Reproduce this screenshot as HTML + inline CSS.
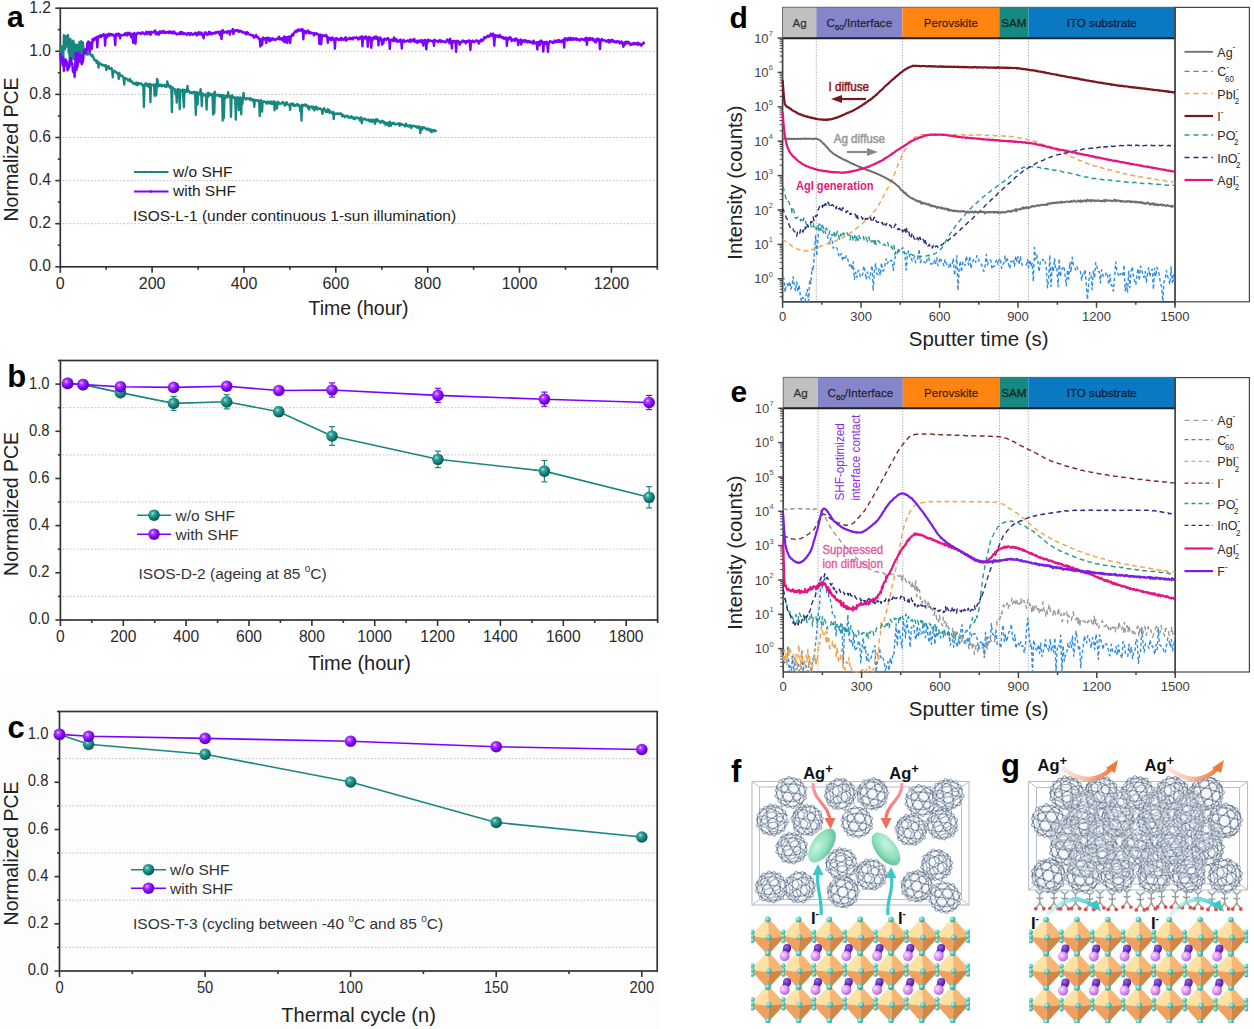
<!DOCTYPE html><html><head><meta charset="utf-8"><title>Figure</title><style>html,body{margin:0;padding:0;background:#fff;overflow:hidden}svg{display:block}svg text{font-family:"Liberation Sans",Arial,sans-serif}</style></head><body>
<svg width="1254" height="1029" viewBox="0 0 1254 1029">
<defs>
<radialGradient id="ballP" cx="0.38" cy="0.35" r="0.65">
 <stop offset="0" stop-color="#f4b8ff"/><stop offset="0.25" stop-color="#b040ff"/><stop offset="0.7" stop-color="#7a00f0"/><stop offset="1" stop-color="#5a00b0"/>
</radialGradient>
<radialGradient id="ballT" cx="0.38" cy="0.35" r="0.65">
 <stop offset="0" stop-color="#a8f0ea"/><stop offset="0.25" stop-color="#3aa89f"/><stop offset="0.7" stop-color="#117a72"/><stop offset="1" stop-color="#0a5650"/>
</radialGradient>

<pattern id="hexp" patternUnits="userSpaceOnUse" width="4.157" height="7.200">
 <path d="M0,1.20 L2.08,0 L4.16,1.20 M2.08,0 L2.08,-2.40 M0,1.20 L0,3.60 L2.08,4.80 L4.16,3.60 M2.08,4.80 L2.08,7.20 M4.16,1.20 L4.16,3.60" fill="none" stroke="#59606a" stroke-width="1.05"/>
</pattern>
<radialGradient id="fulshade" cx="0.45" cy="0.42" r="0.6">
 <stop offset="0" stop-color="#ffffff" stop-opacity="0.25"/><stop offset="0.7" stop-color="#ffffff" stop-opacity="0"/><stop offset="1" stop-color="#3a3f46" stop-opacity="0.35"/>
</radialGradient>
<symbol id="ful" viewBox="-16 -16 32 32" width="32" height="32" overflow="visible">
 <circle r="15" fill="#eef0f3"/>
 <circle r="15" fill="url(#hexp)"/>
 <circle r="15" fill="url(#fulshade)"/>
 <circle r="14.6" fill="none" stroke="#6a717a" stroke-width="1.2" stroke-dasharray="2,1.5"/>
</symbol>
<radialGradient id="cyb" cx="0.35" cy="0.35" r="0.7"><stop offset="0" stop-color="#c8fbf6"/><stop offset="0.5" stop-color="#55cfc6"/><stop offset="1" stop-color="#2a9a92"/></radialGradient>
<radialGradient id="pkb" cx="0.35" cy="0.35" r="0.7"><stop offset="0" stop-color="#fbe0ff"/><stop offset="0.6" stop-color="#d98cf0"/><stop offset="1" stop-color="#b060d0"/></radialGradient>
<radialGradient id="dpb" cx="0.35" cy="0.35" r="0.7"><stop offset="0" stop-color="#9b6be0"/><stop offset="0.6" stop-color="#6a2fc0"/><stop offset="1" stop-color="#4a1a90"/></radialGradient>
<radialGradient id="ell" cx="0.4" cy="0.35" r="0.7"><stop offset="0" stop-color="#c8f5df"/><stop offset="0.6" stop-color="#8ee0bb"/><stop offset="1" stop-color="#5cbf98"/></radialGradient>
<linearGradient id="pinkarr" x1="0" y1="0" x2="0" y2="1"><stop offset="0" stop-color="#f7a0b0"/><stop offset="1" stop-color="#f26a5a"/></linearGradient>
<linearGradient id="orarr" x1="0" y1="0" x2="1" y2="0"><stop offset="0" stop-color="#fbd6cc" stop-opacity="0.6"/><stop offset="1" stop-color="#f07a3a"/></linearGradient>
<linearGradient id="cyarr" x1="0" y1="0" x2="1" y2="0"><stop offset="0" stop-color="#b8f2f0" stop-opacity="0.6"/><stop offset="1" stop-color="#35c8c8"/></linearGradient>
<symbol id="c60_0" viewBox="-17 -17 34 34" width="34" height="34" overflow="visible"><circle r="14.2" fill="#eef2f7" fill-opacity="0.5"/><path d="M11.1 3.2L14.2 2.0M11.1 3.2L7.7 8.2M11.1 3.2L8.2 -1.3M7.4 12.0L10.5 10.8M7.4 12.0L2.1 14.4M7.4 12.0L7.7 8.2M14.2 2.0L13.9 5.8M14.2 2.0L14.3 -3.7M3.0 1.0L-2.0 -2.4M3.0 1.0L2.7 6.8M3.0 1.0L8.2 -1.3M-13.9 -5.8L-13.8 -2.5M-13.9 -5.8L-10.5 -10.8M-1.9 -14.7L-7.0 -12.4M-1.9 -14.7L3.4 -13.6M-11.0 7.5L-8.1 12.0M-11.0 7.5L-7.6 5.8M-11.0 7.5L-14.1 3.4M-8.1 12.0L-8.3 12.3M-8.1 12.0L-2.9 13.0M11.5 -8.1L8.4 -6.9M11.5 -8.1L8.3 -12.3M11.5 -8.1L14.3 -3.7M1.9 14.7L2.1 14.4M8.4 -6.9L3.4 -10.3M8.4 -6.9L8.2 -1.3M2.1 14.4L-2.9 13.0M-1.8 -8.1L-2.0 -2.4M-1.8 -8.1L-7.0 -9.1M-1.8 -8.1L3.4 -10.3M-2.0 -2.4L-7.3 -0.0M8.3 -12.3L3.4 -13.6M-7.0 -9.1L-7.0 -12.4M-7.0 -9.1L-10.4 -4.1M-13.8 -2.5L-10.4 -4.1M-13.8 -2.5L-14.1 3.4M-7.6 5.8L-2.6 9.2M-7.6 5.8L-7.3 -0.0M3.4 -10.3L3.4 -13.6M-2.6 9.2L2.7 6.8M-2.6 9.2L-2.9 13.0M7.7 8.2L2.7 6.8M-7.3 -0.0L-10.4 -4.1M-7.0 -12.4L-10.5 -10.8M-14.3 3.7L-14.1 3.4" stroke="#9ba7b6" stroke-width="1.0" fill="none" stroke-linecap="round"/><path d="M11.1 3.2h0.02M7.4 12.0h0.02M14.2 2.0h0.02M10.4 10.8h0.02M3.0 1.0h0.02M-13.9 -5.8h0.02M-1.9 -14.7h0.02M-11.0 7.5h0.02M-8.1 12.0h0.02M11.4 -8.1h0.02M8.4 -6.9h0.02M2.1 14.4h0.02M-1.8 -8.1h0.02M-2.0 -2.4h0.02M8.3 -12.3h0.02M-7.0 -9.1h0.02M-13.8 -2.5h0.02M14.3 -3.7h0.02M-7.6 5.8h0.02M3.4 -10.3h0.02M-2.6 9.2h0.02M7.7 8.2h0.02M-7.3 -0.0h0.02M-7.0 -12.4h0.02M2.7 6.8h0.02M8.2 -1.3h0.02M-10.4 -4.1h0.02M-2.9 13.0h0.02M3.3 -13.6h0.02M-14.1 3.4h0.02" stroke="#b3bdc9" stroke-width="2.3" stroke-linecap="round"/><path d="M-3.4 10.3L1.8 8.1M-3.4 10.3L-3.4 13.6M-3.4 10.3L-8.4 6.9M10.5 10.8L13.9 5.8M10.5 10.8L7.0 12.4M-13.9 -5.8L-14.2 -2.0M2.6 -9.2L-2.7 -6.8M2.6 -9.2L2.9 -13.0M2.6 -9.2L7.6 -5.8M-1.9 -14.7L-2.1 -14.4M1.8 8.1L2.0 2.4M1.8 8.1L7.0 9.1M1.9 14.7L-3.4 13.6M1.9 14.7L7.0 12.4M2.0 2.4L7.3 0.0M2.0 2.4L-3.0 -1.0M-8.3 12.3L-3.4 13.6M-8.3 12.3L-11.5 8.1M-2.7 -6.8L-7.7 -8.2M-2.7 -6.8L-3.0 -1.0M8.1 -12.0L8.3 -12.3M8.1 -12.0L2.9 -13.0M8.1 -12.0L11.0 -7.5M13.9 5.8L13.8 2.5M2.9 -13.0L-2.1 -14.4M11.0 -7.5L14.1 -3.4M11.0 -7.5L7.6 -5.8M14.3 -3.7L14.1 -3.4M-2.1 -14.4L-7.4 -12.0M13.8 2.5L10.4 4.1M13.8 2.5L14.1 -3.4M-8.2 1.3L-8.4 6.9M-8.2 1.3L-11.1 -3.2M-8.2 1.3L-3.0 -1.0M7.3 0.0L10.4 4.1M7.3 0.0L7.6 -5.8M-11.5 8.1L-8.4 6.9M-11.5 8.1L-14.3 3.7M10.4 4.1L7.0 9.1M-7.7 -8.2L-7.4 -12.0M-7.7 -8.2L-11.1 -3.2M7.0 12.4L7.0 9.1M-7.4 -12.0L-10.5 -10.8M-11.1 -3.2L-14.2 -2.0M-14.2 -2.0L-14.3 3.7" stroke="#6a7a90" stroke-width="1.25" fill="none" stroke-linecap="round"/><g fill="#dde4ec" stroke="#6a7a90" stroke-width="0.55"><circle cx="-3.4" cy="10.3" r="1.5"/><circle cx="2.6" cy="-9.2" r="1.5"/><circle cx="1.8" cy="8.1" r="1.5"/><circle cx="1.9" cy="14.7" r="1.5"/><circle cx="2.0" cy="2.4" r="1.5"/><circle cx="-8.3" cy="12.3" r="1.5"/><circle cx="-2.7" cy="-6.8" r="1.5"/><circle cx="8.1" cy="-12.0" r="1.5"/><circle cx="13.9" cy="5.8" r="1.5"/><circle cx="2.9" cy="-13.0" r="1.5"/><circle cx="11.0" cy="-7.5" r="1.5"/><circle cx="-3.4" cy="13.6" r="1.5"/><circle cx="-2.1" cy="-14.4" r="1.5"/><circle cx="13.8" cy="2.5" r="1.5"/><circle cx="-8.2" cy="1.3" r="1.5"/><circle cx="7.3" cy="0.0" r="1.5"/><circle cx="-11.5" cy="8.1" r="1.5"/><circle cx="10.4" cy="4.1" r="1.5"/><circle cx="-8.4" cy="6.9" r="1.5"/><circle cx="-7.7" cy="-8.2" r="1.5"/><circle cx="7.0" cy="12.4" r="1.5"/><circle cx="-7.4" cy="-12.0" r="1.5"/><circle cx="-11.1" cy="-3.2" r="1.5"/><circle cx="-3.0" cy="-1.0" r="1.5"/><circle cx="-10.5" cy="-10.8" r="1.5"/><circle cx="-14.2" cy="-2.0" r="1.5"/><circle cx="-14.3" cy="3.7" r="1.5"/><circle cx="14.1" cy="-3.4" r="1.5"/><circle cx="7.6" cy="-5.8" r="1.5"/><circle cx="7.0" cy="9.1" r="1.5"/></g></symbol><symbol id="c60_1" viewBox="-17 -17 34 34" width="34" height="34" overflow="visible"><circle r="14.2" fill="#eef2f7" fill-opacity="0.5"/><path d="M6.7 12.7L11.2 9.8M6.7 12.7L2.0 14.8M6.7 12.7L4.4 10.7M11.2 9.8L13.6 4.9M-1.5 11.5L-5.2 7.4M-1.5 11.5L-3.0 14.1M-1.5 11.5L4.4 10.7M-11.2 -9.0L-13.5 -3.5M-11.2 -9.0L-6.6 -11.1M-11.2 -9.0L-11.2 -9.8M8.2 -12.5L8.2 -11.7M1.8 -8.5L3.1 -12.4M1.8 -8.5L-4.2 -7.7M1.8 -8.5L5.4 -3.9M-14.1 5.0L-11.8 8.4M11.4 2.8L6.8 5.7M11.4 2.8L10.5 -3.1M11.4 2.8L13.6 4.9M6.8 5.7L3.1 1.6M6.8 5.7L4.4 10.7M-2.9 2.5L-5.2 7.4M-2.9 2.5L-6.5 -2.2M-2.9 2.5L3.1 1.6M11.9 -7.0L10.5 -3.1M11.9 -7.0L8.2 -11.7M11.9 -7.0L14.1 -5.0M-5.2 7.4L-10.3 5.8M10.5 -3.1L5.4 -3.9M8.2 -11.7L3.1 -12.4M-6.5 -2.2L-4.2 -7.7M-6.5 -2.2L-11.2 -0.1M-13.5 -3.5L-11.2 -0.1M-13.5 -3.5L-15.0 -1.0M14.1 -5.0L15.0 1.0M13.6 4.9L15.0 1.0M-11.8 8.4L-8.2 12.5M-11.8 8.4L-10.3 5.8M3.1 1.6L5.4 -3.9M-8.2 12.5L-3.0 14.1M3.1 -12.4L-2.0 -14.0M2.0 14.8L-3.0 14.1M-10.3 5.8L-11.2 -0.1M-4.2 -7.7L-6.6 -11.1M-2.0 -14.8L-2.0 -14.0M-2.0 -14.0L-6.6 -11.1" stroke="#9ba7b6" stroke-width="1.0" fill="none" stroke-linecap="round"/><path d="M6.7 12.7h0.02M11.2 9.8h0.02M-1.6 11.5h0.02M-11.2 -9.0h0.02M1.7 -8.5h0.02M11.3 2.8h0.02M6.8 5.7h0.02M-2.9 2.5h0.02M11.9 -7.0h0.02M-5.2 7.4h0.02M10.5 -3.1h0.02M8.2 -11.7h0.02M-6.6 -2.2h0.02M-13.5 -3.5h0.02M14.1 -5.0h0.02M13.6 4.9h0.02M-11.8 8.4h0.02M3.1 1.6h0.02M-8.2 12.5h0.02M3.1 -12.4h0.02M2.0 14.8h0.02M-10.3 5.8h0.02M-4.2 -7.7h0.02M-3.0 14.1h0.02M4.4 10.7h0.02M-2.0 -14.0h0.02M-6.6 -11.1h0.02M-11.2 -0.1h0.02M5.4 -3.9h0.02M-15.0 -1.0h0.02" stroke="#b3bdc9" stroke-width="2.3" stroke-linecap="round"/><path d="M2.0 14.0L6.6 11.1M2.0 14.0L-3.1 12.4M2.0 14.0L2.0 14.8M-3.1 -1.6L2.9 -2.5M-3.1 -1.6L-5.4 3.9M-3.1 -1.6L-6.8 -5.7M11.2 9.8L11.2 9.0M6.6 11.1L11.2 9.0M6.6 11.1L4.2 7.7M8.2 -12.5L3.0 -14.1M8.2 -12.5L11.8 -8.4M-14.1 5.0L-11.9 7.0M-14.1 5.0L-15.0 -1.0M2.9 -2.5L5.2 -7.4M2.9 -2.5L6.5 2.2M-11.9 7.0L-10.5 3.1M-11.9 7.0L-8.2 11.7M-1.8 8.5L-3.1 12.4M-1.8 8.5L-5.4 3.9M-1.8 8.5L4.2 7.7M5.2 -7.4L10.3 -5.8M5.2 -7.4L1.5 -11.5M-3.1 12.4L-8.2 11.7M-10.5 3.1L-5.4 3.9M-10.5 3.1L-11.4 -2.8M3.0 -14.1L-2.0 -14.8M3.0 -14.1L1.5 -11.5M11.2 9.0L13.5 3.5M14.1 -5.0L11.8 -8.4M-8.2 12.5L-8.2 11.7M13.5 3.5L11.2 0.1M13.5 3.5L15.0 1.0M-4.4 -10.7L-6.8 -5.7M-4.4 -10.7L-6.7 -12.7M-4.4 -10.7L1.5 -11.5M10.3 -5.8L11.2 0.1M10.3 -5.8L11.8 -8.4M-11.4 -2.8L-6.8 -5.7M-11.4 -2.8L-13.6 -4.9M11.2 0.1L6.5 2.2M-2.0 -14.8L-6.7 -12.7M4.2 7.7L6.5 2.2M-6.7 -12.7L-11.2 -9.8M-11.2 -9.8L-13.6 -4.9M-13.6 -4.9L-15.0 -1.0" stroke="#6a7a90" stroke-width="1.25" fill="none" stroke-linecap="round"/><g fill="#dde4ec" stroke="#6a7a90" stroke-width="0.55"><circle cx="2.0" cy="14.0" r="1.5"/><circle cx="-3.1" cy="-1.6" r="1.5"/><circle cx="6.6" cy="11.1" r="1.5"/><circle cx="8.2" cy="-12.5" r="1.5"/><circle cx="-14.1" cy="5.0" r="1.5"/><circle cx="2.9" cy="-2.5" r="1.5"/><circle cx="-11.9" cy="7.0" r="1.5"/><circle cx="-1.8" cy="8.5" r="1.5"/><circle cx="5.2" cy="-7.4" r="1.5"/><circle cx="-3.1" cy="12.4" r="1.5"/><circle cx="-10.5" cy="3.1" r="1.5"/><circle cx="3.0" cy="-14.1" r="1.5"/><circle cx="11.2" cy="9.0" r="1.5"/><circle cx="-5.4" cy="3.9" r="1.5"/><circle cx="13.5" cy="3.5" r="1.5"/><circle cx="-4.4" cy="-10.7" r="1.5"/><circle cx="10.3" cy="-5.8" r="1.5"/><circle cx="-11.4" cy="-2.8" r="1.5"/><circle cx="11.2" cy="0.1" r="1.5"/><circle cx="-6.8" cy="-5.7" r="1.5"/><circle cx="-2.0" cy="-14.8" r="1.5"/><circle cx="4.2" cy="7.7" r="1.5"/><circle cx="-6.7" cy="-12.7" r="1.5"/><circle cx="1.5" cy="-11.5" r="1.5"/><circle cx="-11.2" cy="-9.8" r="1.5"/><circle cx="-13.6" cy="-4.9" r="1.5"/><circle cx="15.0" cy="1.0" r="1.5"/><circle cx="-8.2" cy="11.7" r="1.5"/><circle cx="11.8" cy="-8.4" r="1.5"/><circle cx="6.5" cy="2.2" r="1.5"/></g></symbol><symbol id="c60_2" viewBox="-17 -17 34 34" width="34" height="34" overflow="visible"><circle r="14.2" fill="#eef2f7" fill-opacity="0.5"/><path d="M0.8 2.5L6.4 0.6M0.8 2.5L-1.1 7.8M0.8 2.5L-3.8 -1.4M2.6 11.3L8.2 9.5M2.6 11.3L0.5 14.3M2.6 11.3L-1.1 7.8M6.4 0.6L10.1 4.1M6.4 0.6L7.4 -5.2M8.2 9.5L10.1 4.1M8.2 9.5L9.6 11.3M-8.6 1.5L-12.4 -1.3M-8.6 1.5L-6.9 7.2M-8.6 1.5L-3.8 -1.4M-4.8 -14.2L-3.3 -13.6M-6.9 13.0L-5.4 13.7M2.8 -9.1L-2.8 -7.2M2.8 -9.1L2.5 -13.0M2.8 -9.1L7.4 -5.2M4.8 14.2L0.5 14.3M4.8 14.2L9.6 11.3M-2.8 -7.2L-6.6 -10.0M-2.8 -7.2L-3.8 -1.4M0.5 14.3L-5.4 13.7M-11.4 -7.0L-12.4 -1.3M-11.4 -7.0L-12.9 -7.7M-11.4 -7.0L-6.6 -10.0M6.9 -13.0L2.5 -13.0M6.9 -13.0L11.5 -9.1M10.1 4.1L13.4 0.5M-12.4 -1.3L-14.5 1.6M2.5 -13.0L-3.3 -13.6M11.5 -9.1L11.8 -5.2M11.5 -9.1L12.8 -7.4M7.4 -5.2L11.8 -5.2M-12.8 7.4L-9.1 10.2M-12.8 7.4L-14.5 1.6M-6.6 -10.0L-3.3 -13.6M-9.1 10.2L-6.9 7.2M-9.1 10.2L-5.4 13.7M13.4 0.5L14.8 2.3M13.4 0.5L11.8 -5.2M14.8 2.3L12.9 7.7M-1.1 7.8L-6.9 7.2M-14.5 1.6L-14.8 -2.3M9.6 11.3L12.9 7.7" stroke="#9ba7b6" stroke-width="1.0" fill="none" stroke-linecap="round"/><path d="M0.8 2.5h0.02M2.6 11.3h0.02M6.4 0.6h0.02M8.2 9.5h0.02M-8.6 1.5h0.02M2.8 -9.1h0.02M4.8 14.2h0.02M-2.8 -7.2h0.02M0.4 14.3h0.02M-11.4 -7.0h0.02M6.8 -13.0h0.02M10.1 4.1h0.02M-12.4 -1.3h0.02M2.5 -13.0h0.02M-12.9 -7.7h0.02M11.5 -9.1h0.02M7.4 -5.2h0.02M-12.8 7.4h0.02M-6.6 -10.0h0.02M-9.1 10.2h0.02M13.4 0.5h0.02M14.8 2.3h0.02M-1.1 7.8h0.02M-14.5 1.6h0.02M-6.9 7.2h0.02M-3.8 -1.4h0.02M9.5 11.3h0.02M11.8 -5.2h0.02M-5.4 13.7h0.02M-3.3 -13.6h0.02" stroke="#b3bdc9" stroke-width="2.3" stroke-linecap="round"/><path d="M6.6 10.0L11.4 7.0M6.6 10.0L3.3 13.6M6.6 10.0L2.8 7.2M-10.1 -4.1L-13.4 -0.5M-10.1 -4.1L-8.2 -9.5M-10.1 -4.1L-6.4 -0.6M9.1 -10.2L6.9 -7.2M9.1 -10.2L5.4 -13.7M9.1 -10.2L12.8 -7.4M-4.8 -14.2L-0.5 -14.3M-4.8 -14.2L-9.6 -11.3M-11.5 9.1L-6.9 13.0M-11.5 9.1L-12.8 7.4M-11.5 9.1L-11.8 5.2M11.4 7.0L12.4 1.3M11.4 7.0L12.9 7.7M-6.9 13.0L-2.5 13.0M4.8 14.2L3.3 13.6M12.4 1.3L14.5 -1.6M12.4 1.3L8.6 -1.5M-2.5 13.0L3.3 13.6M-2.5 13.0L-2.8 9.1M6.9 -7.2L1.1 -7.8M6.9 -7.2L8.6 -1.5M6.9 -13.0L5.4 -13.7M5.4 -13.7L-0.5 -14.3M-12.9 -7.7L-9.6 -11.3M-12.9 -7.7L-14.8 -2.3M-13.4 -0.5L-14.8 -2.3M-13.4 -0.5L-11.8 5.2M-0.5 -14.3L-2.6 -11.3M3.8 1.4L2.8 7.2M3.8 1.4L-0.8 -2.5M3.8 1.4L8.6 -1.5M14.5 -1.6L14.8 2.3M14.5 -1.6L12.8 -7.4M-2.8 9.1L2.8 7.2M-2.8 9.1L-7.4 5.2M-9.6 -11.3L-8.2 -9.5M1.1 -7.8L-2.6 -11.3M1.1 -7.8L-0.8 -2.5M-2.6 -11.3L-8.2 -9.5M-0.8 -2.5L-6.4 -0.6M-6.4 -0.6L-7.4 5.2M-7.4 5.2L-11.8 5.2" stroke="#6a7a90" stroke-width="1.25" fill="none" stroke-linecap="round"/><g fill="#dde4ec" stroke="#6a7a90" stroke-width="0.55"><circle cx="6.6" cy="10.0" r="1.5"/><circle cx="-10.1" cy="-4.1" r="1.5"/><circle cx="9.1" cy="-10.2" r="1.5"/><circle cx="-4.8" cy="-14.2" r="1.5"/><circle cx="-11.5" cy="9.1" r="1.5"/><circle cx="11.4" cy="7.0" r="1.5"/><circle cx="-6.9" cy="13.0" r="1.5"/><circle cx="12.4" cy="1.3" r="1.5"/><circle cx="-2.5" cy="13.0" r="1.5"/><circle cx="6.9" cy="-7.2" r="1.5"/><circle cx="5.4" cy="-13.7" r="1.5"/><circle cx="-13.4" cy="-0.5" r="1.5"/><circle cx="3.3" cy="13.6" r="1.5"/><circle cx="-0.5" cy="-14.3" r="1.5"/><circle cx="3.8" cy="1.4" r="1.5"/><circle cx="14.5" cy="-1.6" r="1.5"/><circle cx="-2.8" cy="9.1" r="1.5"/><circle cx="2.8" cy="7.2" r="1.5"/><circle cx="-9.6" cy="-11.3" r="1.5"/><circle cx="1.1" cy="-7.8" r="1.5"/><circle cx="-2.6" cy="-11.3" r="1.5"/><circle cx="-0.8" cy="-2.5" r="1.5"/><circle cx="8.6" cy="-1.5" r="1.5"/><circle cx="-8.2" cy="-9.5" r="1.5"/><circle cx="-6.4" cy="-0.6" r="1.5"/><circle cx="-14.8" cy="-2.3" r="1.5"/><circle cx="-7.4" cy="5.2" r="1.5"/><circle cx="12.8" cy="-7.4" r="1.5"/><circle cx="12.9" cy="7.7" r="1.5"/><circle cx="-11.8" cy="5.2" r="1.5"/></g></symbol><symbol id="c60_3" viewBox="-17 -17 34 34" width="34" height="34" overflow="visible"><circle r="14.2" fill="#eef2f7" fill-opacity="0.5"/><path d="M-2.0 11.3L3.4 9.1M-2.0 11.3L-2.5 14.1M-2.0 11.3L-7.0 8.1M2.4 14.8L7.7 12.6M2.4 14.8L-2.5 14.1M3.4 9.1L8.3 9.8M3.4 9.1L3.7 3.7M7.7 12.6L8.3 9.8M7.7 12.6L10.6 10.4M-10.6 8.9L-13.9 4.3M-10.6 8.9L-7.8 12.7M-10.6 8.9L-7.0 8.1M8.3 -11.8L7.8 -12.7M8.3 -11.8L3.5 -12.5M8.3 -11.8L11.6 -7.2M-6.9 -11.2L-1.9 -13.9M-6.9 -11.2L-10.6 -10.4M-6.9 -11.2L-6.6 -7.0M-1.3 0.4L-6.7 2.6M-1.3 0.4L-1.3 -5.5M-1.3 0.4L3.7 3.7M-6.7 2.6L-10.0 -2.0M-6.7 2.6L-7.0 8.1M-13.6 -1.2L-13.9 4.3M-13.6 -1.2L-13.9 -5.4M-13.6 -1.2L-10.0 -2.0M3.8 -8.2L-1.3 -5.5M3.8 -8.2L3.5 -12.5M3.8 -8.2L8.8 -5.0M8.3 9.8L11.6 4.7M-13.9 4.3L-14.4 3.4M-1.3 -5.5L-6.6 -7.0M3.5 -12.5L-1.9 -13.9M-13.9 -5.4L-10.6 -10.4M8.8 -5.0L8.8 1.0M8.8 -5.0L11.6 -7.2M3.7 3.7L8.8 1.0M-10.0 -2.0L-6.6 -7.0M-1.9 -13.9L-2.4 -14.8M11.6 4.7L14.4 2.5M11.6 4.7L8.8 1.0M14.4 -3.4L14.4 2.5M14.4 -3.4L11.6 -7.2M14.4 2.5L13.9 5.4M-2.5 14.1L-7.8 12.7" stroke="#9ba7b6" stroke-width="1.0" fill="none" stroke-linecap="round"/><path d="M-2.0 11.3h0.02M2.4 14.8h0.02M3.4 9.1h0.02M7.7 12.6h0.02M-10.6 8.9h0.02M8.3 -11.8h0.02M-6.9 -11.2h0.02M-1.3 0.4h0.02M-6.7 2.6h0.02M-13.6 -1.2h0.02M3.8 -8.2h0.02M8.2 9.8h0.02M-13.9 4.3h0.02M-1.3 -5.5h0.02M3.5 -12.5h0.02M-13.9 -5.4h0.02M8.8 -5.0h0.02M3.7 3.7h0.02M-10.0 -2.0h0.02M-1.9 -13.9h0.02M11.6 4.7h0.02M14.4 -3.4h0.02M14.4 2.5h0.02M-2.5 14.1h0.02M-10.6 -10.4h0.02M-7.8 12.7h0.02M-7.0 8.1h0.02M8.8 1.0h0.02M11.6 -7.2h0.02M-6.6 -7.0h0.02" stroke="#b3bdc9" stroke-width="2.3" stroke-linecap="round"/><path d="M2.4 14.8L1.9 13.9M10.0 2.0L13.6 1.2M10.0 2.0L6.6 7.0M10.0 2.0L6.7 -2.6M-8.3 -9.8L-11.6 -4.7M-8.3 -9.8L-7.7 -12.6M-8.3 -9.8L-3.4 -9.1M-8.8 5.0L-3.8 8.2M-8.8 5.0L-11.6 7.2M-8.8 5.0L-8.8 -1.0M13.6 1.2L13.9 -4.3M13.6 1.2L13.9 5.4M-3.8 8.2L1.3 5.5M-3.8 8.2L-3.5 12.5M6.9 11.2L1.9 13.9M6.9 11.2L6.6 7.0M6.9 11.2L10.6 10.4M13.9 -4.3L14.4 -3.4M13.9 -4.3L10.6 -8.9M1.9 13.9L-3.5 12.5M1.3 5.5L6.6 7.0M1.3 5.5L1.3 -0.4M7.8 -12.7L2.5 -14.1M7.8 -12.7L10.6 -8.9M-13.9 -5.4L-14.4 -2.5M-11.6 -4.7L-14.4 -2.5M-11.6 -4.7L-8.8 -1.0M-11.6 7.2L-8.3 11.8M-11.6 7.2L-14.4 3.4M-8.3 11.8L-7.8 12.7M-8.3 11.8L-3.5 12.5M7.0 -8.1L6.7 -2.6M7.0 -8.1L2.0 -11.3M7.0 -8.1L10.6 -8.9M1.3 -0.4L6.7 -2.6M1.3 -0.4L-3.7 -3.7M-14.4 3.4L-14.4 -2.5M-10.6 -10.4L-7.7 -12.6M2.5 -14.1L-2.4 -14.8M2.5 -14.1L2.0 -11.3M10.6 10.4L13.9 5.4M-2.4 -14.8L-7.7 -12.6M2.0 -11.3L-3.4 -9.1M-3.4 -9.1L-3.7 -3.7M-3.7 -3.7L-8.8 -1.0" stroke="#6a7a90" stroke-width="1.25" fill="none" stroke-linecap="round"/><g fill="#dde4ec" stroke="#6a7a90" stroke-width="0.55"><circle cx="10.0" cy="2.0" r="1.5"/><circle cx="-8.3" cy="-9.8" r="1.5"/><circle cx="-8.8" cy="5.0" r="1.5"/><circle cx="13.6" cy="1.2" r="1.5"/><circle cx="-3.8" cy="8.2" r="1.5"/><circle cx="6.9" cy="11.2" r="1.5"/><circle cx="13.9" cy="-4.3" r="1.5"/><circle cx="1.9" cy="13.9" r="1.5"/><circle cx="1.3" cy="5.5" r="1.5"/><circle cx="7.8" cy="-12.7" r="1.5"/><circle cx="-11.6" cy="-4.7" r="1.5"/><circle cx="-11.6" cy="7.2" r="1.5"/><circle cx="6.6" cy="7.0" r="1.5"/><circle cx="-8.3" cy="11.8" r="1.5"/><circle cx="7.0" cy="-8.1" r="1.5"/><circle cx="1.3" cy="-0.4" r="1.5"/><circle cx="6.7" cy="-2.6" r="1.5"/><circle cx="-14.4" cy="3.4" r="1.5"/><circle cx="2.5" cy="-14.1" r="1.5"/><circle cx="10.6" cy="10.4" r="1.5"/><circle cx="-2.4" cy="-14.8" r="1.5"/><circle cx="2.0" cy="-11.3" r="1.5"/><circle cx="10.6" cy="-8.9" r="1.5"/><circle cx="-7.7" cy="-12.6" r="1.5"/><circle cx="-3.4" cy="-9.1" r="1.5"/><circle cx="-14.4" cy="-2.5" r="1.5"/><circle cx="-3.7" cy="-3.7" r="1.5"/><circle cx="-3.5" cy="12.5" r="1.5"/><circle cx="13.9" cy="5.4" r="1.5"/><circle cx="-8.8" cy="-1.0" r="1.5"/></g></symbol><symbol id="c60_4" viewBox="-17 -17 34 34" width="34" height="34" overflow="visible"><circle r="14.2" fill="#eef2f7" fill-opacity="0.5"/><path d="M11.6 8.3L12.5 8.2M11.6 8.3L7.0 11.4M11.6 8.3L12.4 3.3M3.2 14.3L4.0 14.2M3.2 14.3L-2.8 14.1M3.2 14.3L7.0 11.4M8.2 3.3L5.6 -1.9M8.2 3.3L4.9 8.3M8.2 3.3L12.4 3.3M-8.7 -11.1L-7.9 -7.7M-8.7 -11.1L-4.0 -14.2M-8.7 -11.1L-12.5 -8.2M5.6 -13.8L1.4 -13.9M5.6 -13.8L10.6 -10.4M-9.1 2.6L-9.9 7.6M-9.1 2.6L-3.7 2.9M-9.1 2.6L-11.2 -2.7M-9.9 7.6L-12.7 7.3M-9.9 7.6L-4.9 11.0M14.8 -2.0L14.0 -1.9M-5.6 13.8L-2.8 14.1M14.0 -1.9L11.4 -7.1M14.0 -1.9L12.4 3.3M-2.8 14.1L-4.9 11.0M-12.7 7.3L-10.6 10.4M-12.7 7.3L-14.8 2.0M7.2 -7.1L5.6 -1.9M7.2 -7.1L2.2 -10.5M7.2 -7.1L11.4 -7.1M5.6 -1.9L-0.4 -2.1M2.2 -10.5L1.4 -13.9M2.2 -10.5L-2.4 -7.4M-7.9 -7.7L-2.4 -7.4M-7.9 -7.7L-11.2 -2.7M-3.7 2.9L-1.1 8.1M-3.7 2.9L-0.4 -2.1M11.4 -7.1L10.6 -10.4M-1.1 8.1L4.9 8.3M-1.1 8.1L-4.9 11.0M-14.8 2.0L-14.1 -3.0M7.0 11.4L4.9 8.3M-0.4 -2.1L-2.4 -7.4M1.4 -13.9L-4.0 -14.2M-12.5 -8.2L-14.1 -3.0M-14.1 -3.0L-11.2 -2.7" stroke="#9ba7b6" stroke-width="1.0" fill="none" stroke-linecap="round"/><path d="M11.6 8.3h0.02M3.1 14.3h0.02M8.2 3.3h0.02M-8.7 -11.1h0.02M5.6 -13.8h0.02M-9.2 2.6h0.02M-9.9 7.6h0.02M14.0 -1.9h0.02M-2.8 14.1h0.02M-12.8 7.3h0.02M7.2 -7.1h0.02M5.6 -1.9h0.02M2.2 -10.5h0.02M-7.9 -7.7h0.02M-3.7 2.9h0.02M11.4 -7.1h0.02M-1.1 8.1h0.02M-14.8 2.0h0.02M7.0 11.4h0.02M-0.4 -2.1h0.02M1.4 -13.9h0.02M4.8 8.3h0.02M12.4 3.3h0.02M-4.0 -14.2h0.02M-12.5 -8.2h0.02M-2.5 -7.4h0.02M-14.1 -3.0h0.02M-4.9 11.0h0.02M10.6 -10.4h0.02M-11.2 -2.7h0.02" stroke="#b3bdc9" stroke-width="2.3" stroke-linecap="round"/><path d="M-11.4 7.1L-7.2 7.1M-11.4 7.1L-10.6 10.4M-11.4 7.1L-14.0 1.9M12.5 8.2L8.7 11.1M12.5 8.2L14.1 3.0M4.0 14.2L8.7 11.1M4.0 14.2L-1.4 13.9M1.1 -8.1L-4.9 -8.3M1.1 -8.1L4.9 -11.0M1.1 -8.1L3.7 -2.9M5.6 -13.8L2.8 -14.1M-7.2 7.1L-5.6 1.9M-7.2 7.1L-2.2 10.5M14.8 -2.0L12.7 -7.3M14.8 -2.0L14.1 3.0M-5.6 13.8L-10.6 10.4M-5.6 13.8L-1.4 13.9M-5.6 1.9L0.4 2.1M-5.6 1.9L-8.2 -3.3M-4.9 -8.3L-7.0 -11.4M-4.9 -8.3L-8.2 -3.3M9.9 -7.6L12.7 -7.3M9.9 -7.6L4.9 -11.0M9.9 -7.6L9.1 -2.6M8.7 11.1L7.9 7.7M12.7 -7.3L10.6 -10.4M4.9 -11.0L2.8 -14.1M9.1 -2.6L11.2 2.7M9.1 -2.6L3.7 -2.9M14.1 3.0L11.2 2.7M2.8 -14.1L-3.2 -14.3M7.9 7.7L2.4 7.4M7.9 7.7L11.2 2.7M-12.4 -3.3L-14.0 1.9M-12.4 -3.3L-11.6 -8.3M-12.4 -3.3L-8.2 -3.3M0.4 2.1L2.4 7.4M0.4 2.1L3.7 -2.9M-14.8 2.0L-14.0 1.9M2.4 7.4L-2.2 10.5M-7.0 -11.4L-3.2 -14.3M-7.0 -11.4L-11.6 -8.3M-1.4 13.9L-2.2 10.5M-3.2 -14.3L-4.0 -14.2M-11.6 -8.3L-12.5 -8.2" stroke="#6a7a90" stroke-width="1.25" fill="none" stroke-linecap="round"/><g fill="#dde4ec" stroke="#6a7a90" stroke-width="0.55"><circle cx="-11.4" cy="7.1" r="1.5"/><circle cx="12.5" cy="8.2" r="1.5"/><circle cx="4.0" cy="14.2" r="1.5"/><circle cx="1.1" cy="-8.1" r="1.5"/><circle cx="-7.2" cy="7.1" r="1.5"/><circle cx="14.8" cy="-2.0" r="1.5"/><circle cx="-5.6" cy="13.8" r="1.5"/><circle cx="-5.6" cy="1.9" r="1.5"/><circle cx="-4.9" cy="-8.3" r="1.5"/><circle cx="9.9" cy="-7.6" r="1.5"/><circle cx="8.7" cy="11.1" r="1.5"/><circle cx="12.7" cy="-7.3" r="1.5"/><circle cx="4.9" cy="-11.0" r="1.5"/><circle cx="9.1" cy="-2.6" r="1.5"/><circle cx="14.1" cy="3.0" r="1.5"/><circle cx="-10.6" cy="10.4" r="1.5"/><circle cx="2.8" cy="-14.1" r="1.5"/><circle cx="7.9" cy="7.7" r="1.5"/><circle cx="-12.4" cy="-3.3" r="1.5"/><circle cx="0.4" cy="2.1" r="1.5"/><circle cx="2.4" cy="7.4" r="1.5"/><circle cx="-14.0" cy="1.9" r="1.5"/><circle cx="-7.0" cy="-11.4" r="1.5"/><circle cx="-1.4" cy="13.9" r="1.5"/><circle cx="-3.2" cy="-14.3" r="1.5"/><circle cx="-11.6" cy="-8.3" r="1.5"/><circle cx="-8.2" cy="-3.3" r="1.5"/><circle cx="11.2" cy="2.7" r="1.5"/><circle cx="3.7" cy="-2.9" r="1.5"/><circle cx="-2.2" cy="10.5" r="1.5"/></g></symbol><symbol id="c60_5" viewBox="-17 -17 34 34" width="34" height="34" overflow="visible"><circle r="14.2" fill="#eef2f7" fill-opacity="0.5"/><path d="M-5.4 1.5L-3.7 -4.3M-5.4 1.5L-1.1 5.8M-5.4 1.5L-10.1 3.4M4.7 4.3L6.4 -1.5M4.7 4.3L8.5 7.4M4.7 4.3L-1.1 5.8M14.9 -0.9L14.3 4.0M-3.7 -4.3L2.1 -5.8M-3.7 -4.3L-6.8 -8.3M6.4 -1.5L2.1 -5.8M6.4 -1.5L11.1 -2.1M-8.7 8.8L-10.5 10.4M-8.7 8.8L-3.2 10.4M-8.7 8.8L-10.1 3.4M13.6 -6.4L11.7 -7.0M8.3 12.5L6.4 11.9M-11.5 -6.4L-13.1 -0.6M-11.5 -6.4L-12.2 -8.5M-11.5 -6.4L-6.8 -8.3M12.5 3.4L8.5 7.4M12.5 3.4L14.3 4.0M12.5 3.4L11.1 -2.1M-13.1 -0.6L-14.9 0.9M-13.1 -0.6L-10.1 3.4M8.5 7.4L6.4 11.9M12.2 8.5L14.3 4.0M-13.6 6.4L-10.5 10.4M-13.6 6.4L-14.9 0.9M-8.3 -12.5L-12.2 -8.5M-8.3 -12.5L-3.6 -14.3M2.1 -5.8L2.7 -10.7M-10.5 10.4L-6.7 13.4M-3.6 -14.3L-2.8 -12.2M-3.6 -14.3L1.2 -14.9M-6.8 -8.3L-2.8 -12.2M-1.2 14.9L0.6 13.4M-1.2 14.9L-6.7 13.4M0.6 13.4L-3.2 10.4M0.6 13.4L6.4 11.9M2.7 -10.7L7.5 -11.3M2.7 -10.7L-2.8 -12.2M6.7 -13.4L7.5 -11.3M7.5 -11.3L11.7 -7.0M-1.1 5.8L-3.2 10.4M11.1 -2.1L11.7 -7.0" stroke="#9ba7b6" stroke-width="1.0" fill="none" stroke-linecap="round"/><path d="M-5.4 1.5h0.02M4.7 4.3h0.02M-3.7 -4.3h0.02M6.4 -1.5h0.02M-8.7 8.8h0.02M13.5 -6.4h0.02M8.3 12.5h0.02M-11.5 -6.4h0.02M12.5 3.4h0.02M-13.1 -0.6h0.02M8.5 7.4h0.02M2.1 -5.8h0.02M-10.5 10.4h0.02M-12.3 -8.5h0.02M-3.6 -14.3h0.02M-6.8 -8.3h0.02M-1.2 14.9h0.02M14.3 4.0h0.02M-14.9 0.9h0.02M0.6 13.4h0.02M2.7 -10.7h0.02M6.7 -13.4h0.02M7.4 -11.3h0.02M-1.1 5.8h0.02M-3.2 10.4h0.02M-10.1 3.4h0.02M11.1 -2.1h0.02M-2.9 -12.2h0.02M6.4 11.9h0.02M11.7 -7.0h0.02" stroke="#b3bdc9" stroke-width="2.3" stroke-linecap="round"/><path d="M14.9 -0.9L13.6 -6.4M14.9 -0.9L13.1 0.6M-2.1 5.8L-2.7 10.7M-2.1 5.8L-6.4 1.5M-2.1 5.8L3.7 4.3M-0.6 -13.4L3.2 -10.4M-0.6 -13.4L-6.4 -11.9M-0.6 -13.4L1.2 -14.9M-12.5 -3.4L-8.5 -7.4M-12.5 -3.4L-11.1 2.1M-12.5 -3.4L-14.3 -4.0M3.6 14.3L8.3 12.5M3.6 14.3L-1.2 14.9M3.6 14.3L2.8 12.2M13.6 -6.4L10.5 -10.4M8.3 12.5L12.2 8.5M10.5 -10.4L6.7 -13.4M10.5 -10.4L8.7 -8.8M12.2 8.5L11.5 6.4M-13.6 6.4L-11.7 7.0M3.2 -10.4L1.1 -5.8M3.2 -10.4L8.7 -8.8M-8.3 -12.5L-6.4 -11.9M-12.2 -8.5L-14.3 -4.0M-6.4 -11.9L-8.5 -7.4M-11.7 7.0L-11.1 2.1M-11.7 7.0L-7.5 11.3M-2.7 10.7L-7.5 11.3M-2.7 10.7L2.8 12.2M-14.9 0.9L-14.3 -4.0M-8.5 -7.4L-4.7 -4.3M10.1 -3.4L13.1 0.6M10.1 -3.4L5.4 -1.5M10.1 -3.4L8.7 -8.8M6.7 -13.4L1.2 -14.9M11.5 6.4L13.1 0.6M11.5 6.4L6.8 8.3M-6.7 13.4L-7.5 11.3M-11.1 2.1L-6.4 1.5M1.1 -5.8L-4.7 -4.3M1.1 -5.8L5.4 -1.5M-4.7 -4.3L-6.4 1.5M5.4 -1.5L3.7 4.3M3.7 4.3L6.8 8.3M6.8 8.3L2.8 12.2" stroke="#6a7a90" stroke-width="1.25" fill="none" stroke-linecap="round"/><g fill="#dde4ec" stroke="#6a7a90" stroke-width="0.55"><circle cx="14.9" cy="-0.9" r="1.5"/><circle cx="-2.1" cy="5.8" r="1.5"/><circle cx="-0.6" cy="-13.4" r="1.5"/><circle cx="-12.5" cy="-3.4" r="1.5"/><circle cx="3.6" cy="14.3" r="1.5"/><circle cx="10.5" cy="-10.4" r="1.5"/><circle cx="12.2" cy="8.5" r="1.5"/><circle cx="-13.6" cy="6.4" r="1.5"/><circle cx="3.2" cy="-10.4" r="1.5"/><circle cx="-8.3" cy="-12.5" r="1.5"/><circle cx="-6.4" cy="-11.9" r="1.5"/><circle cx="-11.7" cy="7.0" r="1.5"/><circle cx="-2.7" cy="10.7" r="1.5"/><circle cx="-8.5" cy="-7.4" r="1.5"/><circle cx="10.1" cy="-3.4" r="1.5"/><circle cx="11.5" cy="6.4" r="1.5"/><circle cx="13.1" cy="0.6" r="1.5"/><circle cx="-6.7" cy="13.4" r="1.5"/><circle cx="-11.1" cy="2.1" r="1.5"/><circle cx="1.1" cy="-5.8" r="1.5"/><circle cx="-4.7" cy="-4.3" r="1.5"/><circle cx="5.4" cy="-1.5" r="1.5"/><circle cx="8.7" cy="-8.8" r="1.5"/><circle cx="-6.4" cy="1.5" r="1.5"/><circle cx="3.7" cy="4.3" r="1.5"/><circle cx="-7.5" cy="11.3" r="1.5"/><circle cx="6.8" cy="8.3" r="1.5"/><circle cx="1.2" cy="-14.9" r="1.5"/><circle cx="-14.3" cy="-4.0" r="1.5"/><circle cx="2.8" cy="12.2" r="1.5"/></g></symbol></defs>
<rect width="1254" height="1029" fill="#ffffff"/><rect x="0" y="672" width="661" height="357" fill="#fdfdfd"/>
<line x1="62.3" y1="223.7" x2="656.3" y2="223.7" stroke="#bdbdbd" stroke-width="1" stroke-dasharray="1.6,2"/>
<line x1="62.3" y1="180.6" x2="656.3" y2="180.6" stroke="#bdbdbd" stroke-width="1" stroke-dasharray="1.6,2"/>
<line x1="62.3" y1="137.5" x2="656.3" y2="137.5" stroke="#bdbdbd" stroke-width="1" stroke-dasharray="1.6,2"/>
<line x1="62.3" y1="94.4" x2="656.3" y2="94.4" stroke="#bdbdbd" stroke-width="1" stroke-dasharray="1.6,2"/>
<line x1="62.3" y1="51.3" x2="656.3" y2="51.3" stroke="#bdbdbd" stroke-width="1" stroke-dasharray="1.6,2"/>
<rect x="60.3" y="8.2" width="597" height="258.6" fill="none" stroke="#333" stroke-width="1.7"/>
<line x1="60.3" y1="266.8" x2="60.3" y2="272.8" stroke="#333" stroke-width="1.6" />
<line x1="152.1" y1="266.8" x2="152.1" y2="272.8" stroke="#333" stroke-width="1.6" />
<line x1="244" y1="266.8" x2="244" y2="272.8" stroke="#333" stroke-width="1.6" />
<line x1="335.8" y1="266.8" x2="335.8" y2="272.8" stroke="#333" stroke-width="1.6" />
<line x1="427.7" y1="266.8" x2="427.7" y2="272.8" stroke="#333" stroke-width="1.6" />
<line x1="519.5" y1="266.8" x2="519.5" y2="272.8" stroke="#333" stroke-width="1.6" />
<line x1="611.4" y1="266.8" x2="611.4" y2="272.8" stroke="#333" stroke-width="1.6" />
<line x1="106.2" y1="266.8" x2="106.2" y2="269.8" stroke="#333" stroke-width="1.6" />
<line x1="198.1" y1="266.8" x2="198.1" y2="269.8" stroke="#333" stroke-width="1.6" />
<line x1="289.9" y1="266.8" x2="289.9" y2="269.8" stroke="#333" stroke-width="1.6" />
<line x1="381.8" y1="266.8" x2="381.8" y2="269.8" stroke="#333" stroke-width="1.6" />
<line x1="473.6" y1="266.8" x2="473.6" y2="269.8" stroke="#333" stroke-width="1.6" />
<line x1="565.5" y1="266.8" x2="565.5" y2="269.8" stroke="#333" stroke-width="1.6" />
<line x1="657.3" y1="266.8" x2="657.3" y2="269.8" stroke="#333" stroke-width="1.6" />
<line x1="55.3" y1="266.8" x2="60.3" y2="266.8" stroke="#333" stroke-width="1.6" />
<line x1="55.3" y1="223.7" x2="60.3" y2="223.7" stroke="#333" stroke-width="1.6" />
<line x1="55.3" y1="180.6" x2="60.3" y2="180.6" stroke="#333" stroke-width="1.6" />
<line x1="55.3" y1="137.5" x2="60.3" y2="137.5" stroke="#333" stroke-width="1.6" />
<line x1="55.3" y1="94.4" x2="60.3" y2="94.4" stroke="#333" stroke-width="1.6" />
<line x1="55.3" y1="51.3" x2="60.3" y2="51.3" stroke="#333" stroke-width="1.6" />
<line x1="55.3" y1="8.2" x2="60.3" y2="8.2" stroke="#333" stroke-width="1.6" />
<line x1="57.8" y1="245.2" x2="60.3" y2="245.2" stroke="#333" stroke-width="1.6" />
<line x1="57.8" y1="202.1" x2="60.3" y2="202.1" stroke="#333" stroke-width="1.6" />
<line x1="57.8" y1="159.1" x2="60.3" y2="159.1" stroke="#333" stroke-width="1.6" />
<line x1="57.8" y1="115.9" x2="60.3" y2="115.9" stroke="#333" stroke-width="1.6" />
<line x1="57.8" y1="72.8" x2="60.3" y2="72.8" stroke="#333" stroke-width="1.6" />
<line x1="57.8" y1="29.7" x2="60.3" y2="29.7" stroke="#333" stroke-width="1.6" />
<text transform="translate(60.3,289.2) scale(1,1.06)" font-size="16" fill="#2a2a2a" text-anchor="middle" font-weight="normal" >0</text>
<text transform="translate(152.1,289.2) scale(1,1.06)" font-size="16" fill="#2a2a2a" text-anchor="middle" font-weight="normal" >200</text>
<text transform="translate(244.0,289.2) scale(1,1.06)" font-size="16" fill="#2a2a2a" text-anchor="middle" font-weight="normal" >400</text>
<text transform="translate(335.8,289.2) scale(1,1.06)" font-size="16" fill="#2a2a2a" text-anchor="middle" font-weight="normal" >600</text>
<text transform="translate(427.7,289.2) scale(1,1.06)" font-size="16" fill="#2a2a2a" text-anchor="middle" font-weight="normal" >800</text>
<text transform="translate(519.5,289.2) scale(1,1.06)" font-size="16" fill="#2a2a2a" text-anchor="middle" font-weight="normal" >1000</text>
<text transform="translate(611.4,289.2) scale(1,1.06)" font-size="16" fill="#2a2a2a" text-anchor="middle" font-weight="normal" >1200</text>
<text transform="translate(51.0,271.2) scale(1,1.1)" font-size="15.7" fill="#2a2a2a" text-anchor="end" font-weight="normal" >0.0</text>
<text transform="translate(51.0,228.1) scale(1,1.1)" font-size="15.7" fill="#2a2a2a" text-anchor="end" font-weight="normal" >0.2</text>
<text transform="translate(51.0,185.0) scale(1,1.1)" font-size="15.7" fill="#2a2a2a" text-anchor="end" font-weight="normal" >0.4</text>
<text transform="translate(51.0,141.9) scale(1,1.1)" font-size="15.7" fill="#2a2a2a" text-anchor="end" font-weight="normal" >0.6</text>
<text transform="translate(51.0,98.8) scale(1,1.1)" font-size="15.7" fill="#2a2a2a" text-anchor="end" font-weight="normal" >0.8</text>
<text transform="translate(51.0,55.7) scale(1,1.1)" font-size="15.7" fill="#2a2a2a" text-anchor="end" font-weight="normal" >1.0</text>
<text transform="translate(51.0,12.6) scale(1,1.1)" font-size="15.7" fill="#2a2a2a" text-anchor="end" font-weight="normal" >1.2</text>
<polyline points="60.3,44.9 60.9,55.3 61.5,58.1 62.1,49.9 62.7,46.0 63.3,57.5 63.9,35.1 64.5,42.6 65.1,49.4 65.7,36.0 66.3,43.7 66.9,42.9 67.5,46.7 68.1,34.8 68.7,53.1 69.3,44.9 69.9,65.9 70.4,38.9 71.0,52.4 71.6,59.6 72.2,41.3 72.8,50.4 73.4,40.7 74.0,59.0 74.6,43.7 75.2,56.3 75.8,60.5 76.4,59.8 77.0,44.6 77.6,51.6 78.2,54.6 78.8,50.9 79.4,41.8 80.0,45.1 80.6,61.9 81.2,41.1 81.8,47.2 82.4,63.4 83.0,42.4 83.6,51.5 84.2,52.3 84.8,53.2 85.4,51.4 86.0,51.9 86.6,54.5 87.2,53.8 87.8,54.6 88.4,53.9 89.0,53.5 89.6,52.4 90.1,53.1 90.7,55.2 91.3,55.0 91.9,56.4 92.5,54.9 93.1,57.2 93.7,57.5 94.3,59.9 94.9,60.0 95.5,60.8 96.1,60.3 96.7,62.9 97.3,61.0 97.9,61.8 98.5,67.6 99.1,62.6 99.7,63.9 100.3,63.6 100.9,63.9 101.5,64.8 102.1,64.7 102.7,65.6 103.3,65.0 103.9,64.9 104.5,65.6 105.1,66.3 105.7,65.1 106.3,70.0 106.9,66.4 107.5,66.5 108.1,68.1 108.7,66.3 109.3,68.3 109.9,69.0 110.4,68.7 111.0,68.9 111.6,67.9 112.2,70.8 112.8,77.4 113.4,71.1 114.0,70.6 114.6,71.3 115.2,71.4 115.8,72.3 116.4,72.1 117.0,72.8 117.6,74.3 118.2,74.0 118.8,79.0 119.4,72.9 120.0,76.1 120.6,75.4 121.2,75.3 121.8,75.3 122.4,76.6 123.0,76.7 123.6,78.3 124.2,84.6 124.8,77.9 125.4,78.4 126.0,78.4 126.6,79.1 127.2,79.0 127.8,80.4 128.4,79.6 129.0,80.8 129.6,81.0 130.1,79.0 130.7,81.6 131.3,81.8 131.9,81.5 132.5,81.9 133.1,83.6 133.7,83.3 134.3,84.1 134.9,83.4 135.5,82.9 136.1,84.7 136.7,82.5 137.3,85.3 137.9,84.5 138.5,83.0 139.1,83.1 139.7,84.1 140.3,83.6 140.9,83.3 141.5,83.7 142.1,84.8 142.7,85.9 143.3,85.0 143.9,107.0 144.5,85.6 145.1,84.1 145.7,83.2 146.3,84.9 146.9,85.7 147.5,84.1 148.1,84.8 148.7,87.0 149.3,83.9 149.9,83.8 150.4,102.3 151.0,85.9 151.6,84.6 152.2,84.8 152.8,85.0 153.4,85.4 154.0,84.4 154.6,95.8 155.2,84.3 155.8,95.6 156.4,94.4 157.0,79.0 157.6,79.9 158.2,86.4 158.8,85.1 159.4,85.8 160.0,84.7 160.6,84.5 161.2,86.2 161.8,86.4 162.4,84.9 163.0,85.3 163.6,85.9 164.2,85.7 164.8,85.0 165.4,86.8 166.0,85.3 166.6,86.7 167.2,81.4 167.8,83.6 168.4,86.3 169.0,85.4 169.6,86.4 170.1,87.9 170.7,86.0 171.3,87.9 171.9,112.2 172.5,87.4 173.1,88.0 173.7,89.0 174.3,89.4 174.9,89.2 175.5,94.4 176.1,90.9 176.7,102.7 177.3,89.9 177.9,88.9 178.5,96.5 179.1,89.8 179.7,109.1 180.3,89.6 180.9,91.4 181.5,90.6 182.1,90.5 182.7,89.5 183.3,98.4 183.9,107.3 184.5,89.9 185.1,89.9 185.7,90.9 186.3,91.9 186.9,91.0 187.5,85.9 188.1,91.5 188.7,91.1 189.3,91.2 189.8,92.3 190.4,93.1 191.0,93.2 191.6,92.3 192.2,93.0 192.8,92.9 193.4,92.1 194.0,91.6 194.6,92.0 195.2,96.5 195.8,114.9 196.4,93.1 197.0,92.0 197.6,104.5 198.2,92.9 198.8,93.2 199.4,94.4 200.0,93.1 200.6,89.2 201.2,94.3 201.8,106.2 202.4,93.3 203.0,93.8 203.6,95.6 204.2,95.0 204.8,94.7 205.4,94.4 206.0,95.2 206.6,109.6 207.2,94.8 207.8,92.9 208.4,96.5 209.0,93.0 209.6,94.3 210.1,95.0 210.7,94.2 211.3,94.2 211.9,95.4 212.5,94.6 213.1,114.5 213.7,93.4 214.3,113.2 214.9,91.7 215.5,94.8 216.1,95.0 216.7,95.6 217.3,95.2 217.9,94.8 218.5,95.7 219.1,95.2 219.7,94.6 220.3,96.7 220.9,95.5 221.5,95.2 222.1,95.0 222.7,120.6 223.3,95.1 223.9,118.0 224.5,96.1 225.1,98.5 225.7,96.8 226.3,95.6 226.9,96.2 227.5,97.4 228.1,92.2 228.7,96.3 229.3,95.2 229.8,97.3 230.4,97.1 231.0,116.9 231.6,96.2 232.2,95.2 232.8,97.0 233.4,96.8 234.0,98.2 234.6,97.4 235.2,98.0 235.8,119.6 236.4,97.6 237.0,97.8 237.6,97.2 238.2,98.5 238.8,110.3 239.4,97.7 240.0,97.9 240.6,97.4 241.2,114.4 241.8,98.4 242.4,104.0 243.0,98.1 243.6,92.8 244.2,98.2 244.8,98.3 245.4,98.5 246.0,99.6 246.6,98.2 247.2,98.2 247.8,98.6 248.4,98.6 249.0,98.4 249.5,99.6 250.1,98.0 250.7,100.0 251.3,99.0 251.9,99.8 252.5,99.5 253.1,101.0 253.7,99.5 254.3,106.9 254.9,99.9 255.5,100.2 256.1,100.0 256.7,100.2 257.3,100.9 257.9,100.4 258.5,100.4 259.1,100.4 259.7,116.1 260.3,100.8 260.9,100.3 261.5,101.4 262.1,111.6 262.7,101.3 263.3,101.7 263.9,101.5 264.5,101.9 265.1,101.7 265.7,102.4 266.3,103.4 266.9,103.7 267.5,101.5 268.1,101.6 268.7,103.0 269.3,102.4 269.8,103.5 270.4,101.8 271.0,101.4 271.6,103.9 272.2,104.0 272.8,101.9 273.4,102.3 274.0,101.2 274.6,110.3 275.2,103.2 275.8,102.3 276.4,102.5 277.0,108.6 277.6,103.9 278.2,101.7 278.8,103.0 279.4,103.6 280.0,104.0 280.6,103.4 281.2,103.4 281.8,103.6 282.4,102.1 283.0,102.2 283.6,103.5 284.2,103.7 284.8,105.7 285.4,103.0 286.0,104.6 286.6,102.2 287.2,103.7 287.8,104.4 288.4,104.5 289.0,104.5 289.5,105.2 290.1,110.0 290.7,104.5 291.3,103.4 291.9,104.5 292.5,104.6 293.1,103.6 293.7,105.9 294.3,104.7 294.9,105.8 295.5,104.9 296.1,105.7 296.7,104.7 297.3,103.9 297.9,105.3 298.5,105.8 299.1,104.9 299.7,105.6 300.3,111.5 300.9,106.8 301.5,120.7 302.1,104.6 302.7,105.5 303.3,106.0 303.9,105.2 304.5,104.7 305.1,104.4 305.7,106.2 306.3,104.8 306.9,105.5 307.5,106.5 308.1,108.4 308.7,106.1 309.2,109.7 309.8,107.3 310.4,107.1 311.0,106.8 311.6,106.5 312.2,107.8 312.8,106.6 313.4,109.3 314.0,108.4 314.6,110.4 315.2,106.7 315.8,108.8 316.4,106.8 317.0,108.1 317.6,109.5 318.2,108.4 318.8,108.6 319.4,108.9 320.0,108.2 320.6,108.9 321.2,109.4 321.8,110.3 322.4,113.9 323.0,111.2 323.6,108.6 324.2,108.2 324.8,110.0 325.4,110.5 326.0,112.0 326.6,111.6 327.2,111.9 327.8,109.2 328.4,110.0 329.0,110.0 329.5,112.9 330.1,111.1 330.7,112.5 331.3,112.5 331.9,112.6 332.5,113.7 333.1,111.9 333.7,119.2 334.3,113.1 334.9,113.7 335.5,113.8 336.1,114.0 336.7,114.1 337.3,113.2 337.9,113.9 338.5,113.7 339.1,114.2 339.7,114.2 340.3,113.2 340.9,114.0 341.5,114.0 342.1,116.3 342.7,114.7 343.3,116.2 343.9,115.6 344.5,115.8 345.1,117.2 345.7,116.5 346.3,116.2 346.9,115.9 347.5,115.6 348.1,117.0 348.7,117.9 349.2,117.0 349.8,117.1 350.4,116.9 351.0,117.7 351.6,116.2 352.2,117.0 352.8,118.1 353.4,118.7 354.0,117.6 354.6,119.2 355.2,118.8 355.8,117.7 356.4,117.3 357.0,117.5 357.6,117.8 358.2,118.5 358.8,118.8 359.4,118.2 360.0,120.6 360.6,118.1 361.2,117.3 361.8,123.4 362.4,119.4 363.0,119.3 363.6,119.5 364.2,118.5 364.8,119.0 365.4,118.9 366.0,119.5 366.6,120.3 367.2,120.0 367.8,120.1 368.4,119.4 368.9,120.2 369.5,121.4 370.1,121.0 370.7,119.6 371.3,121.8 371.9,120.1 372.5,121.6 373.1,119.7 373.7,121.0 374.3,120.8 374.9,123.9 375.5,119.3 376.1,121.8 376.7,119.2 377.3,119.9 377.9,119.8 378.5,121.2 379.1,121.4 379.7,122.2 380.3,121.4 380.9,122.7 381.5,121.2 382.1,121.6 382.7,120.7 383.3,121.8 383.9,123.3 384.5,121.9 385.1,122.7 385.7,125.1 386.3,123.2 386.9,123.0 387.5,122.6 388.1,122.8 388.6,126.2 389.2,123.1 389.8,121.7 390.4,123.3 391.0,125.8 391.6,123.4 392.2,122.9 392.8,123.8 393.4,123.5 394.0,122.7 394.6,124.5 395.2,124.4 395.8,124.3 396.4,123.8 397.0,123.8 397.6,124.0 398.2,124.0 398.8,123.1 399.4,125.8 400.0,123.3 400.6,125.0 401.2,125.0 401.8,123.9 402.4,124.6 403.0,124.7 403.6,124.8 404.2,125.1 404.8,126.4 405.4,126.2 406.0,123.6 406.6,125.7 407.2,126.1 407.8,125.7 408.4,126.5 408.9,125.4 409.5,126.3 410.1,125.1 410.7,125.7 411.3,128.1 411.9,126.9 412.5,125.6 413.1,126.0 413.7,126.1 414.3,125.9 414.9,126.4 415.5,126.7 416.1,126.1 416.7,127.6 417.3,127.2 417.9,126.6 418.5,127.9 419.1,126.4 419.7,127.4 420.3,133.2 420.9,127.4 421.5,127.9 422.1,129.6 422.7,127.0 423.3,127.6 423.9,128.1 424.5,127.5 425.1,128.0 425.7,128.9 426.3,129.2 426.9,129.8 427.5,128.7 428.1,128.7 428.6,128.6 429.2,130.5 429.8,129.5 430.4,129.6 431.0,132.1 431.6,129.7 432.2,131.0 432.8,131.5 433.4,130.7 434.0,129.9 434.6,130.9 435.2,130.4 435.8,130.8 436.4,131.8" fill="none" stroke="#17877f" stroke-width="2.3" stroke-linejoin="round" />
<polyline points="60.3,52.9 60.9,61.5 61.5,60.0 62.1,59.5 62.7,65.4 63.3,57.3 63.9,71.0 64.5,62.7 65.1,65.2 65.7,59.5 66.3,61.9 66.9,61.7 67.5,70.4 68.1,67.5 68.7,68.4 69.3,65.1 69.9,60.8 70.4,58.8 71.0,58.2 71.6,64.0 72.2,63.2 72.8,71.0 73.4,72.3 74.0,68.4 74.6,77.0 75.2,66.9 75.8,53.0 76.4,70.1 77.0,63.3 77.6,66.8 78.2,52.5 78.8,62.2 79.4,60.0 80.0,57.9 80.6,55.1 81.2,62.1 81.8,64.2 82.4,55.9 83.0,61.3 83.6,55.1 84.2,50.4 84.8,53.2 85.4,49.2 86.0,52.3 86.6,52.3 87.2,43.1 87.8,48.8 88.4,41.4 89.0,42.4 89.6,51.8 90.1,49.1 90.7,42.7 91.3,48.8 91.9,48.7 92.5,39.3 93.1,41.0 93.7,38.7 94.3,40.0 94.9,38.1 95.5,37.8 96.1,38.6 96.7,37.1 97.3,47.4 97.9,37.6 98.5,36.3 99.1,37.1 99.7,36.6 100.3,35.3 100.9,37.2 101.5,36.5 102.1,35.2 102.7,35.7 103.3,34.3 103.9,35.5 104.5,34.5 105.1,45.6 105.7,35.4 106.3,35.1 106.9,37.4 107.5,34.5 108.1,35.5 108.7,33.7 109.3,35.7 109.9,34.9 110.4,34.5 111.0,33.9 111.6,35.1 112.2,35.2 112.8,34.4 113.4,34.8 114.0,35.8 114.6,37.1 115.2,45.1 115.8,34.5 116.4,33.9 117.0,34.2 117.6,35.4 118.2,33.7 118.8,34.3 119.4,33.9 120.0,38.4 120.6,35.3 121.2,35.7 121.8,35.4 122.4,35.1 123.0,35.0 123.6,34.6 124.2,35.2 124.8,34.2 125.4,33.2 126.0,35.0 126.6,33.7 127.2,35.4 127.8,32.8 128.4,34.5 129.0,33.9 129.6,32.8 130.1,34.9 130.7,34.3 131.3,37.4 131.9,33.8 132.5,34.0 133.1,42.8 133.7,34.1 134.3,33.0 134.9,34.7 135.5,43.7 136.1,34.3 136.7,33.6 137.3,33.9 137.9,32.7 138.5,33.1 139.1,33.3 139.7,32.8 140.3,33.3 140.9,34.1 141.5,33.8 142.1,32.5 142.7,32.3 143.3,33.3 143.9,33.6 144.5,34.4 145.1,34.3 145.7,32.9 146.3,31.8 146.9,32.1 147.5,34.2 148.1,32.4 148.7,32.5 149.3,31.7 149.9,33.6 150.4,34.8 151.0,34.2 151.6,31.8 152.2,32.7 152.8,32.5 153.4,32.3 154.0,31.9 154.6,31.0 155.2,30.5 155.8,34.2 156.4,32.3 157.0,33.9 157.6,32.4 158.2,32.8 158.8,34.7 159.4,32.4 160.0,31.2 160.6,32.2 161.2,33.1 161.8,32.0 162.4,31.3 163.0,32.6 163.6,30.9 164.2,32.6 164.8,33.0 165.4,32.8 166.0,31.9 166.6,31.9 167.2,32.6 167.8,32.4 168.4,31.6 169.0,33.2 169.6,32.9 170.1,31.4 170.7,31.6 171.3,32.1 171.9,33.2 172.5,33.3 173.1,31.7 173.7,33.1 174.3,31.5 174.9,33.4 175.5,33.1 176.1,33.3 176.7,34.4 177.3,33.9 177.9,34.1 178.5,33.4 179.1,33.6 179.7,33.9 180.3,32.1 180.9,33.9 181.5,34.1 182.1,32.1 182.7,32.8 183.3,33.5 183.9,34.2 184.5,33.3 185.1,33.7 185.7,33.4 186.3,34.3 186.9,35.0 187.5,33.9 188.1,33.0 188.7,33.1 189.3,33.3 189.8,35.0 190.4,34.8 191.0,32.9 191.6,34.0 192.2,33.9 192.8,34.7 193.4,33.8 194.0,33.6 194.6,33.8 195.2,32.8 195.8,33.9 196.4,35.2 197.0,35.3 197.6,32.9 198.2,34.3 198.8,32.1 199.4,33.5 200.0,34.5 200.6,33.6 201.2,32.5 201.8,33.2 202.4,35.4 203.0,34.3 203.6,38.3 204.2,34.5 204.8,32.4 205.4,32.8 206.0,32.4 206.6,34.2 207.2,34.8 207.8,34.4 208.4,34.0 209.0,31.8 209.6,34.4 210.1,32.5 210.7,32.7 211.3,32.9 211.9,34.3 212.5,32.9 213.1,33.3 213.7,33.4 214.3,33.3 214.9,32.5 215.5,33.3 216.1,32.1 216.7,32.7 217.3,32.6 217.9,32.0 218.5,31.8 219.1,32.1 219.7,34.8 220.3,34.3 220.9,31.5 221.5,39.1 222.1,31.6 222.7,30.1 223.3,31.8 223.9,32.7 224.5,32.1 225.1,31.9 225.7,31.8 226.3,31.8 226.9,32.9 227.5,31.8 228.1,31.1 228.7,31.9 229.3,31.3 229.8,34.5 230.4,31.5 231.0,31.1 231.6,31.2 232.2,30.5 232.8,28.9 233.4,34.1 234.0,32.0 234.6,30.6 235.2,31.0 235.8,30.2 236.4,30.3 237.0,30.3 237.6,31.1 238.2,30.3 238.8,31.9 239.4,31.6 240.0,30.8 240.6,31.3 241.2,30.9 241.8,31.8 242.4,32.6 243.0,32.0 243.6,32.3 244.2,32.5 244.8,32.9 245.4,33.8 246.0,34.3 246.6,32.0 247.2,34.1 247.8,32.7 248.4,33.4 249.0,34.4 249.5,34.5 250.1,34.6 250.7,34.7 251.3,35.4 251.9,35.6 252.5,35.6 253.1,35.0 253.7,37.6 254.3,37.6 254.9,36.7 255.5,36.8 256.1,35.0 256.7,37.0 257.3,36.7 257.9,37.1 258.5,38.7 259.1,38.7 259.7,38.6 260.3,46.5 260.9,39.5 261.5,39.2 262.1,44.9 262.7,38.2 263.3,37.6 263.9,38.2 264.5,39.5 265.1,39.8 265.7,38.2 266.3,43.1 266.9,38.1 267.5,37.5 268.1,38.1 268.7,39.4 269.3,41.2 269.8,38.3 270.4,40.9 271.0,39.3 271.6,38.8 272.2,39.8 272.8,38.3 273.4,38.7 274.0,39.6 274.6,39.6 275.2,40.1 275.8,39.0 276.4,39.4 277.0,38.8 277.6,38.7 278.2,38.9 278.8,36.6 279.4,39.3 280.0,38.5 280.6,38.1 281.2,39.4 281.8,38.8 282.4,40.2 283.0,37.9 283.6,41.4 284.2,36.5 284.8,42.4 285.4,37.9 286.0,40.0 286.6,37.0 287.2,42.8 287.8,37.2 288.4,40.9 289.0,36.6 289.5,36.4 290.1,43.1 290.7,36.9 291.3,36.4 291.9,35.0 292.5,34.0 293.1,35.6 293.7,33.5 294.3,32.7 294.9,32.1 295.5,30.9 296.1,31.8 296.7,30.4 297.3,31.5 297.9,29.9 298.5,29.4 299.1,30.6 299.7,30.0 300.3,29.5 300.9,30.7 301.5,30.4 302.1,29.1 302.7,29.3 303.3,39.3 303.9,31.5 304.5,31.1 305.1,30.7 305.7,31.5 306.3,33.3 306.9,31.9 307.5,31.3 308.1,30.4 308.7,32.0 309.2,33.3 309.8,32.1 310.4,33.2 311.0,32.7 311.6,32.8 312.2,33.3 312.8,32.9 313.4,33.7 314.0,35.4 314.6,33.2 315.2,34.0 315.8,34.2 316.4,33.2 317.0,33.7 317.6,34.3 318.2,34.1 318.8,35.0 319.4,43.8 320.0,35.4 320.6,34.5 321.2,44.2 321.8,36.3 322.4,35.8 323.0,35.1 323.6,36.0 324.2,35.6 324.8,35.8 325.4,35.9 326.0,34.9 326.6,37.0 327.2,36.5 327.8,42.8 328.4,38.4 329.0,37.7 329.5,39.2 330.1,39.3 330.7,38.1 331.3,40.3 331.9,40.0 332.5,37.4 333.1,39.5 333.7,39.1 334.3,39.0 334.9,48.7 335.5,39.7 336.1,38.1 336.7,39.5 337.3,38.5 337.9,38.8 338.5,40.0 339.1,39.9 339.7,39.7 340.3,38.6 340.9,37.8 341.5,40.0 342.1,38.6 342.7,39.3 343.3,39.3 343.9,39.9 344.5,38.2 345.1,39.3 345.7,37.2 346.3,40.8 346.9,39.2 347.5,39.1 348.1,38.8 348.7,39.1 349.2,37.9 349.8,38.8 350.4,37.9 351.0,39.2 351.6,39.0 352.2,37.9 352.8,39.3 353.4,37.5 354.0,37.9 354.6,37.8 355.2,38.0 355.8,37.9 356.4,37.1 357.0,37.9 357.6,38.1 358.2,39.6 358.8,39.2 359.4,37.4 360.0,38.6 360.6,37.2 361.2,37.2 361.8,36.3 362.4,46.3 363.0,37.6 363.6,37.9 364.2,36.9 364.8,38.6 365.4,38.6 366.0,36.4 366.6,37.9 367.2,37.7 367.8,46.7 368.4,39.4 368.9,36.9 369.5,38.8 370.1,37.3 370.7,38.1 371.3,47.8 371.9,39.0 372.5,38.1 373.1,39.6 373.7,37.6 374.3,36.8 374.9,38.2 375.5,38.6 376.1,36.4 376.7,38.8 377.3,38.8 377.9,37.4 378.5,45.3 379.1,38.6 379.7,37.9 380.3,37.6 380.9,40.3 381.5,39.0 382.1,44.7 382.7,39.9 383.3,43.2 383.9,39.2 384.5,38.5 385.1,39.2 385.7,39.7 386.3,40.0 386.9,38.7 387.5,38.8 388.1,37.9 388.6,39.2 389.2,40.2 389.8,48.9 390.4,40.1 391.0,40.6 391.6,39.5 392.2,39.8 392.8,40.2 393.4,41.3 394.0,37.4 394.6,40.0 395.2,40.7 395.8,39.1 396.4,39.4 397.0,41.7 397.6,40.5 398.2,41.6 398.8,41.0 399.4,40.2 400.0,41.4 400.6,39.6 401.2,41.2 401.8,48.5 402.4,41.3 403.0,41.2 403.6,39.8 404.2,41.0 404.8,41.8 405.4,41.5 406.0,41.1 406.6,41.3 407.2,40.5 407.8,40.7 408.4,40.8 408.9,41.5 409.5,41.0 410.1,39.5 410.7,41.9 411.3,40.4 411.9,40.8 412.5,39.6 413.1,39.7 413.7,41.3 414.3,39.0 414.9,41.7 415.5,41.2 416.1,40.8 416.7,42.5 417.3,41.6 417.9,42.5 418.5,40.4 419.1,41.3 419.7,41.5 420.3,41.8 420.9,40.2 421.5,42.2 422.1,42.6 422.7,40.5 423.3,45.5 423.9,41.6 424.5,40.8 425.1,39.8 425.7,40.4 426.3,49.3 426.9,41.2 427.5,43.1 428.1,39.8 428.6,41.3 429.2,40.5 429.8,40.3 430.4,40.9 431.0,40.8 431.6,41.1 432.2,41.1 432.8,41.9 433.4,40.6 434.0,45.9 434.6,39.8 435.2,41.1 435.8,41.0 436.4,40.8 437.0,41.2 437.6,40.9 438.2,42.1 438.8,41.0 439.4,40.2 440.0,41.1 440.6,40.3 441.2,42.1 441.8,41.6 442.4,41.0 443.0,41.1 443.6,41.8 444.2,41.5 444.8,41.9 445.4,42.4 446.0,41.3 446.6,40.9 447.2,39.6 447.8,40.0 448.3,41.6 448.9,41.0 449.5,43.4 450.1,38.7 450.7,41.8 451.3,41.1 451.9,48.5 452.5,41.1 453.1,40.9 453.7,41.3 454.3,41.9 454.9,41.0 455.5,41.4 456.1,51.9 456.7,41.0 457.3,40.8 457.9,41.0 458.5,42.2 459.1,41.6 459.7,44.8 460.3,42.1 460.9,42.9 461.5,42.0 462.1,41.5 462.7,40.4 463.3,41.0 463.9,41.8 464.5,41.1 465.1,41.3 465.7,43.3 466.3,41.3 466.9,40.9 467.5,41.7 468.1,41.6 468.6,40.7 469.2,40.3 469.8,41.9 470.4,50.0 471.0,41.2 471.6,42.0 472.2,41.1 472.8,40.6 473.4,42.0 474.0,42.3 474.6,42.0 475.2,41.1 475.8,40.9 476.4,40.3 477.0,40.7 477.6,41.5 478.2,41.7 478.8,43.5 479.4,40.8 480.0,41.4 480.6,41.6 481.2,39.5 481.8,40.5 482.4,40.1 483.0,40.6 483.6,38.9 484.2,37.2 484.8,38.5 485.4,37.5 486.0,37.8 486.6,37.1 487.2,36.1 487.8,35.6 488.3,36.3 488.9,36.7 489.5,35.7 490.1,35.8 490.7,33.8 491.3,35.2 491.9,35.7 492.5,34.2 493.1,33.6 493.7,36.0 494.3,45.8 494.9,35.8 495.5,35.1 496.1,35.3 496.7,36.4 497.3,35.5 497.9,36.8 498.5,37.0 499.1,36.9 499.7,35.0 500.3,36.6 500.9,37.2 501.5,36.8 502.1,38.0 502.7,37.0 503.3,37.5 503.9,38.7 504.5,37.6 505.1,37.7 505.7,39.0 506.3,37.7 506.9,45.9 507.5,38.1 508.0,39.8 508.6,38.9 509.2,38.1 509.8,37.0 510.4,38.6 511.0,38.1 511.6,41.1 512.2,40.0 512.8,39.4 513.4,39.8 514.0,39.8 514.6,40.9 515.2,38.7 515.8,40.1 516.4,38.6 517.0,39.4 517.6,40.0 518.2,45.0 518.8,40.5 519.4,40.8 520.0,40.3 520.6,39.4 521.2,44.5 521.8,42.2 522.4,40.3 523.0,41.1 523.6,40.5 524.2,41.9 524.8,40.3 525.4,40.3 526.0,41.5 526.6,40.8 527.2,42.3 527.8,41.3 528.3,42.0 528.9,41.0 529.5,41.9 530.1,41.5 530.7,42.6 531.3,42.4 531.9,41.9 532.5,41.7 533.1,43.5 533.7,40.6 534.3,42.8 534.9,43.3 535.5,43.3 536.1,42.5 536.7,42.2 537.3,49.5 537.9,43.7 538.5,42.0 539.1,41.8 539.7,45.4 540.3,41.9 540.9,40.6 541.5,42.9 542.1,41.4 542.7,41.7 543.3,51.6 543.9,43.0 544.5,42.0 545.1,44.4 545.7,42.6 546.3,41.7 546.9,42.2 547.5,46.2 548.0,52.0 548.6,43.1 549.2,42.8 549.8,41.1 550.4,41.8 551.0,41.8 551.6,41.7 552.2,41.7 552.8,43.1 553.4,42.1 554.0,42.2 554.6,40.6 555.2,42.3 555.8,41.7 556.4,40.8 557.0,41.3 557.6,41.7 558.2,40.1 558.8,42.1 559.4,40.3 560.0,40.7 560.6,41.6 561.2,42.2 561.8,40.8 562.4,41.2 563.0,40.0 563.6,41.0 564.2,47.6 564.8,38.2 565.4,39.5 566.0,38.7 566.6,38.8 567.2,40.4 567.7,38.7 568.3,38.0 568.9,39.3 569.5,40.1 570.1,38.8 570.7,37.7 571.3,39.5 571.9,38.4 572.5,39.8 573.1,38.2 573.7,39.6 574.3,38.9 574.9,38.8 575.5,39.5 576.1,38.3 576.7,39.9 577.3,39.6 577.9,38.9 578.5,39.7 579.1,40.0 579.7,40.7 580.3,39.8 580.9,38.8 581.5,39.1 582.1,39.6 582.7,39.3 583.3,39.6 583.9,39.1 584.5,40.5 585.1,38.8 585.7,38.2 586.3,37.7 586.9,44.8 587.5,38.4 588.0,38.5 588.6,39.0 589.2,40.0 589.8,38.0 590.4,39.8 591.0,39.3 591.6,39.6 592.2,38.2 592.8,39.0 593.4,40.6 594.0,39.3 594.6,40.9 595.2,42.2 595.8,42.4 596.4,39.8 597.0,38.6 597.6,40.1 598.2,40.7 598.8,39.0 599.4,41.3 600.0,49.1 600.6,40.1 601.2,41.0 601.8,39.0 602.4,39.9 603.0,40.3 603.6,40.4 604.2,40.3 604.8,40.6 605.4,41.1 606.0,40.6 606.6,41.7 607.2,41.2 607.7,41.2 608.3,39.9 608.9,42.4 609.5,40.3 610.1,42.2 610.7,41.0 611.3,41.3 611.9,39.8 612.5,39.9 613.1,41.1 613.7,42.0 614.3,41.7 614.9,41.2 615.5,41.5 616.1,42.6 616.7,41.7 617.3,41.0 617.9,41.7 618.5,42.1 619.1,41.4 619.7,43.5 620.3,42.4 620.9,42.9 621.5,41.4 622.1,43.1 622.7,42.5 623.3,46.7 623.9,43.1 624.5,45.0 625.1,41.9 625.7,43.8 626.3,42.0 626.9,41.8 627.4,43.2 628.0,41.8 628.6,42.5 629.2,42.4 629.8,44.0 630.4,45.0 631.0,44.6 631.6,44.5 632.2,43.4 632.8,43.7 633.4,44.5 634.0,43.0 634.6,43.2 635.2,43.9 635.8,43.4 636.4,43.6 637.0,44.5 637.6,42.7 638.2,44.7 638.8,43.3 639.4,43.6 640.0,44.6 640.6,44.0 641.2,45.7 641.8,44.5 642.4,44.5 643.0,43.9 643.6,42.5 644.2,44.0" fill="none" stroke="#8000ff" stroke-width="2.4" stroke-linejoin="round" />
<line x1="134" y1="172" x2="168.5" y2="172" stroke="#17877f" stroke-width="1.8" />
<circle cx="151" cy="172" r="1.3" fill="#17877f"/>
<line x1="134" y1="191.5" x2="168.5" y2="191.5" stroke="#8000ff" stroke-width="1.8" />
<circle cx="151" cy="191.5" r="1.3" fill="#8000ff"/>
<text x="173" y="176.7" font-size="15.5" fill="#222" text-anchor="start" font-weight="normal" >w/o SHF</text>
<text x="173" y="196.3" font-size="15.5" fill="#222" text-anchor="start" font-weight="normal" >with SHF</text>
<text x="133" y="220.8" font-size="15.5" fill="#222" text-anchor="start" font-weight="normal" >ISOS-L-1 (under continuous 1-sun illumination)</text>
<text x="358.5" y="315" font-size="19.5" fill="#222" text-anchor="middle" font-weight="normal" >Time (hour)</text>
<text transform="translate(18.3,149.5) rotate(-90) scale(1,1.08)" font-size="19.5" fill="#222" text-anchor="middle">Normalized PCE</text>
<text x="7" y="27" font-size="30" fill="#000" text-anchor="start" font-weight="bold" >a</text>
<line x1="62.4" y1="596.4" x2="656.6" y2="596.4" stroke="#bdbdbd" stroke-width="1" stroke-dasharray="1.6,2"/>
<line x1="62.4" y1="549.2" x2="656.6" y2="549.2" stroke="#bdbdbd" stroke-width="1" stroke-dasharray="1.6,2"/>
<line x1="62.4" y1="502" x2="656.6" y2="502" stroke="#bdbdbd" stroke-width="1" stroke-dasharray="1.6,2"/>
<line x1="62.4" y1="454.9" x2="656.6" y2="454.9" stroke="#bdbdbd" stroke-width="1" stroke-dasharray="1.6,2"/>
<line x1="62.4" y1="407.7" x2="656.6" y2="407.7" stroke="#bdbdbd" stroke-width="1" stroke-dasharray="1.6,2"/>
<rect x="60.4" y="360.5" width="597.2" height="259.5" fill="none" stroke="#333" stroke-width="1.7"/>
<line x1="60.4" y1="620" x2="60.4" y2="626" stroke="#333" stroke-width="1.6" />
<line x1="123.3" y1="620" x2="123.3" y2="626" stroke="#333" stroke-width="1.6" />
<line x1="186.1" y1="620" x2="186.1" y2="626" stroke="#333" stroke-width="1.6" />
<line x1="249" y1="620" x2="249" y2="626" stroke="#333" stroke-width="1.6" />
<line x1="311.9" y1="620" x2="311.9" y2="626" stroke="#333" stroke-width="1.6" />
<line x1="374.7" y1="620" x2="374.7" y2="626" stroke="#333" stroke-width="1.6" />
<line x1="437.6" y1="620" x2="437.6" y2="626" stroke="#333" stroke-width="1.6" />
<line x1="500.4" y1="620" x2="500.4" y2="626" stroke="#333" stroke-width="1.6" />
<line x1="563.3" y1="620" x2="563.3" y2="626" stroke="#333" stroke-width="1.6" />
<line x1="626.2" y1="620" x2="626.2" y2="626" stroke="#333" stroke-width="1.6" />
<line x1="91.8" y1="620" x2="91.8" y2="623" stroke="#333" stroke-width="1.6" />
<line x1="154.7" y1="620" x2="154.7" y2="623" stroke="#333" stroke-width="1.6" />
<line x1="217.6" y1="620" x2="217.6" y2="623" stroke="#333" stroke-width="1.6" />
<line x1="280.4" y1="620" x2="280.4" y2="623" stroke="#333" stroke-width="1.6" />
<line x1="343.3" y1="620" x2="343.3" y2="623" stroke="#333" stroke-width="1.6" />
<line x1="406.1" y1="620" x2="406.1" y2="623" stroke="#333" stroke-width="1.6" />
<line x1="469" y1="620" x2="469" y2="623" stroke="#333" stroke-width="1.6" />
<line x1="531.9" y1="620" x2="531.9" y2="623" stroke="#333" stroke-width="1.6" />
<line x1="594.7" y1="620" x2="594.7" y2="623" stroke="#333" stroke-width="1.6" />
<line x1="657.6" y1="620" x2="657.6" y2="623" stroke="#333" stroke-width="1.6" />
<line x1="55.4" y1="620" x2="60.4" y2="620" stroke="#333" stroke-width="1.6" />
<line x1="55.4" y1="572.8" x2="60.4" y2="572.8" stroke="#333" stroke-width="1.6" />
<line x1="55.4" y1="525.6" x2="60.4" y2="525.6" stroke="#333" stroke-width="1.6" />
<line x1="55.4" y1="478.5" x2="60.4" y2="478.5" stroke="#333" stroke-width="1.6" />
<line x1="55.4" y1="431.3" x2="60.4" y2="431.3" stroke="#333" stroke-width="1.6" />
<line x1="55.4" y1="384.1" x2="60.4" y2="384.1" stroke="#333" stroke-width="1.6" />
<line x1="57.9" y1="596.4" x2="60.4" y2="596.4" stroke="#333" stroke-width="1.6" />
<line x1="57.9" y1="549.2" x2="60.4" y2="549.2" stroke="#333" stroke-width="1.6" />
<line x1="57.9" y1="502" x2="60.4" y2="502" stroke="#333" stroke-width="1.6" />
<line x1="57.9" y1="454.9" x2="60.4" y2="454.9" stroke="#333" stroke-width="1.6" />
<line x1="57.9" y1="407.7" x2="60.4" y2="407.7" stroke="#333" stroke-width="1.6" />
<line x1="57.9" y1="360.5" x2="60.4" y2="360.5" stroke="#333" stroke-width="1.6" />
<text x="60.4" y="641.8" font-size="15.6" fill="#2a2a2a" text-anchor="middle" font-weight="normal" >0</text>
<text x="123.3" y="641.8" font-size="15.6" fill="#2a2a2a" text-anchor="middle" font-weight="normal" >200</text>
<text x="186.1" y="641.8" font-size="15.6" fill="#2a2a2a" text-anchor="middle" font-weight="normal" >400</text>
<text x="249" y="641.8" font-size="15.6" fill="#2a2a2a" text-anchor="middle" font-weight="normal" >600</text>
<text x="311.9" y="641.8" font-size="15.6" fill="#2a2a2a" text-anchor="middle" font-weight="normal" >800</text>
<text x="374.7" y="641.8" font-size="15.6" fill="#2a2a2a" text-anchor="middle" font-weight="normal" >1000</text>
<text x="437.6" y="641.8" font-size="15.6" fill="#2a2a2a" text-anchor="middle" font-weight="normal" >1200</text>
<text x="500.4" y="641.8" font-size="15.6" fill="#2a2a2a" text-anchor="middle" font-weight="normal" >1400</text>
<text x="563.3" y="641.8" font-size="15.6" fill="#2a2a2a" text-anchor="middle" font-weight="normal" >1600</text>
<text x="626.2" y="641.8" font-size="15.6" fill="#2a2a2a" text-anchor="middle" font-weight="normal" >1800</text>
<text transform="translate(49.5,624.4) scale(1,1.13)" font-size="14.8" fill="#2a2a2a" text-anchor="end" font-weight="normal" >0.0</text>
<text transform="translate(49.5,577.2) scale(1,1.13)" font-size="14.8" fill="#2a2a2a" text-anchor="end" font-weight="normal" >0.2</text>
<text transform="translate(49.5,530.0) scale(1,1.13)" font-size="14.8" fill="#2a2a2a" text-anchor="end" font-weight="normal" >0.4</text>
<text transform="translate(49.5,482.9) scale(1,1.13)" font-size="14.8" fill="#2a2a2a" text-anchor="end" font-weight="normal" >0.6</text>
<text transform="translate(49.5,435.7) scale(1,1.13)" font-size="14.8" fill="#2a2a2a" text-anchor="end" font-weight="normal" >0.8</text>
<text transform="translate(49.5,388.5) scale(1,1.13)" font-size="14.8" fill="#2a2a2a" text-anchor="end" font-weight="normal" >1.0</text>
<polyline points="67.6,383.4 83.0,384.6 120.4,392.6 173.6,403.4 226.7,401.8 278.8,411.7 332.0,436.0 437.9,459.3 544.4,471.1 649.1,497.3" fill="none" stroke="#17877f" stroke-width="1.6" stroke-linejoin="round" />
<line x1="67.6" y1="381" x2="67.6" y2="385.7" stroke="#17877f" stroke-width="1.2" /><line x1="64.6" y1="381" x2="70.6" y2="381" stroke="#17877f" stroke-width="1.2" /><line x1="64.6" y1="385.7" x2="70.6" y2="385.7" stroke="#17877f" stroke-width="1.2" />
<line x1="83" y1="382.2" x2="83" y2="386.9" stroke="#17877f" stroke-width="1.2" /><line x1="80" y1="382.2" x2="86" y2="382.2" stroke="#17877f" stroke-width="1.2" /><line x1="80" y1="386.9" x2="86" y2="386.9" stroke="#17877f" stroke-width="1.2" />
<line x1="120.4" y1="389" x2="120.4" y2="396.1" stroke="#17877f" stroke-width="1.2" /><line x1="117.4" y1="389" x2="123.4" y2="389" stroke="#17877f" stroke-width="1.2" /><line x1="117.4" y1="396.1" x2="123.4" y2="396.1" stroke="#17877f" stroke-width="1.2" />
<line x1="173.6" y1="396.4" x2="173.6" y2="410.5" stroke="#17877f" stroke-width="1.2" /><line x1="170.6" y1="396.4" x2="176.6" y2="396.4" stroke="#17877f" stroke-width="1.2" /><line x1="170.6" y1="410.5" x2="176.6" y2="410.5" stroke="#17877f" stroke-width="1.2" />
<line x1="226.7" y1="394.7" x2="226.7" y2="408.9" stroke="#17877f" stroke-width="1.2" /><line x1="223.7" y1="394.7" x2="229.7" y2="394.7" stroke="#17877f" stroke-width="1.2" /><line x1="223.7" y1="408.9" x2="229.7" y2="408.9" stroke="#17877f" stroke-width="1.2" />
<line x1="278.8" y1="407" x2="278.8" y2="416.4" stroke="#17877f" stroke-width="1.2" /><line x1="275.8" y1="407" x2="281.8" y2="407" stroke="#17877f" stroke-width="1.2" /><line x1="275.8" y1="416.4" x2="281.8" y2="416.4" stroke="#17877f" stroke-width="1.2" />
<line x1="332" y1="426.6" x2="332" y2="445.4" stroke="#17877f" stroke-width="1.2" /><line x1="329" y1="426.6" x2="335" y2="426.6" stroke="#17877f" stroke-width="1.2" /><line x1="329" y1="445.4" x2="335" y2="445.4" stroke="#17877f" stroke-width="1.2" />
<line x1="437.9" y1="451.1" x2="437.9" y2="467.6" stroke="#17877f" stroke-width="1.2" /><line x1="434.9" y1="451.1" x2="440.9" y2="451.1" stroke="#17877f" stroke-width="1.2" /><line x1="434.9" y1="467.6" x2="440.9" y2="467.6" stroke="#17877f" stroke-width="1.2" />
<line x1="544.4" y1="460.5" x2="544.4" y2="481.8" stroke="#17877f" stroke-width="1.2" /><line x1="541.4" y1="460.5" x2="547.4" y2="460.5" stroke="#17877f" stroke-width="1.2" /><line x1="541.4" y1="481.8" x2="547.4" y2="481.8" stroke="#17877f" stroke-width="1.2" />
<line x1="649.1" y1="486.7" x2="649.1" y2="507.9" stroke="#17877f" stroke-width="1.2" /><line x1="646.1" y1="486.7" x2="652.1" y2="486.7" stroke="#17877f" stroke-width="1.2" /><line x1="646.1" y1="507.9" x2="652.1" y2="507.9" stroke="#17877f" stroke-width="1.2" />
<circle cx="67.6" cy="383.4" r="5.8" fill="url(#ballT)"/>
<circle cx="83" cy="384.6" r="5.8" fill="url(#ballT)"/>
<circle cx="120.4" cy="392.6" r="5.8" fill="url(#ballT)"/>
<circle cx="173.6" cy="403.4" r="5.8" fill="url(#ballT)"/>
<circle cx="226.7" cy="401.8" r="5.8" fill="url(#ballT)"/>
<circle cx="278.8" cy="411.7" r="5.8" fill="url(#ballT)"/>
<circle cx="332" cy="436" r="5.8" fill="url(#ballT)"/>
<circle cx="437.9" cy="459.3" r="5.8" fill="url(#ballT)"/>
<circle cx="544.4" cy="471.1" r="5.8" fill="url(#ballT)"/>
<circle cx="649.1" cy="497.3" r="5.8" fill="url(#ballT)"/>
<polyline points="67.6,383.4 83.0,384.6 120.4,386.7 173.6,387.4 226.7,386.2 278.8,390.5 332.0,390.0 437.9,395.4 544.4,399.2 649.1,402.5" fill="none" stroke="#8000ff" stroke-width="1.6" stroke-linejoin="round" />
<line x1="67.6" y1="381" x2="67.6" y2="385.7" stroke="#8000ff" stroke-width="1.2" /><line x1="64.6" y1="381" x2="70.6" y2="381" stroke="#8000ff" stroke-width="1.2" /><line x1="64.6" y1="385.7" x2="70.6" y2="385.7" stroke="#8000ff" stroke-width="1.2" />
<line x1="83" y1="382.2" x2="83" y2="386.9" stroke="#8000ff" stroke-width="1.2" /><line x1="80" y1="382.2" x2="86" y2="382.2" stroke="#8000ff" stroke-width="1.2" /><line x1="80" y1="386.9" x2="86" y2="386.9" stroke="#8000ff" stroke-width="1.2" />
<line x1="120.4" y1="383.1" x2="120.4" y2="390.2" stroke="#8000ff" stroke-width="1.2" /><line x1="117.4" y1="383.1" x2="123.4" y2="383.1" stroke="#8000ff" stroke-width="1.2" /><line x1="117.4" y1="390.2" x2="123.4" y2="390.2" stroke="#8000ff" stroke-width="1.2" />
<line x1="173.6" y1="383.9" x2="173.6" y2="390.9" stroke="#8000ff" stroke-width="1.2" /><line x1="170.6" y1="383.9" x2="176.6" y2="383.9" stroke="#8000ff" stroke-width="1.2" /><line x1="170.6" y1="390.9" x2="176.6" y2="390.9" stroke="#8000ff" stroke-width="1.2" />
<line x1="226.7" y1="382.7" x2="226.7" y2="389.8" stroke="#8000ff" stroke-width="1.2" /><line x1="223.7" y1="382.7" x2="229.7" y2="382.7" stroke="#8000ff" stroke-width="1.2" /><line x1="223.7" y1="389.8" x2="229.7" y2="389.8" stroke="#8000ff" stroke-width="1.2" />
<line x1="278.8" y1="386.9" x2="278.8" y2="394" stroke="#8000ff" stroke-width="1.2" /><line x1="275.8" y1="386.9" x2="281.8" y2="386.9" stroke="#8000ff" stroke-width="1.2" /><line x1="275.8" y1="394" x2="281.8" y2="394" stroke="#8000ff" stroke-width="1.2" />
<line x1="332" y1="382.9" x2="332" y2="397.1" stroke="#8000ff" stroke-width="1.2" /><line x1="329" y1="382.9" x2="335" y2="382.9" stroke="#8000ff" stroke-width="1.2" /><line x1="329" y1="397.1" x2="335" y2="397.1" stroke="#8000ff" stroke-width="1.2" />
<line x1="437.9" y1="388.3" x2="437.9" y2="402.5" stroke="#8000ff" stroke-width="1.2" /><line x1="434.9" y1="388.3" x2="440.9" y2="388.3" stroke="#8000ff" stroke-width="1.2" /><line x1="434.9" y1="402.5" x2="440.9" y2="402.5" stroke="#8000ff" stroke-width="1.2" />
<line x1="544.4" y1="392.1" x2="544.4" y2="406.3" stroke="#8000ff" stroke-width="1.2" /><line x1="541.4" y1="392.1" x2="547.4" y2="392.1" stroke="#8000ff" stroke-width="1.2" /><line x1="541.4" y1="406.3" x2="547.4" y2="406.3" stroke="#8000ff" stroke-width="1.2" />
<line x1="649.1" y1="395.4" x2="649.1" y2="409.6" stroke="#8000ff" stroke-width="1.2" /><line x1="646.1" y1="395.4" x2="652.1" y2="395.4" stroke="#8000ff" stroke-width="1.2" /><line x1="646.1" y1="409.6" x2="652.1" y2="409.6" stroke="#8000ff" stroke-width="1.2" />
<circle cx="67.6" cy="383.4" r="5.8" fill="url(#ballP)"/>
<circle cx="83" cy="384.6" r="5.8" fill="url(#ballP)"/>
<circle cx="120.4" cy="386.7" r="5.8" fill="url(#ballP)"/>
<circle cx="173.6" cy="387.4" r="5.8" fill="url(#ballP)"/>
<circle cx="226.7" cy="386.2" r="5.8" fill="url(#ballP)"/>
<circle cx="278.8" cy="390.5" r="5.8" fill="url(#ballP)"/>
<circle cx="332" cy="390" r="5.8" fill="url(#ballP)"/>
<circle cx="437.9" cy="395.4" r="5.8" fill="url(#ballP)"/>
<circle cx="544.4" cy="399.2" r="5.8" fill="url(#ballP)"/>
<circle cx="649.1" cy="402.5" r="5.8" fill="url(#ballP)"/>
<line x1="137" y1="515.2" x2="171" y2="515.2" stroke="#17877f" stroke-width="1.6" />
<circle cx="154" cy="515.2" r="5.8" fill="url(#ballT)"/>
<line x1="137" y1="534.2" x2="171" y2="534.2" stroke="#8000ff" stroke-width="1.6" />
<circle cx="154" cy="534.2" r="5.8" fill="url(#ballP)"/>
<text x="175.5" y="520.7" font-size="15.5" fill="#333" text-anchor="start" font-weight="normal" >w/o SHF</text>
<text x="175.5" y="539.7" font-size="15.5" fill="#333" text-anchor="start" font-weight="normal" >with SHF</text>
<text x="138.5" y="579" font-size="15.5" fill="#333" text-anchor="start" font-weight="normal" >ISOS-D-2 (ageing at 85 <tspan font-size="10" dy="-7">o</tspan><tspan dy="7">C)</tspan></text>
<text x="359.5" y="670" font-size="20" fill="#222" text-anchor="middle" font-weight="normal" >Time (hour)</text>
<text transform="translate(18.3,503.9) rotate(-90) scale(1,1.08)" font-size="19.5" fill="#222" text-anchor="middle">Normalized PCE</text>
<text x="7.3" y="387" font-size="31" fill="#000" text-anchor="start" font-weight="bold" >b</text>
<line x1="61.5" y1="947.4" x2="656.2" y2="947.4" stroke="#bdbdbd" stroke-width="1" stroke-dasharray="1.6,2"/>
<line x1="61.5" y1="900.2" x2="656.2" y2="900.2" stroke="#bdbdbd" stroke-width="1" stroke-dasharray="1.6,2"/>
<line x1="61.5" y1="853" x2="656.2" y2="853" stroke="#bdbdbd" stroke-width="1" stroke-dasharray="1.6,2"/>
<line x1="61.5" y1="805.9" x2="656.2" y2="805.9" stroke="#bdbdbd" stroke-width="1" stroke-dasharray="1.6,2"/>
<line x1="61.5" y1="758.7" x2="656.2" y2="758.7" stroke="#bdbdbd" stroke-width="1" stroke-dasharray="1.6,2"/>
<rect x="59.5" y="711.5" width="597.7" height="259.5" fill="none" stroke="#333" stroke-width="1.7"/>
<line x1="59.5" y1="971" x2="59.5" y2="977" stroke="#333" stroke-width="1.6" />
<line x1="205.1" y1="971" x2="205.1" y2="977" stroke="#333" stroke-width="1.6" />
<line x1="350.6" y1="971" x2="350.6" y2="977" stroke="#333" stroke-width="1.6" />
<line x1="496.2" y1="971" x2="496.2" y2="977" stroke="#333" stroke-width="1.6" />
<line x1="641.8" y1="971" x2="641.8" y2="977" stroke="#333" stroke-width="1.6" />
<line x1="132.3" y1="971" x2="132.3" y2="974" stroke="#333" stroke-width="1.6" />
<line x1="277.9" y1="971" x2="277.9" y2="974" stroke="#333" stroke-width="1.6" />
<line x1="423.4" y1="971" x2="423.4" y2="974" stroke="#333" stroke-width="1.6" />
<line x1="569" y1="971" x2="569" y2="974" stroke="#333" stroke-width="1.6" />
<line x1="54.5" y1="971" x2="59.5" y2="971" stroke="#333" stroke-width="1.6" />
<line x1="54.5" y1="923.8" x2="59.5" y2="923.8" stroke="#333" stroke-width="1.6" />
<line x1="54.5" y1="876.6" x2="59.5" y2="876.6" stroke="#333" stroke-width="1.6" />
<line x1="54.5" y1="829.5" x2="59.5" y2="829.5" stroke="#333" stroke-width="1.6" />
<line x1="54.5" y1="782.3" x2="59.5" y2="782.3" stroke="#333" stroke-width="1.6" />
<line x1="54.5" y1="735.1" x2="59.5" y2="735.1" stroke="#333" stroke-width="1.6" />
<line x1="57" y1="947.4" x2="59.5" y2="947.4" stroke="#333" stroke-width="1.6" />
<line x1="57" y1="900.2" x2="59.5" y2="900.2" stroke="#333" stroke-width="1.6" />
<line x1="57" y1="853" x2="59.5" y2="853" stroke="#333" stroke-width="1.6" />
<line x1="57" y1="805.9" x2="59.5" y2="805.9" stroke="#333" stroke-width="1.6" />
<line x1="57" y1="758.7" x2="59.5" y2="758.7" stroke="#333" stroke-width="1.6" />
<line x1="57" y1="711.5" x2="59.5" y2="711.5" stroke="#333" stroke-width="1.6" />
<text transform="translate(59.5,993.0) scale(1,1.08)" font-size="14.7" fill="#2a2a2a" text-anchor="middle" font-weight="normal" >0</text>
<text transform="translate(205.1,993.0) scale(1,1.08)" font-size="14.7" fill="#2a2a2a" text-anchor="middle" font-weight="normal" >50</text>
<text transform="translate(350.6,993.0) scale(1,1.08)" font-size="14.7" fill="#2a2a2a" text-anchor="middle" font-weight="normal" >100</text>
<text transform="translate(496.2,993.0) scale(1,1.08)" font-size="14.7" fill="#2a2a2a" text-anchor="middle" font-weight="normal" >150</text>
<text transform="translate(641.8,993.0) scale(1,1.08)" font-size="14.7" fill="#2a2a2a" text-anchor="middle" font-weight="normal" >200</text>
<text transform="translate(48.4,975.1) scale(1,1.06)" font-size="14.8" fill="#2a2a2a" text-anchor="end" font-weight="normal" >0.0</text>
<text transform="translate(48.4,927.9) scale(1,1.06)" font-size="14.8" fill="#2a2a2a" text-anchor="end" font-weight="normal" >0.2</text>
<text transform="translate(48.4,880.7) scale(1,1.06)" font-size="14.8" fill="#2a2a2a" text-anchor="end" font-weight="normal" >0.4</text>
<text transform="translate(48.4,833.6) scale(1,1.06)" font-size="14.8" fill="#2a2a2a" text-anchor="end" font-weight="normal" >0.6</text>
<text transform="translate(48.4,786.4) scale(1,1.06)" font-size="14.8" fill="#2a2a2a" text-anchor="end" font-weight="normal" >0.8</text>
<text transform="translate(48.4,739.2) scale(1,1.06)" font-size="14.8" fill="#2a2a2a" text-anchor="end" font-weight="normal" >1.0</text>
<polyline points="59.5,734.4 88.6,744.3 205.1,754.2 350.6,782.0 496.2,822.4 641.8,837.0" fill="none" stroke="#17877f" stroke-width="1.6" stroke-linejoin="round" />
<circle cx="59.5" cy="734.4" r="5.8" fill="url(#ballT)"/>
<circle cx="88.6" cy="744.3" r="5.8" fill="url(#ballT)"/>
<circle cx="205.1" cy="754.2" r="5.8" fill="url(#ballT)"/>
<circle cx="350.6" cy="782" r="5.8" fill="url(#ballT)"/>
<circle cx="496.2" cy="822.4" r="5.8" fill="url(#ballT)"/>
<circle cx="641.8" cy="837" r="5.8" fill="url(#ballT)"/>
<polyline points="59.5,734.4 88.6,736.3 205.1,738.4 350.6,741.2 496.2,746.7 641.8,749.5" fill="none" stroke="#8000ff" stroke-width="1.6" stroke-linejoin="round" />
<circle cx="59.5" cy="734.4" r="5.8" fill="url(#ballP)"/>
<circle cx="88.6" cy="736.3" r="5.8" fill="url(#ballP)"/>
<circle cx="205.1" cy="738.4" r="5.8" fill="url(#ballP)"/>
<circle cx="350.6" cy="741.2" r="5.8" fill="url(#ballP)"/>
<circle cx="496.2" cy="746.7" r="5.8" fill="url(#ballP)"/>
<circle cx="641.8" cy="749.5" r="5.8" fill="url(#ballP)"/>
<line x1="131" y1="869.7" x2="166" y2="869.7" stroke="#17877f" stroke-width="1.6" />
<circle cx="148.5" cy="869.7" r="5.8" fill="url(#ballT)"/>
<line x1="131" y1="888.2" x2="166" y2="888.2" stroke="#8000ff" stroke-width="1.6" />
<circle cx="148.5" cy="888.2" r="5.8" fill="url(#ballP)"/>
<text x="170" y="875" font-size="15.5" fill="#333" text-anchor="start" font-weight="normal" >w/o SHF</text>
<text x="170" y="893.5" font-size="15.5" fill="#333" text-anchor="start" font-weight="normal" >with SHF</text>
<text x="133" y="929" font-size="15.5" fill="#333" text-anchor="start" font-weight="normal" >ISOS-T-3 (cycling between -40 <tspan font-size="10" dy="-7">o</tspan><tspan dy="7">C and 85 </tspan><tspan font-size="10" dy="-7">o</tspan><tspan dy="7">C)</tspan></text>
<text x="358.6" y="1022" font-size="20" fill="#222" text-anchor="middle" font-weight="normal" >Thermal cycle (n)</text>
<text transform="translate(18.3,853.4) rotate(-90) scale(1,1.08)" font-size="19.5" fill="#222" text-anchor="middle">Normalized PCE</text>
<text x="7.4" y="738" font-size="31" fill="#000" text-anchor="start" font-weight="bold" >c</text>
<rect x="782.6" y="7.2" width="33.7" height="31" fill="#c0c0c0"/>
<rect x="816.3" y="7.2" width="86.1" height="31" fill="#8586c9"/>
<rect x="902.4" y="7.2" width="96.9" height="31" fill="#ff8412"/>
<rect x="999.3" y="7.2" width="29.2" height="31" fill="#168a80"/>
<rect x="1028.5" y="7.2" width="146.5" height="31" fill="#0a79c1"/>
<rect x="782.6" y="7.2" width="392.4" height="31" fill="none" stroke="#555" stroke-width="0.8"/>
<text x="799.5" y="26.7" font-size="11.6" fill="#000" fill-opacity="0.7" text-anchor="middle" stroke="#000" stroke-opacity="0.45" stroke-width="0.45">Ag</text>
<text x="859.3" y="26.7" font-size="11.6" fill="#000" fill-opacity="0.7" text-anchor="middle" stroke="#000" stroke-opacity="0.45" stroke-width="0.45">C<tspan font-size="8" dy="3">60</tspan><tspan dy="-3">/Interface</tspan></text>
<text x="950.8" y="26.7" font-size="11.6" fill="#000" fill-opacity="0.7" text-anchor="middle" stroke="#000" stroke-opacity="0.45" stroke-width="0.45">Perovskite</text>
<text x="1013.9" y="26.7" font-size="11.6" fill="#000" fill-opacity="0.7" text-anchor="middle" stroke="#000" stroke-opacity="0.45" stroke-width="0.45">SAM</text>
<text x="1101.8" y="26.7" font-size="11.6" fill="#000" fill-opacity="0.7" text-anchor="middle" stroke="#000" stroke-opacity="0.45" stroke-width="0.45">ITO substrate</text>
<line x1="816.3" y1="38.2" x2="816.3" y2="301.8" stroke="#888" stroke-width="0.8" stroke-dasharray="1.2,1.6"/>
<line x1="902.4" y1="38.2" x2="902.4" y2="301.8" stroke="#888" stroke-width="0.8" stroke-dasharray="1.2,1.6"/>
<line x1="999.3" y1="38.2" x2="999.3" y2="301.8" stroke="#888" stroke-width="0.8" stroke-dasharray="1.2,1.6"/>
<line x1="1028.5" y1="38.2" x2="1028.5" y2="301.8" stroke="#888" stroke-width="0.8" stroke-dasharray="1.2,1.6"/>
<line x1="782.6" y1="38.2" x2="1175" y2="38.2" stroke="#222" stroke-width="2" />
<line x1="782.6" y1="38.2" x2="782.6" y2="301.8" stroke="#444" stroke-width="1.7" />
<line x1="782.6" y1="301.8" x2="1175" y2="301.8" stroke="#444" stroke-width="1.7" />
<line x1="1175" y1="7.4" x2="1175" y2="304.8" stroke="#444" stroke-width="1.5" />
<rect x="1175" y="7.4" width="74.4" height="294.4" fill="none" stroke="#444" stroke-width="1.2"/>
<line x1="777.6" y1="278.8" x2="782.6" y2="278.8" stroke="#444" stroke-width="1.5" />
<text x="768.6" y="283.3" font-size="13" fill="#444" text-anchor="end">10</text>
<text x="768.8" y="276.8" font-size="7.5" fill="#555">0</text>
<line x1="777.6" y1="244.4" x2="782.6" y2="244.4" stroke="#444" stroke-width="1.5" />
<text x="768.6" y="248.9" font-size="13" fill="#444" text-anchor="end">10</text>
<text x="768.8" y="242.4" font-size="7.5" fill="#555">1</text>
<line x1="777.6" y1="210" x2="782.6" y2="210" stroke="#444" stroke-width="1.5" />
<text x="768.6" y="214.5" font-size="13" fill="#444" text-anchor="end">10</text>
<text x="768.8" y="208" font-size="7.5" fill="#555">2</text>
<line x1="777.6" y1="175.6" x2="782.6" y2="175.6" stroke="#444" stroke-width="1.5" />
<text x="768.6" y="180.1" font-size="13" fill="#444" text-anchor="end">10</text>
<text x="768.8" y="173.6" font-size="7.5" fill="#555">3</text>
<line x1="777.6" y1="141.2" x2="782.6" y2="141.2" stroke="#444" stroke-width="1.5" />
<text x="768.6" y="145.7" font-size="13" fill="#444" text-anchor="end">10</text>
<text x="768.8" y="139.2" font-size="7.5" fill="#555">4</text>
<line x1="777.6" y1="106.8" x2="782.6" y2="106.8" stroke="#444" stroke-width="1.5" />
<text x="768.6" y="111.3" font-size="13" fill="#444" text-anchor="end">10</text>
<text x="768.8" y="104.8" font-size="7.5" fill="#555">5</text>
<line x1="777.6" y1="72.4" x2="782.6" y2="72.4" stroke="#444" stroke-width="1.5" />
<text x="768.6" y="76.9" font-size="13" fill="#444" text-anchor="end">10</text>
<text x="768.8" y="70.4" font-size="7.5" fill="#555">6</text>
<line x1="777.6" y1="38" x2="782.6" y2="38" stroke="#444" stroke-width="1.5" />
<text x="768.6" y="42.5" font-size="13" fill="#444" text-anchor="end">10</text>
<text x="768.8" y="36" font-size="7.5" fill="#555">7</text>
<line x1="779.6" y1="296.8" x2="782.6" y2="296.8" stroke="#444" stroke-width="1.0" />
<line x1="779.6" y1="292.5" x2="782.6" y2="292.5" stroke="#444" stroke-width="1.0" />
<line x1="779.6" y1="289.2" x2="782.6" y2="289.2" stroke="#444" stroke-width="1.0" />
<line x1="779.6" y1="286.4" x2="782.6" y2="286.4" stroke="#444" stroke-width="1.0" />
<line x1="779.6" y1="284.1" x2="782.6" y2="284.1" stroke="#444" stroke-width="1.0" />
<line x1="779.6" y1="282.1" x2="782.6" y2="282.1" stroke="#444" stroke-width="1.0" />
<line x1="779.6" y1="280.4" x2="782.6" y2="280.4" stroke="#444" stroke-width="1.0" />
<line x1="779.6" y1="268.4" x2="782.6" y2="268.4" stroke="#444" stroke-width="1.0" />
<line x1="779.6" y1="262.4" x2="782.6" y2="262.4" stroke="#444" stroke-width="1.0" />
<line x1="779.6" y1="258.1" x2="782.6" y2="258.1" stroke="#444" stroke-width="1.0" />
<line x1="779.6" y1="254.8" x2="782.6" y2="254.8" stroke="#444" stroke-width="1.0" />
<line x1="779.6" y1="252" x2="782.6" y2="252" stroke="#444" stroke-width="1.0" />
<line x1="779.6" y1="249.7" x2="782.6" y2="249.7" stroke="#444" stroke-width="1.0" />
<line x1="779.6" y1="247.7" x2="782.6" y2="247.7" stroke="#444" stroke-width="1.0" />
<line x1="779.6" y1="246" x2="782.6" y2="246" stroke="#444" stroke-width="1.0" />
<line x1="779.6" y1="234" x2="782.6" y2="234" stroke="#444" stroke-width="1.0" />
<line x1="779.6" y1="228" x2="782.6" y2="228" stroke="#444" stroke-width="1.0" />
<line x1="779.6" y1="223.7" x2="782.6" y2="223.7" stroke="#444" stroke-width="1.0" />
<line x1="779.6" y1="220.4" x2="782.6" y2="220.4" stroke="#444" stroke-width="1.0" />
<line x1="779.6" y1="217.6" x2="782.6" y2="217.6" stroke="#444" stroke-width="1.0" />
<line x1="779.6" y1="215.3" x2="782.6" y2="215.3" stroke="#444" stroke-width="1.0" />
<line x1="779.6" y1="213.3" x2="782.6" y2="213.3" stroke="#444" stroke-width="1.0" />
<line x1="779.6" y1="211.6" x2="782.6" y2="211.6" stroke="#444" stroke-width="1.0" />
<line x1="779.6" y1="199.6" x2="782.6" y2="199.6" stroke="#444" stroke-width="1.0" />
<line x1="779.6" y1="193.6" x2="782.6" y2="193.6" stroke="#444" stroke-width="1.0" />
<line x1="779.6" y1="189.3" x2="782.6" y2="189.3" stroke="#444" stroke-width="1.0" />
<line x1="779.6" y1="186" x2="782.6" y2="186" stroke="#444" stroke-width="1.0" />
<line x1="779.6" y1="183.2" x2="782.6" y2="183.2" stroke="#444" stroke-width="1.0" />
<line x1="779.6" y1="180.9" x2="782.6" y2="180.9" stroke="#444" stroke-width="1.0" />
<line x1="779.6" y1="178.9" x2="782.6" y2="178.9" stroke="#444" stroke-width="1.0" />
<line x1="779.6" y1="177.2" x2="782.6" y2="177.2" stroke="#444" stroke-width="1.0" />
<line x1="779.6" y1="165.2" x2="782.6" y2="165.2" stroke="#444" stroke-width="1.0" />
<line x1="779.6" y1="159.2" x2="782.6" y2="159.2" stroke="#444" stroke-width="1.0" />
<line x1="779.6" y1="154.9" x2="782.6" y2="154.9" stroke="#444" stroke-width="1.0" />
<line x1="779.6" y1="151.6" x2="782.6" y2="151.6" stroke="#444" stroke-width="1.0" />
<line x1="779.6" y1="148.8" x2="782.6" y2="148.8" stroke="#444" stroke-width="1.0" />
<line x1="779.6" y1="146.5" x2="782.6" y2="146.5" stroke="#444" stroke-width="1.0" />
<line x1="779.6" y1="144.5" x2="782.6" y2="144.5" stroke="#444" stroke-width="1.0" />
<line x1="779.6" y1="142.8" x2="782.6" y2="142.8" stroke="#444" stroke-width="1.0" />
<line x1="779.6" y1="130.8" x2="782.6" y2="130.8" stroke="#444" stroke-width="1.0" />
<line x1="779.6" y1="124.8" x2="782.6" y2="124.8" stroke="#444" stroke-width="1.0" />
<line x1="779.6" y1="120.5" x2="782.6" y2="120.5" stroke="#444" stroke-width="1.0" />
<line x1="779.6" y1="117.2" x2="782.6" y2="117.2" stroke="#444" stroke-width="1.0" />
<line x1="779.6" y1="114.4" x2="782.6" y2="114.4" stroke="#444" stroke-width="1.0" />
<line x1="779.6" y1="112.1" x2="782.6" y2="112.1" stroke="#444" stroke-width="1.0" />
<line x1="779.6" y1="110.1" x2="782.6" y2="110.1" stroke="#444" stroke-width="1.0" />
<line x1="779.6" y1="108.4" x2="782.6" y2="108.4" stroke="#444" stroke-width="1.0" />
<line x1="779.6" y1="96.4" x2="782.6" y2="96.4" stroke="#444" stroke-width="1.0" />
<line x1="779.6" y1="90.4" x2="782.6" y2="90.4" stroke="#444" stroke-width="1.0" />
<line x1="779.6" y1="86.1" x2="782.6" y2="86.1" stroke="#444" stroke-width="1.0" />
<line x1="779.6" y1="82.8" x2="782.6" y2="82.8" stroke="#444" stroke-width="1.0" />
<line x1="779.6" y1="80" x2="782.6" y2="80" stroke="#444" stroke-width="1.0" />
<line x1="779.6" y1="77.7" x2="782.6" y2="77.7" stroke="#444" stroke-width="1.0" />
<line x1="779.6" y1="75.7" x2="782.6" y2="75.7" stroke="#444" stroke-width="1.0" />
<line x1="779.6" y1="74" x2="782.6" y2="74" stroke="#444" stroke-width="1.0" />
<line x1="779.6" y1="62" x2="782.6" y2="62" stroke="#444" stroke-width="1.0" />
<line x1="779.6" y1="56" x2="782.6" y2="56" stroke="#444" stroke-width="1.0" />
<line x1="779.6" y1="51.7" x2="782.6" y2="51.7" stroke="#444" stroke-width="1.0" />
<line x1="779.6" y1="48.4" x2="782.6" y2="48.4" stroke="#444" stroke-width="1.0" />
<line x1="779.6" y1="45.6" x2="782.6" y2="45.6" stroke="#444" stroke-width="1.0" />
<line x1="779.6" y1="43.3" x2="782.6" y2="43.3" stroke="#444" stroke-width="1.0" />
<line x1="779.6" y1="41.3" x2="782.6" y2="41.3" stroke="#444" stroke-width="1.0" />
<line x1="779.6" y1="39.6" x2="782.6" y2="39.6" stroke="#444" stroke-width="1.0" />
<line x1="782.6" y1="301.8" x2="782.6" y2="307.8" stroke="#444" stroke-width="1.5" />
<text x="782.6" y="321" font-size="13" fill="#3a3a3a" text-anchor="middle" font-weight="normal" >0</text>
<line x1="861.1" y1="301.8" x2="861.1" y2="307.8" stroke="#444" stroke-width="1.5" />
<text x="861.1" y="321" font-size="13" fill="#3a3a3a" text-anchor="middle" font-weight="normal" >300</text>
<line x1="939.6" y1="301.8" x2="939.6" y2="307.8" stroke="#444" stroke-width="1.5" />
<text x="939.6" y="321" font-size="13" fill="#3a3a3a" text-anchor="middle" font-weight="normal" >600</text>
<line x1="1018" y1="301.8" x2="1018" y2="307.8" stroke="#444" stroke-width="1.5" />
<text x="1018" y="321" font-size="13" fill="#3a3a3a" text-anchor="middle" font-weight="normal" >900</text>
<line x1="1096.5" y1="301.8" x2="1096.5" y2="307.8" stroke="#444" stroke-width="1.5" />
<text x="1096.5" y="321" font-size="13" fill="#3a3a3a" text-anchor="middle" font-weight="normal" >1200</text>
<line x1="1175" y1="301.8" x2="1175" y2="307.8" stroke="#444" stroke-width="1.5" />
<text x="1175" y="321" font-size="13" fill="#3a3a3a" text-anchor="middle" font-weight="normal" >1500</text>
<line x1="821.8" y1="301.8" x2="821.8" y2="304.8" stroke="#444" stroke-width="1.5" />
<line x1="900.3" y1="301.8" x2="900.3" y2="304.8" stroke="#444" stroke-width="1.5" />
<line x1="978.8" y1="301.8" x2="978.8" y2="304.8" stroke="#444" stroke-width="1.5" />
<line x1="1057.3" y1="301.8" x2="1057.3" y2="304.8" stroke="#444" stroke-width="1.5" />
<line x1="1135.8" y1="301.8" x2="1135.8" y2="304.8" stroke="#444" stroke-width="1.5" />
<polyline points="782.6,276.8 783.8,278.2 785.0,292.2 786.1,286.0 787.3,283.6 788.5,287.1 789.7,281.4 790.8,289.2 792.0,286.2 793.2,276.8 794.4,286.6 795.5,290.9 796.7,282.0 797.9,291.7 799.1,284.9 800.3,295.3 801.4,301.3 802.6,297.4 803.8,299.9 805.0,301.6 806.1,295.3 807.3,289.5 808.5,301.6 809.7,279.5 810.9,283.5 812.0,268.1 813.2,270.9 814.4,251.5 815.6,235.7 816.7,255.9 817.9,240.4 819.1,224.0 820.3,224.9 821.4,228.0 822.6,223.9 823.8,230.2 825.0,230.6 826.2,235.5 827.3,235.6 828.5,239.7 829.7,244.0 830.9,237.9 832.0,239.7 833.2,248.2 834.4,246.5 835.6,247.2 836.8,247.7 837.9,251.5 839.1,257.0 840.3,255.1 841.5,253.4 842.6,260.8 843.8,257.1 845.0,259.8 846.2,255.9 847.3,256.7 848.5,262.4 849.7,266.0 850.9,263.4 852.1,269.7 853.2,261.8 854.4,279.2 855.6,272.3 856.8,277.6 857.9,271.1 859.1,270.4 860.3,277.0 861.5,276.9 862.6,274.3 863.8,265.9 865.0,271.2 866.2,279.5 867.4,272.0 868.5,275.9 869.7,278.8 870.9,270.8 872.1,265.4 873.2,290.9 874.4,270.3 875.6,263.7 876.8,273.8 878.0,274.7 879.1,268.8 880.3,275.4 881.5,262.7 882.7,271.0 883.8,270.5 885.0,265.0 886.2,258.9 887.4,263.8 888.5,260.9 889.7,261.8 890.9,260.3 892.1,260.6 893.3,270.4 894.4,260.1 895.6,256.2 896.8,256.2 898.0,248.8 899.1,251.6 900.3,250.0 901.5,249.4 902.7,247.5 903.9,251.1 905.0,255.1 906.2,270.1 907.4,254.8 908.6,250.8 909.7,256.7 910.9,256.0 912.1,261.2 913.3,259.2 914.4,256.7 915.6,262.7 916.8,260.6 918.0,257.6 919.2,249.1 920.3,262.6 921.5,259.8 922.7,260.3 923.9,262.1 925.0,262.1 926.2,263.9 927.4,257.9 928.6,257.2 929.8,262.1 930.9,264.2 932.1,263.6 933.3,265.1 934.5,260.3 935.6,263.4 936.8,257.8 938.0,265.8 939.2,261.4 940.3,257.6 941.5,262.3 942.7,262.2 943.9,265.9 945.1,259.4 946.2,263.2 947.4,266.4 948.6,267.4 949.8,262.8 950.9,266.6 952.1,264.6 953.3,258.3 954.5,275.4 955.6,268.7 956.8,255.8 958.0,290.5 959.2,268.1 960.4,260.9 961.5,272.3 962.7,262.3 963.9,261.7 965.1,265.5 966.2,256.1 967.4,260.2 968.6,264.9 969.8,256.3 971.0,268.5 972.1,262.6 973.3,260.2 974.5,258.8 975.7,262.3 976.8,255.7 978.0,256.7 979.2,262.2 980.4,263.6 981.5,264.5 982.7,269.4 983.9,271.3 985.1,265.6 986.3,254.3 987.4,265.2 988.6,261.9 989.8,260.0 991.0,260.6 992.1,269.1 993.3,266.2 994.5,266.3 995.7,261.5 996.9,259.3 998.0,264.5 999.2,259.6 1000.4,258.2 1001.6,268.3 1002.7,264.9 1003.9,263.1 1005.1,256.0 1006.3,262.5 1007.4,258.9 1008.6,264.2 1009.8,268.7 1011.0,261.0 1012.2,261.6 1013.3,259.4 1014.5,266.0 1015.7,256.2 1016.9,261.5 1018.0,256.7 1019.2,264.5 1020.4,256.7 1021.6,263.7 1022.7,265.4 1023.9,265.4 1025.1,265.5 1026.3,265.1 1027.5,259.7 1028.6,267.8 1029.8,259.7 1031.0,266.6 1032.2,263.1 1033.3,281.4 1034.5,247.5 1035.7,259.3 1036.9,254.9 1038.1,263.7 1039.2,271.8 1040.4,260.8 1041.6,261.0 1042.8,259.2 1043.9,262.5 1045.1,261.6 1046.3,268.1 1047.5,287.8 1048.6,279.9 1049.8,255.1 1051.0,286.6 1052.2,265.8 1053.4,272.2 1054.5,258.7 1055.7,269.4 1056.9,268.5 1058.1,286.9 1059.2,258.6 1060.4,276.7 1061.6,269.5 1062.8,268.0 1064.0,266.2 1065.1,276.0 1066.3,285.8 1067.5,270.0 1068.7,279.1 1069.8,262.5 1071.0,272.3 1072.2,257.2 1073.4,264.9 1074.5,266.7 1075.7,270.2 1076.9,266.8 1078.1,270.1 1079.3,270.4 1080.4,271.8 1081.6,280.2 1082.8,273.0 1084.0,274.1 1085.1,269.4 1086.3,285.0 1087.5,299.6 1088.7,282.8 1089.8,272.3 1091.0,275.7 1092.2,289.8 1093.4,270.9 1094.6,278.3 1095.7,262.5 1096.9,266.9 1098.1,271.6 1099.3,271.6 1100.4,283.0 1101.6,269.8 1102.8,275.0 1104.0,276.7 1105.2,276.9 1106.3,272.2 1107.5,274.7 1108.7,284.6 1109.9,274.5 1111.0,285.1 1112.2,285.9 1113.4,291.1 1114.6,277.2 1115.7,262.0 1116.9,271.7 1118.1,274.1 1119.3,276.7 1120.5,273.6 1121.6,273.9 1122.8,276.0 1124.0,264.8 1125.2,290.9 1126.3,283.2 1127.5,292.6 1128.7,271.2 1129.9,287.7 1131.1,271.3 1132.2,266.6 1133.4,276.0 1134.6,280.7 1135.8,284.9 1136.9,275.1 1138.1,268.5 1139.3,280.7 1140.5,266.0 1141.6,268.7 1142.8,275.1 1144.0,277.3 1145.2,271.5 1146.4,282.2 1147.5,274.1 1148.7,267.8 1149.9,276.7 1151.1,270.0 1152.2,269.2 1153.4,289.5 1154.6,268.2 1155.8,276.3 1156.9,267.3 1158.1,270.1 1159.3,275.1 1160.5,283.5 1161.7,286.8 1162.8,301.6 1164.0,281.2 1165.2,279.6 1166.4,270.6 1167.5,276.0 1168.7,279.3 1169.9,284.4 1171.1,266.8 1172.3,282.4 1173.4,274.9 1174.6,283.9" fill="none" stroke="#2f8ee0" stroke-width="1.4" stroke-linejoin="round" stroke-dasharray="3.5,2.5"/>
<polyline points="782.6,239.1 783.4,240.2 784.2,240.5 785.0,241.0 785.7,241.3 786.5,242.2 787.3,243.2 788.1,243.4 788.9,244.3 789.7,244.4 790.4,245.3 791.2,245.4 792.0,246.4 792.8,247.0 793.6,247.5 794.4,247.7 795.2,247.9 795.9,248.0 796.7,248.5 797.5,249.1 798.3,249.1 799.1,249.8 799.9,249.7 800.7,250.2 801.4,250.0 802.2,250.3 803.0,250.6 803.8,251.0 804.6,250.8 805.4,250.9 806.1,251.0 806.9,251.0 807.7,250.5 808.5,250.7 809.3,250.4 810.1,250.0 810.9,250.4 811.6,249.5 812.4,249.3 813.2,249.4 814.0,249.2 814.8,248.9 815.6,248.1 816.3,248.5 817.1,247.5 817.9,247.3 818.7,247.1 819.5,246.7 820.3,246.4 821.1,246.1 821.8,245.5 822.6,245.6 823.4,244.9 824.2,244.7 825.0,244.7 825.8,244.3 826.5,244.2 827.3,243.9 828.1,243.5 828.9,242.9 829.7,243.1 830.5,242.9 831.3,242.5 832.0,242.3 832.8,242.2 833.6,241.3 834.4,241.6 835.2,241.2 836.0,241.0 836.8,240.4 837.5,239.6 838.3,239.2 839.1,239.3 839.9,239.0 840.7,238.7 841.5,238.6 842.2,237.8 843.0,237.5 843.8,236.6 844.6,236.7 845.4,236.4 846.2,236.1 847.0,235.6 847.7,234.6 848.5,234.1 849.3,233.9 850.1,233.5 850.9,232.6 851.7,232.1 852.4,231.5 853.2,230.9 854.0,230.5 854.8,230.1 855.6,229.1 856.4,228.5 857.2,227.9 857.9,227.1 858.7,226.5 859.5,226.2 860.3,225.3 861.1,225.3 861.9,224.0 862.6,223.5 863.4,222.6 864.2,221.9 865.0,221.5 865.8,220.6 866.6,219.6 867.4,219.2 868.1,218.2 868.9,217.6 869.7,216.5 870.5,215.7 871.3,215.0 872.1,214.2 872.9,213.5 873.6,211.9 874.4,211.1 875.2,210.1 876.0,209.0 876.8,208.0 877.6,206.5 878.3,205.3 879.1,204.6 879.9,202.8 880.7,201.5 881.5,200.2 882.3,198.7 883.1,196.9 883.8,195.8 884.6,194.1 885.4,192.7 886.2,191.7 887.0,189.4 887.8,188.2 888.5,186.8 889.3,185.0 890.1,183.1 890.9,182.1 891.7,180.5 892.5,178.6 893.3,177.2 894.0,175.2 894.8,173.1 895.6,171.0 896.4,169.0 897.2,167.0 898.0,164.9 898.8,163.3 899.5,161.3 900.3,159.4 901.1,157.6 901.9,155.5 902.7,153.9 903.5,152.9 904.2,150.9 905.0,149.8 905.8,148.3 906.6,146.4 907.4,144.9 908.2,143.6 909.0,142.4 909.7,141.0 910.5,140.6 911.3,139.4 912.1,139.1 912.9,138.6 913.7,138.4 914.4,137.4 915.2,136.9 916.0,136.7 916.8,136.7 917.6,136.2 918.4,136.2 919.2,135.8 919.9,135.1 920.7,134.9 921.5,134.9 922.3,134.7 923.1,134.8 923.9,134.6 924.6,134.7 925.4,134.6 926.2,134.8 927.0,134.4 927.8,134.7 928.6,134.6 929.4,134.7 930.1,134.3 930.9,134.5 931.7,134.8 932.5,134.9 933.3,134.5 934.1,134.6 934.9,134.7 935.6,134.6 936.4,134.3 937.2,134.7 938.0,134.4 938.8,134.8 939.6,134.7 940.3,134.6 941.1,134.7 941.9,134.8 942.7,134.9 943.5,134.7 944.3,134.8 945.1,134.7 945.8,134.5 946.6,134.6 947.4,134.4 948.2,134.6 949.0,134.6 949.8,134.6 950.5,134.5 951.3,134.5 952.1,134.8 952.9,134.6 953.7,134.7 954.5,134.5 955.3,134.6 956.0,134.9 956.8,134.7 957.6,134.6 958.4,134.7 959.2,134.5 960.0,134.7 960.7,135.1 961.5,134.7 962.3,134.6 963.1,135.0 963.9,134.7 964.7,135.4 965.5,134.4 966.2,135.2 967.0,135.0 967.8,135.0 968.6,135.2 969.4,134.9 970.2,135.1 971.0,135.2 971.7,135.4 972.5,134.8 973.3,134.7 974.1,135.1 974.9,135.0 975.7,134.7 976.4,135.0 977.2,134.8 978.0,134.9 978.8,134.9 979.6,135.0 980.4,134.9 981.2,135.1 981.9,135.1 982.7,135.3 983.5,135.7 984.3,135.4 985.1,135.3 985.9,135.1 986.6,135.4 987.4,135.7 988.2,135.2 989.0,135.1 989.8,135.3 990.6,135.3 991.4,135.4 992.1,135.5 992.9,135.2 993.7,135.7 994.5,135.7 995.3,135.9 996.1,135.7 996.9,135.7 997.6,135.8 998.4,135.6 999.2,135.5 1000.0,136.0 1000.8,135.7 1001.6,135.9 1002.3,136.0 1003.1,136.0 1003.9,135.9 1004.7,136.3 1005.5,135.8 1006.3,136.2 1007.1,136.4 1007.8,136.6 1008.6,136.2 1009.4,136.3 1010.2,136.4 1011.0,136.7 1011.8,136.4 1012.5,136.6 1013.3,136.6 1014.1,137.1 1014.9,137.1 1015.7,137.5 1016.5,137.5 1017.3,137.7 1018.0,137.8 1018.8,137.9 1019.6,138.1 1020.4,138.2 1021.2,138.3 1022.0,138.6 1022.7,138.8 1023.5,138.9 1024.3,138.8 1025.1,139.0 1025.9,139.1 1026.7,138.9 1027.5,139.8 1028.2,139.6 1029.0,140.2 1029.8,140.2 1030.6,140.5 1031.4,140.5 1032.2,140.4 1033.0,140.6 1033.7,141.1 1034.5,141.2 1035.3,141.5 1036.1,142.2 1036.9,141.8 1037.7,142.6 1038.4,142.8 1039.2,143.0 1040.0,143.5 1040.8,143.7 1041.6,143.7 1042.4,144.4 1043.2,144.6 1043.9,145.2 1044.7,145.5 1045.5,145.4 1046.3,145.7 1047.1,146.2 1047.9,146.1 1048.6,147.0 1049.4,147.0 1050.2,147.6 1051.0,147.8 1051.8,148.0 1052.6,148.7 1053.4,148.5 1054.1,149.1 1054.9,149.4 1055.7,149.8 1056.5,150.0 1057.3,150.6 1058.1,150.9 1058.8,150.9 1059.6,151.4 1060.4,151.7 1061.2,151.9 1062.0,152.0 1062.8,152.9 1063.6,153.5 1064.3,153.4 1065.1,154.1 1065.9,154.1 1066.7,154.6 1067.5,154.8 1068.3,154.8 1069.1,155.5 1069.8,156.2 1070.6,156.5 1071.4,156.8 1072.2,157.3 1073.0,157.2 1073.8,157.7 1074.5,157.8 1075.3,158.2 1076.1,158.8 1076.9,159.3 1077.7,159.6 1078.5,159.8 1079.3,160.3 1080.0,160.9 1080.8,160.4 1081.6,160.9 1082.4,161.6 1083.2,161.9 1084.0,162.2 1084.7,162.4 1085.5,162.8 1086.3,163.5 1087.1,163.3 1087.9,163.5 1088.7,164.2 1089.5,164.5 1090.2,164.4 1091.0,164.9 1091.8,164.7 1092.6,165.0 1093.4,165.8 1094.2,165.6 1095.0,166.2 1095.7,166.3 1096.5,166.1 1097.3,166.7 1098.1,166.7 1098.9,167.2 1099.7,166.9 1100.4,167.5 1101.2,167.1 1102.0,167.9 1102.8,168.3 1103.6,168.4 1104.4,168.7 1105.2,168.5 1105.9,169.3 1106.7,169.1 1107.5,169.2 1108.3,169.5 1109.1,170.2 1109.9,169.8 1110.6,170.1 1111.4,170.3 1112.2,170.9 1113.0,170.9 1113.8,170.8 1114.6,171.2 1115.4,171.4 1116.1,171.7 1116.9,171.9 1117.7,172.0 1118.5,171.7 1119.3,172.4 1120.1,172.7 1120.8,173.0 1121.6,172.9 1122.4,173.1 1123.2,173.4 1124.0,173.8 1124.8,173.2 1125.6,173.8 1126.3,174.1 1127.1,174.1 1127.9,174.5 1128.7,174.5 1129.5,175.1 1130.3,174.9 1131.1,175.5 1131.8,175.0 1132.6,175.3 1133.4,175.5 1134.2,175.6 1135.0,176.1 1135.8,175.9 1136.5,176.1 1137.3,176.1 1138.1,176.5 1138.9,176.7 1139.7,176.7 1140.5,176.8 1141.3,177.0 1142.0,177.1 1142.8,177.1 1143.6,177.3 1144.4,177.5 1145.2,177.7 1146.0,178.1 1146.7,177.8 1147.5,178.1 1148.3,178.2 1149.1,178.6 1149.9,178.1 1150.7,178.3 1151.5,178.8 1152.2,178.7 1153.0,178.8 1153.8,178.6 1154.6,179.2 1155.4,179.1 1156.2,179.6 1156.9,179.6 1157.7,179.8 1158.5,179.9 1159.3,180.2 1160.1,180.0 1160.9,180.4 1161.7,180.5 1162.4,180.5 1163.2,180.3 1164.0,180.5 1164.8,180.9 1165.6,181.2 1166.4,181.4 1167.2,181.2 1167.9,181.2 1168.7,181.3 1169.5,181.6 1170.3,181.9 1171.1,181.7 1171.9,181.7 1172.6,182.1 1173.4,182.1 1174.2,182.4 1175.0,182.5" fill="none" stroke="#f2a24e" stroke-width="1.4" stroke-linejoin="round" stroke-dasharray="5,3.5"/>
<polyline points="782.6,186.4 783.4,187.3 784.2,191.3 785.0,194.0 785.7,197.8 786.5,198.7 787.3,198.1 788.1,201.4 788.9,201.6 789.7,204.7 790.4,205.8 791.2,207.6 792.0,212.7 792.8,208.8 793.6,210.7 794.4,211.8 795.2,217.4 795.9,218.5 796.7,217.7 797.5,217.7 798.3,216.9 799.1,218.4 799.9,217.9 800.7,220.9 801.4,219.5 802.2,219.8 803.0,222.5 803.8,218.0 804.6,220.8 805.4,219.9 806.1,224.0 806.9,224.5 807.7,224.1 808.5,223.9 809.3,222.6 810.1,223.7 810.9,225.5 811.6,226.8 812.4,226.2 813.2,222.9 814.0,227.3 814.8,225.5 815.6,225.4 816.3,229.7 817.1,226.9 817.9,224.6 818.7,231.8 819.5,228.7 820.3,228.6 821.1,230.4 821.8,228.1 822.6,229.6 823.4,232.8 824.2,228.4 825.0,229.1 825.8,228.8 826.5,228.1 827.3,230.7 828.1,231.5 828.9,234.7 829.7,231.0 830.5,233.7 831.3,233.6 832.0,235.5 832.8,235.1 833.6,234.4 834.4,230.8 835.2,237.9 836.0,236.8 836.8,233.5 837.5,231.2 838.3,233.1 839.1,238.4 839.9,239.8 840.7,234.0 841.5,236.4 842.2,237.3 843.0,233.2 843.8,233.0 844.6,235.1 845.4,235.1 846.2,234.8 847.0,232.6 847.7,234.8 848.5,235.1 849.3,235.2 850.1,239.7 850.9,234.0 851.7,234.8 852.4,235.8 853.2,241.1 854.0,238.5 854.8,235.6 855.6,241.2 856.4,238.0 857.2,235.6 857.9,240.6 858.7,234.7 859.5,237.0 860.3,238.6 861.1,237.8 861.9,237.3 862.6,238.5 863.4,236.5 864.2,240.4 865.0,240.1 865.8,237.2 866.6,239.5 867.4,241.5 868.1,237.9 868.9,237.1 869.7,241.2 870.5,243.3 871.3,241.0 872.1,241.2 872.9,241.7 873.6,238.5 874.4,243.7 875.2,239.3 876.0,244.8 876.8,244.0 877.6,241.4 878.3,240.6 879.1,241.5 879.9,242.8 880.7,243.5 881.5,243.8 882.3,243.2 883.1,245.1 883.8,244.4 884.6,244.1 885.4,245.6 886.2,244.4 887.0,245.1 887.8,242.4 888.5,246.2 889.3,248.0 890.1,248.2 890.9,247.8 891.7,246.1 892.5,249.0 893.3,247.9 894.0,245.2 894.8,254.6 895.6,252.0 896.4,249.5 897.2,249.5 898.0,250.2 898.8,251.9 899.5,249.9 900.3,251.5 901.1,251.9 901.9,251.5 902.7,252.2 903.5,252.6 904.2,252.7 905.0,253.0 905.8,253.2 906.6,254.0 907.4,253.7 908.2,253.6 909.0,254.3 909.7,254.3 910.5,254.3 911.3,254.5 912.1,254.6 912.9,255.4 913.7,255.3 914.4,255.5 915.2,255.5 916.0,255.5 916.8,256.4 917.6,255.8 918.4,256.4 919.2,256.1 919.9,256.6 920.7,256.3 921.5,256.2 922.3,256.5 923.1,256.4 923.9,256.3 924.6,256.3 925.4,256.3 926.2,255.9 927.0,255.8 927.8,255.9 928.6,255.1 929.4,255.7 930.1,255.0 930.9,255.1 931.7,254.7 932.5,254.3 933.3,254.2 934.1,253.8 934.9,253.9 935.6,253.5 936.4,252.6 937.2,252.4 938.0,251.9 938.8,251.3 939.6,250.1 940.3,249.5 941.1,248.5 941.9,248.0 942.7,246.7 943.5,245.6 944.3,243.9 945.1,242.4 945.8,241.4 946.6,239.5 947.4,238.1 948.2,237.0 949.0,236.0 949.8,234.0 950.5,233.1 951.3,232.1 952.1,230.8 952.9,229.7 953.7,228.4 954.5,227.9 955.3,226.4 956.0,225.3 956.8,224.3 957.6,223.6 958.4,222.8 959.2,221.4 960.0,220.6 960.7,219.7 961.5,218.4 962.3,217.9 963.1,217.3 963.9,216.0 964.7,215.4 965.5,214.0 966.2,213.2 967.0,212.5 967.8,211.6 968.6,210.6 969.4,209.9 970.2,208.8 971.0,208.3 971.7,207.3 972.5,206.4 973.3,205.6 974.1,205.4 974.9,204.3 975.7,204.1 976.4,203.2 977.2,202.7 978.0,201.3 978.8,201.1 979.6,200.2 980.4,199.5 981.2,198.8 981.9,198.2 982.7,197.4 983.5,196.4 984.3,196.1 985.1,195.4 985.9,194.6 986.6,194.2 987.4,193.8 988.2,193.1 989.0,192.1 989.8,192.0 990.6,191.2 991.4,190.3 992.1,189.7 992.9,189.3 993.7,188.6 994.5,188.1 995.3,187.8 996.1,187.3 996.9,186.5 997.6,185.7 998.4,185.4 999.2,184.9 1000.0,184.3 1000.8,183.9 1001.6,183.0 1002.3,182.6 1003.1,181.7 1003.9,181.6 1004.7,180.5 1005.5,180.0 1006.3,179.6 1007.1,178.4 1007.8,178.0 1008.6,177.8 1009.4,176.8 1010.2,176.0 1011.0,175.5 1011.8,174.6 1012.5,174.0 1013.3,173.4 1014.1,172.9 1014.9,172.1 1015.7,171.7 1016.5,171.2 1017.3,171.2 1018.0,170.1 1018.8,169.5 1019.6,169.4 1020.4,169.0 1021.2,168.1 1022.0,168.5 1022.7,167.7 1023.5,167.1 1024.3,167.5 1025.1,166.9 1025.9,166.5 1026.7,166.8 1027.5,166.6 1028.2,166.5 1029.0,166.8 1029.8,166.7 1030.6,166.6 1031.4,166.6 1032.2,166.8 1033.0,166.9 1033.7,167.1 1034.5,167.0 1035.3,166.8 1036.1,167.1 1036.9,167.4 1037.7,167.5 1038.4,166.9 1039.2,167.3 1040.0,167.5 1040.8,168.3 1041.6,167.8 1042.4,167.9 1043.2,167.8 1043.9,168.2 1044.7,168.4 1045.5,168.5 1046.3,169.1 1047.1,168.6 1047.9,168.9 1048.6,169.3 1049.4,169.0 1050.2,169.1 1051.0,169.9 1051.8,169.9 1052.6,169.8 1053.4,170.0 1054.1,170.3 1054.9,170.5 1055.7,170.0 1056.5,170.4 1057.3,171.0 1058.1,171.1 1058.8,170.7 1059.6,170.9 1060.4,170.9 1061.2,171.3 1062.0,171.8 1062.8,171.7 1063.6,172.3 1064.3,172.2 1065.1,172.2 1065.9,172.3 1066.7,172.7 1067.5,172.7 1068.3,172.8 1069.1,173.0 1069.8,173.1 1070.6,173.4 1071.4,173.6 1072.2,173.6 1073.0,173.9 1073.8,174.3 1074.5,174.4 1075.3,174.5 1076.1,174.7 1076.9,174.8 1077.7,175.0 1078.5,175.2 1079.3,175.4 1080.0,175.8 1080.8,175.6 1081.6,175.7 1082.4,176.0 1083.2,176.3 1084.0,176.3 1084.7,176.8 1085.5,177.2 1086.3,176.9 1087.1,177.3 1087.9,177.1 1088.7,177.7 1089.5,178.1 1090.2,178.0 1091.0,177.6 1091.8,178.1 1092.6,178.5 1093.4,178.5 1094.2,178.3 1095.0,178.5 1095.7,178.7 1096.5,178.5 1097.3,178.8 1098.1,179.1 1098.9,179.1 1099.7,178.9 1100.4,179.2 1101.2,179.3 1102.0,179.8 1102.8,179.7 1103.6,179.6 1104.4,179.9 1105.2,179.7 1105.9,179.9 1106.7,179.9 1107.5,180.2 1108.3,179.8 1109.1,180.1 1109.9,180.5 1110.6,180.5 1111.4,180.1 1112.2,180.8 1113.0,180.6 1113.8,180.6 1114.6,180.9 1115.4,181.2 1116.1,181.0 1116.9,181.1 1117.7,181.0 1118.5,181.1 1119.3,181.4 1120.1,181.3 1120.8,181.4 1121.6,181.5 1122.4,181.6 1123.2,181.8 1124.0,181.6 1124.8,182.1 1125.6,182.0 1126.3,182.0 1127.1,182.3 1127.9,182.2 1128.7,182.6 1129.5,182.4 1130.3,182.2 1131.1,182.2 1131.8,182.4 1132.6,182.5 1133.4,182.8 1134.2,182.2 1135.0,182.5 1135.8,182.5 1136.5,182.9 1137.3,182.9 1138.1,183.2 1138.9,182.8 1139.7,182.8 1140.5,183.4 1141.3,183.1 1142.0,183.0 1142.8,183.6 1143.6,183.6 1144.4,183.5 1145.2,183.5 1146.0,183.7 1146.7,183.5 1147.5,183.5 1148.3,183.5 1149.1,183.5 1149.9,183.4 1150.7,183.5 1151.5,184.1 1152.2,184.0 1153.0,184.1 1153.8,184.2 1154.6,184.1 1155.4,184.1 1156.2,184.0 1156.9,184.5 1157.7,184.5 1158.5,184.3 1159.3,184.4 1160.1,184.5 1160.9,184.5 1161.7,184.7 1162.4,184.5 1163.2,184.6 1164.0,184.7 1164.8,184.9 1165.6,184.9 1166.4,185.5 1167.2,185.2 1167.9,185.0 1168.7,185.4 1169.5,185.1 1170.3,185.2 1171.1,185.5 1171.9,185.4 1172.6,185.4 1173.4,185.4 1174.2,185.4 1175.0,185.6" fill="none" stroke="#2a9a93" stroke-width="1.4" stroke-linejoin="round" stroke-dasharray="5,3.5"/>
<polyline points="782.6,210.9 783.4,209.2 784.2,212.5 785.0,214.0 785.7,216.2 786.5,218.2 787.3,219.4 788.1,221.9 788.9,224.5 789.7,226.3 790.4,228.1 791.2,227.5 792.0,228.4 792.8,228.1 793.6,230.7 794.4,231.9 795.2,232.0 795.9,233.4 796.7,236.2 797.5,232.1 798.3,234.1 799.1,232.8 799.9,233.2 800.7,228.3 801.4,230.2 802.2,230.7 803.0,232.2 803.8,228.7 804.6,230.5 805.4,226.9 806.1,229.9 806.9,227.2 807.7,225.0 808.5,226.8 809.3,224.6 810.1,223.7 810.9,221.6 811.6,222.7 812.4,220.0 813.2,216.9 814.0,220.9 814.8,218.8 815.6,215.8 816.3,216.2 817.1,215.7 817.9,210.0 818.7,208.8 819.5,206.7 820.3,205.1 821.1,204.2 821.8,205.5 822.6,207.4 823.4,203.3 824.2,205.6 825.0,204.1 825.8,203.7 826.5,206.2 827.3,205.0 828.1,202.2 828.9,203.8 829.7,207.4 830.5,205.6 831.3,205.5 832.0,204.9 832.8,204.8 833.6,206.2 834.4,206.6 835.2,205.3 836.0,208.8 836.8,205.4 837.5,206.9 838.3,208.4 839.1,208.8 839.9,208.0 840.7,210.8 841.5,212.4 842.2,208.8 843.0,207.6 843.8,210.3 844.6,210.4 845.4,210.9 846.2,212.6 847.0,211.1 847.7,210.9 848.5,212.4 849.3,211.5 850.1,214.6 850.9,213.2 851.7,215.0 852.4,215.0 853.2,214.2 854.0,214.7 854.8,214.1 855.6,214.7 856.4,217.6 857.2,214.4 857.9,218.7 858.7,216.9 859.5,216.5 860.3,217.3 861.1,216.7 861.9,217.6 862.6,219.3 863.4,216.9 864.2,218.3 865.0,219.7 865.8,218.5 866.6,218.8 867.4,218.5 868.1,220.0 868.9,219.1 869.7,219.8 870.5,217.4 871.3,220.3 872.1,218.2 872.9,220.3 873.6,218.7 874.4,217.2 875.2,221.2 876.0,220.7 876.8,222.3 877.6,222.3 878.3,222.3 879.1,221.5 879.9,220.6 880.7,220.9 881.5,223.0 882.3,222.4 883.1,224.9 883.8,222.2 884.6,223.6 885.4,225.1 886.2,224.8 887.0,223.2 887.8,224.2 888.5,223.7 889.3,225.5 890.1,224.9 890.9,225.7 891.7,227.8 892.5,226.2 893.3,226.4 894.0,227.5 894.8,225.7 895.6,224.1 896.4,225.5 897.2,227.7 898.0,229.7 898.8,228.7 899.5,229.6 900.3,228.8 901.1,227.7 901.9,229.8 902.7,232.1 903.5,228.5 904.2,230.7 905.0,229.3 905.8,232.8 906.6,228.5 907.4,234.1 908.2,232.7 909.0,232.1 909.7,237.3 910.5,235.3 911.3,236.8 912.1,232.7 912.9,234.5 913.7,237.3 914.4,238.9 915.2,239.3 916.0,237.1 916.8,238.9 917.6,237.7 918.4,239.5 919.2,241.5 919.9,237.1 920.7,239.3 921.5,241.4 922.3,241.4 923.1,239.5 923.9,240.6 924.6,244.0 925.4,240.7 926.2,244.1 927.0,243.0 927.8,246.0 928.6,245.8 929.4,244.2 930.1,247.5 930.9,246.2 931.7,246.1 932.5,248.0 933.3,245.3 934.1,246.7 934.9,247.9 935.6,246.4 936.4,245.9 937.2,245.9 938.0,247.5 938.8,245.9 939.6,246.5 940.3,246.2 941.1,245.5 941.9,244.4 942.7,244.4 943.5,243.5 944.3,242.7 945.1,242.6 945.8,242.0 946.6,241.5 947.4,240.7 948.2,240.5 949.0,239.5 949.8,239.1 950.5,238.2 951.3,238.0 952.1,237.2 952.9,236.1 953.7,235.5 954.5,235.6 955.3,233.9 956.0,233.7 956.8,232.6 957.6,231.9 958.4,231.4 959.2,230.8 960.0,230.4 960.7,229.2 961.5,228.2 962.3,228.1 963.1,226.9 963.9,226.3 964.7,225.5 965.5,225.2 966.2,224.3 967.0,223.5 967.8,222.4 968.6,222.2 969.4,221.4 970.2,220.7 971.0,219.6 971.7,219.4 972.5,218.3 973.3,217.8 974.1,216.8 974.9,215.8 975.7,215.3 976.4,214.3 977.2,213.7 978.0,212.8 978.8,212.1 979.6,211.5 980.4,210.4 981.2,209.6 981.9,209.1 982.7,208.0 983.5,207.4 984.3,206.7 985.1,205.8 985.9,204.9 986.6,204.1 987.4,203.2 988.2,202.7 989.0,201.9 989.8,201.5 990.6,200.5 991.4,199.5 992.1,199.2 992.9,198.4 993.7,197.0 994.5,196.7 995.3,196.2 996.1,195.7 996.9,194.7 997.6,193.3 998.4,193.1 999.2,192.2 1000.0,191.5 1000.8,191.0 1001.6,190.1 1002.3,189.5 1003.1,188.8 1003.9,187.8 1004.7,187.5 1005.5,186.7 1006.3,186.0 1007.1,184.9 1007.8,184.5 1008.6,183.3 1009.4,183.2 1010.2,182.4 1011.0,182.0 1011.8,181.0 1012.5,180.0 1013.3,179.2 1014.1,178.8 1014.9,178.0 1015.7,177.0 1016.5,176.7 1017.3,175.9 1018.0,175.1 1018.8,174.8 1019.6,173.7 1020.4,173.4 1021.2,172.5 1022.0,172.2 1022.7,171.4 1023.5,170.7 1024.3,170.3 1025.1,170.2 1025.9,169.4 1026.7,168.9 1027.5,168.4 1028.2,167.8 1029.0,167.7 1029.8,166.6 1030.6,166.7 1031.4,165.8 1032.2,165.7 1033.0,165.3 1033.7,164.8 1034.5,164.4 1035.3,163.9 1036.1,163.3 1036.9,162.8 1037.7,162.4 1038.4,162.6 1039.2,161.9 1040.0,161.5 1040.8,161.3 1041.6,160.8 1042.4,160.5 1043.2,160.4 1043.9,160.0 1044.7,159.3 1045.5,159.2 1046.3,158.6 1047.1,158.6 1047.9,158.3 1048.6,157.9 1049.4,157.6 1050.2,157.1 1051.0,157.2 1051.8,156.6 1052.6,156.4 1053.4,156.4 1054.1,156.0 1054.9,155.8 1055.7,155.3 1056.5,155.0 1057.3,154.9 1058.1,154.9 1058.8,154.5 1059.6,154.4 1060.4,154.3 1061.2,153.8 1062.0,153.9 1062.8,153.6 1063.6,153.6 1064.3,153.4 1065.1,152.9 1065.9,153.1 1066.7,152.7 1067.5,152.5 1068.3,152.1 1069.1,152.2 1069.8,151.7 1070.6,151.8 1071.4,151.6 1072.2,151.5 1073.0,151.3 1073.8,151.1 1074.5,151.1 1075.3,150.8 1076.1,150.7 1076.9,150.1 1077.7,150.4 1078.5,150.0 1079.3,150.1 1080.0,149.6 1080.8,149.7 1081.6,149.7 1082.4,149.2 1083.2,149.0 1084.0,148.9 1084.7,148.9 1085.5,148.9 1086.3,149.0 1087.1,148.8 1087.9,148.8 1088.7,148.4 1089.5,148.5 1090.2,148.3 1091.0,148.2 1091.8,148.2 1092.6,148.2 1093.4,148.2 1094.2,147.4 1095.0,147.9 1095.7,148.1 1096.5,147.9 1097.3,147.7 1098.1,147.1 1098.9,147.4 1099.7,147.6 1100.4,146.9 1101.2,147.6 1102.0,146.9 1102.8,146.5 1103.6,147.0 1104.4,146.7 1105.2,146.7 1105.9,147.3 1106.7,146.6 1107.5,146.7 1108.3,147.1 1109.1,146.3 1109.9,146.5 1110.6,146.3 1111.4,146.2 1112.2,146.3 1113.0,146.6 1113.8,146.2 1114.6,146.2 1115.4,146.2 1116.1,146.1 1116.9,145.9 1117.7,145.5 1118.5,145.7 1119.3,145.7 1120.1,145.5 1120.8,145.5 1121.6,145.6 1122.4,145.7 1123.2,145.8 1124.0,145.3 1124.8,145.5 1125.6,145.2 1126.3,145.6 1127.1,145.5 1127.9,145.3 1128.7,145.1 1129.5,145.4 1130.3,145.5 1131.1,145.2 1131.8,145.6 1132.6,145.1 1133.4,145.6 1134.2,145.7 1135.0,145.3 1135.8,145.5 1136.5,145.1 1137.3,145.2 1138.1,145.2 1138.9,145.8 1139.7,145.4 1140.5,145.5 1141.3,145.8 1142.0,145.0 1142.8,145.8 1143.6,145.6 1144.4,145.6 1145.2,145.5 1146.0,145.4 1146.7,145.3 1147.5,145.7 1148.3,145.3 1149.1,145.3 1149.9,145.4 1150.7,145.1 1151.5,145.5 1152.2,145.5 1153.0,145.6 1153.8,145.7 1154.6,145.5 1155.4,145.3 1156.2,145.4 1156.9,145.5 1157.7,145.5 1158.5,145.2 1159.3,145.3 1160.1,145.9 1160.9,145.8 1161.7,145.3 1162.4,145.4 1163.2,145.4 1164.0,145.4 1164.8,145.8 1165.6,145.8 1166.4,145.5 1167.2,145.9 1167.9,145.6 1168.7,145.2 1169.5,146.0 1170.3,145.5 1171.1,145.3 1171.9,145.4 1172.6,145.7 1173.4,145.9 1174.2,145.7 1175.0,145.9" fill="none" stroke="#2c2c7e" stroke-width="1.4" stroke-linejoin="round" stroke-dasharray="5,3.5"/>
<polyline points="782.6,138.9 783.3,138.8 783.9,138.6 784.6,138.6 785.2,138.6 785.9,138.8 786.5,138.7 787.2,138.8 787.8,139.0 788.5,138.9 789.1,138.7 789.8,138.8 790.4,138.8 791.1,138.9 791.8,138.8 792.4,138.9 793.1,138.8 793.7,138.7 794.4,139.1 795.0,138.8 795.7,139.0 796.3,138.9 797.0,139.0 797.6,138.6 798.3,138.7 799.0,138.7 799.6,138.9 800.3,139.0 800.9,138.8 801.6,138.8 802.2,138.8 802.9,138.7 803.5,138.8 804.2,138.5 804.8,138.7 805.5,138.5 806.1,138.8 806.8,138.8 807.5,138.9 808.1,138.7 808.8,138.6 809.4,138.8 810.1,138.7 810.7,138.8 811.4,138.8 812.0,138.8 812.7,139.0 813.3,138.9 814.0,138.8 814.6,138.8 815.3,138.6 816.0,138.7 816.6,138.8 817.3,138.9 817.9,139.5 818.6,139.4 819.2,139.9 819.9,140.1 820.5,140.7 821.2,141.3 821.8,141.9 822.5,142.5 823.1,143.4 823.8,144.0 824.5,144.3 825.1,145.2 825.8,146.0 826.4,146.8 827.1,147.5 827.7,147.8 828.4,148.9 829.0,149.7 829.7,150.5 830.3,151.4 831.0,151.7 831.6,152.1 832.3,152.7 833.0,153.3 833.6,153.8 834.3,154.3 834.9,154.6 835.6,155.0 836.2,155.5 836.9,155.6 837.5,156.3 838.2,156.6 838.8,157.2 839.5,157.1 840.2,157.7 840.8,158.0 841.5,158.3 842.1,158.8 842.8,159.1 843.4,159.4 844.1,159.8 844.7,160.0 845.4,160.2 846.0,160.6 846.7,160.8 847.3,161.2 848.0,161.4 848.7,161.9 849.3,162.2 850.0,162.7 850.6,162.9 851.3,163.3 851.9,163.5 852.6,163.9 853.2,164.0 853.9,164.0 854.5,164.8 855.2,164.9 855.8,165.2 856.5,165.6 857.2,165.9 857.8,166.2 858.5,166.4 859.1,166.8 859.8,166.6 860.4,167.2 861.1,167.4 861.7,167.5 862.4,167.9 863.0,168.4 863.7,168.6 864.4,168.9 865.0,169.1 865.7,169.2 866.3,169.9 867.0,170.1 867.6,170.1 868.3,170.3 868.9,170.7 869.6,170.9 870.2,170.9 870.9,171.2 871.5,171.6 872.2,171.8 872.9,172.3 873.5,172.2 874.2,172.5 874.8,172.9 875.5,173.0 876.1,173.4 876.8,173.7 877.4,174.1 878.1,174.1 878.7,174.6 879.4,174.7 880.0,175.0 880.7,175.5 881.4,175.7 882.0,176.1 882.7,176.4 883.3,176.6 884.0,177.1 884.6,177.2 885.3,177.7 885.9,178.2 886.6,178.3 887.2,178.8 887.9,179.0 888.5,179.8 889.2,179.8 889.9,180.5 890.5,180.7 891.2,180.6 891.8,181.4 892.5,181.7 893.1,182.4 893.8,182.9 894.4,183.2 895.1,183.6 895.7,184.2 896.4,184.8 897.1,185.4 897.7,185.9 898.4,186.3 899.0,187.2 899.7,187.9 900.3,188.7 901.0,189.7 901.6,190.6 902.3,190.6 902.9,190.8 903.6,191.8 904.2,193.2 904.9,192.6 905.6,193.7 906.2,193.5 906.9,194.8 907.5,195.8 908.2,195.6 908.8,196.2 909.5,197.0 910.1,197.3 910.8,197.6 911.4,198.2 912.1,198.0 912.7,198.5 913.4,199.2 914.1,199.6 914.7,199.4 915.4,200.0 916.0,200.9 916.7,200.7 917.3,200.4 918.0,201.2 918.6,202.0 919.3,201.3 919.9,201.1 920.6,202.3 921.2,203.6 921.9,203.5 922.6,202.3 923.2,203.4 923.9,203.2 924.5,203.5 925.2,203.8 925.8,203.4 926.5,204.2 927.1,204.2 927.8,204.5 928.4,204.7 929.1,204.0 929.8,205.6 930.4,205.8 931.1,205.1 931.7,206.2 932.4,205.8 933.0,206.4 933.7,205.8 934.3,206.3 935.0,206.2 935.6,206.9 936.3,206.9 936.9,207.9 937.6,206.8 938.3,207.1 938.9,207.5 939.6,207.6 940.2,208.0 940.9,208.0 941.5,207.3 942.2,208.5 942.8,208.7 943.5,208.3 944.1,208.7 944.8,209.2 945.4,208.4 946.1,208.5 946.8,209.5 947.4,208.8 948.1,210.2 948.7,209.2 949.4,210.6 950.0,209.9 950.7,210.3 951.3,210.5 952.0,210.2 952.6,210.9 953.3,211.0 953.9,211.2 954.6,210.2 955.3,211.2 955.9,210.9 956.6,211.2 957.2,210.7 957.9,211.6 958.5,211.6 959.2,211.6 959.8,211.3 960.5,211.7 961.1,211.2 961.8,211.2 962.5,211.0 963.1,211.3 963.8,211.0 964.4,211.7 965.1,211.8 965.7,211.9 966.4,211.9 967.0,212.2 967.7,211.5 968.3,211.7 969.0,212.6 969.6,211.8 970.3,212.1 971.0,212.2 971.6,212.0 972.3,211.4 972.9,211.9 973.6,212.8 974.2,211.8 974.9,212.3 975.5,211.3 976.2,212.2 976.8,212.1 977.5,212.1 978.1,212.4 978.8,212.3 979.5,212.2 980.1,211.2 980.8,212.1 981.4,211.9 982.1,212.1 982.7,212.1 983.4,212.1 984.0,211.6 984.7,213.5 985.3,212.5 986.0,212.6 986.6,211.9 987.3,212.6 988.0,211.9 988.6,211.8 989.3,212.5 989.9,212.1 990.6,212.5 991.2,212.0 991.9,212.1 992.5,211.9 993.2,212.0 993.8,212.8 994.5,211.8 995.1,212.4 995.8,211.9 996.5,212.3 997.1,212.0 997.8,212.9 998.4,211.8 999.1,212.8 999.7,212.4 1000.4,212.2 1001.0,213.0 1001.7,212.2 1002.3,212.3 1003.0,211.9 1003.7,212.2 1004.3,212.5 1005.0,212.5 1005.6,212.3 1006.3,211.8 1006.9,211.8 1007.6,211.4 1008.2,210.9 1008.9,211.6 1009.5,211.5 1010.2,211.0 1010.8,210.9 1011.5,211.8 1012.2,211.1 1012.8,210.6 1013.5,210.3 1014.1,210.6 1014.8,210.6 1015.4,209.2 1016.1,211.2 1016.7,209.2 1017.4,209.9 1018.0,209.6 1018.7,209.3 1019.3,209.0 1020.0,209.4 1020.7,209.4 1021.3,208.6 1022.0,208.1 1022.6,208.5 1023.3,207.3 1023.9,208.7 1024.6,207.7 1025.2,207.7 1025.9,207.2 1026.5,208.1 1027.2,207.2 1027.8,207.4 1028.5,208.2 1029.2,207.3 1029.8,207.6 1030.5,207.1 1031.1,206.6 1031.8,206.7 1032.4,205.8 1033.1,206.2 1033.7,206.6 1034.4,206.4 1035.0,206.0 1035.7,206.3 1036.4,205.7 1037.0,205.5 1037.7,205.3 1038.3,205.5 1039.0,205.4 1039.6,205.8 1040.3,205.1 1040.9,205.1 1041.6,204.9 1042.2,204.7 1042.9,205.0 1043.5,204.8 1044.2,204.8 1044.9,204.9 1045.5,205.0 1046.2,204.6 1046.8,203.9 1047.5,204.9 1048.1,203.7 1048.8,203.5 1049.4,203.3 1050.1,203.8 1050.7,203.7 1051.4,203.0 1052.0,203.0 1052.7,202.6 1053.4,203.3 1054.0,203.3 1054.7,202.6 1055.3,203.1 1056.0,202.9 1056.6,202.3 1057.3,202.4 1057.9,202.9 1058.6,202.4 1059.2,202.6 1059.9,202.1 1060.5,202.3 1061.2,202.7 1061.9,201.6 1062.5,202.3 1063.2,202.2 1063.8,202.4 1064.5,202.1 1065.1,202.2 1065.8,201.7 1066.4,201.7 1067.1,201.4 1067.7,201.5 1068.4,201.9 1069.1,202.0 1069.7,202.0 1070.4,201.2 1071.0,201.8 1071.7,200.9 1072.3,201.4 1073.0,201.4 1073.6,201.3 1074.3,200.5 1074.9,201.2 1075.6,201.3 1076.2,201.6 1076.9,201.8 1077.6,201.3 1078.2,200.5 1078.9,200.7 1079.5,201.3 1080.2,201.9 1080.8,200.4 1081.5,200.7 1082.1,201.7 1082.8,200.9 1083.4,201.2 1084.1,200.3 1084.7,200.5 1085.4,201.0 1086.1,201.6 1086.7,200.8 1087.4,199.6 1088.0,200.5 1088.7,200.9 1089.3,200.3 1090.0,200.9 1090.6,200.0 1091.3,201.4 1091.9,200.9 1092.6,200.0 1093.2,200.2 1093.9,200.4 1094.6,201.3 1095.2,200.7 1095.9,200.4 1096.5,200.9 1097.2,200.7 1097.8,200.3 1098.5,200.8 1099.1,200.5 1099.8,200.8 1100.4,201.2 1101.1,201.3 1101.8,201.0 1102.4,201.1 1103.1,200.3 1103.7,200.7 1104.4,201.5 1105.0,200.1 1105.7,199.7 1106.3,200.9 1107.0,200.5 1107.6,200.7 1108.3,200.4 1108.9,200.6 1109.6,200.5 1110.3,200.7 1110.9,201.0 1111.6,200.8 1112.2,201.0 1112.9,201.0 1113.5,200.9 1114.2,199.7 1114.8,200.4 1115.5,200.0 1116.1,201.4 1116.8,200.9 1117.4,200.4 1118.1,200.3 1118.8,200.7 1119.4,201.1 1120.1,201.5 1120.7,200.9 1121.4,201.7 1122.0,200.9 1122.7,201.3 1123.3,201.4 1124.0,201.4 1124.6,201.8 1125.3,201.8 1126.0,201.1 1126.6,201.6 1127.3,201.7 1127.9,201.1 1128.6,201.2 1129.2,201.4 1129.9,202.2 1130.5,201.2 1131.2,201.5 1131.8,202.2 1132.5,202.1 1133.1,201.5 1133.8,201.4 1134.5,202.2 1135.1,202.5 1135.8,201.6 1136.4,202.4 1137.1,201.9 1137.7,202.3 1138.4,202.4 1139.0,202.6 1139.7,201.9 1140.3,202.7 1141.0,202.6 1141.6,203.0 1142.3,202.0 1143.0,202.9 1143.6,203.4 1144.3,203.1 1144.9,203.8 1145.6,203.3 1146.2,203.8 1146.9,202.8 1147.5,202.8 1148.2,202.5 1148.8,203.7 1149.5,204.0 1150.1,204.6 1150.8,203.7 1151.5,204.2 1152.1,203.4 1152.8,203.2 1153.4,204.7 1154.1,204.2 1154.7,203.6 1155.4,205.0 1156.0,204.9 1156.7,204.2 1157.3,204.4 1158.0,205.4 1158.7,204.5 1159.3,205.0 1160.0,204.9 1160.6,204.8 1161.3,204.3 1161.9,204.8 1162.6,205.6 1163.2,204.7 1163.9,205.1 1164.5,205.2 1165.2,205.8 1165.8,206.0 1166.5,205.7 1167.2,205.1 1167.8,205.6 1168.5,205.8 1169.1,205.8 1169.8,205.9 1170.4,206.2 1171.1,206.1 1171.7,207.0 1172.4,206.3 1173.0,206.0 1173.7,206.3 1174.3,205.9 1175.0,205.9" fill="none" stroke="#6e6e6e" stroke-width="2.0" stroke-linejoin="round" />
<polyline points="782.6,112.1 783.1,118.1 783.6,124.4 784.2,130.1 784.7,134.2 785.2,137.6 785.7,140.2 786.3,142.7 786.8,144.9 787.3,146.7 787.8,148.2 788.4,149.1 788.9,150.5 789.4,151.5 789.9,152.2 790.4,153.3 791.0,153.9 791.5,154.5 792.0,155.2 792.5,155.9 793.1,156.4 793.6,157.0 794.1,157.2 794.6,157.6 795.2,157.9 795.7,158.8 796.2,159.3 796.7,159.7 797.2,160.1 797.8,160.6 798.3,160.9 798.8,161.5 799.3,162.0 799.9,162.0 800.4,162.7 800.9,162.8 801.4,163.4 802.0,163.6 802.5,164.2 803.0,164.4 803.5,164.5 804.1,164.8 804.6,165.2 805.1,165.4 805.6,165.9 806.1,165.8 806.7,166.2 807.2,166.4 807.7,166.5 808.2,166.8 808.8,167.1 809.3,167.2 809.8,167.4 810.3,167.6 810.9,167.7 811.4,168.0 811.9,168.0 812.4,168.1 812.9,168.3 813.5,168.7 814.0,168.9 814.5,168.9 815.0,169.1 815.6,169.1 816.1,169.4 816.6,169.5 817.1,169.8 817.7,169.8 818.2,170.1 818.7,170.3 819.2,170.2 819.7,170.4 820.3,170.5 820.8,170.4 821.3,170.4 821.8,170.7 822.4,170.8 822.9,170.7 823.4,170.8 823.9,170.9 824.5,171.2 825.0,171.2 825.5,171.0 826.0,171.4 826.5,171.3 827.1,171.2 827.6,171.3 828.1,171.6 828.6,171.6 829.2,171.7 829.7,171.9 830.2,171.8 830.7,171.9 831.3,171.8 831.8,172.1 832.3,172.1 832.8,172.1 833.4,172.1 833.9,172.5 834.4,172.1 834.9,172.3 835.4,172.2 836.0,172.1 836.5,172.3 837.0,172.3 837.5,172.4 838.1,172.3 838.6,172.3 839.1,172.3 839.6,172.5 840.2,172.6 840.7,172.5 841.2,172.7 841.7,172.5 842.2,172.5 842.8,172.8 843.3,172.5 843.8,172.6 844.3,172.6 844.9,172.6 845.4,172.3 845.9,172.2 846.4,172.4 847.0,172.3 847.5,172.2 848.0,172.1 848.5,171.8 849.0,172.0 849.6,171.6 850.1,172.0 850.6,171.8 851.1,171.3 851.7,171.4 852.2,171.5 852.7,170.8 853.2,170.9 853.8,170.8 854.3,171.1 854.8,170.5 855.3,170.5 855.8,170.4 856.4,170.3 856.9,170.4 857.4,170.2 857.9,169.8 858.5,169.6 859.0,169.5 859.5,169.4 860.0,169.3 860.6,169.1 861.1,168.8 861.6,168.9 862.1,169.0 862.6,168.6 863.2,168.6 863.7,168.5 864.2,168.4 864.7,167.9 865.3,167.9 865.8,167.7 866.3,167.6 866.8,167.1 867.4,167.2 867.9,167.0 868.4,166.9 868.9,166.7 869.5,166.1 870.0,166.2 870.5,165.7 871.0,165.5 871.5,165.3 872.1,165.1 872.6,164.9 873.1,164.5 873.6,164.4 874.2,164.4 874.7,164.0 875.2,163.5 875.7,163.6 876.3,163.2 876.8,163.0 877.3,162.6 877.8,162.6 878.3,162.0 878.9,162.1 879.4,161.7 879.9,161.6 880.4,161.1 881.0,161.0 881.5,160.8 882.0,160.3 882.5,160.2 883.1,159.6 883.6,159.8 884.1,158.9 884.6,158.8 885.1,158.2 885.7,158.1 886.2,157.8 886.7,157.5 887.2,157.2 887.8,156.7 888.3,156.5 888.8,156.3 889.3,155.8 889.9,155.3 890.4,155.0 890.9,154.6 891.4,154.2 891.9,154.2 892.5,153.5 893.0,153.0 893.5,152.7 894.0,152.5 894.6,152.2 895.1,151.8 895.6,151.1 896.1,151.0 896.7,150.5 897.2,150.3 897.7,149.8 898.2,149.7 898.8,149.5 899.3,148.9 899.8,148.5 900.3,148.5 900.8,147.9 901.4,147.5 901.9,147.2 902.4,146.9 902.9,146.8 903.5,146.4 904.0,146.1 904.5,145.5 905.0,145.2 905.6,144.8 906.1,144.8 906.6,144.4 907.1,143.9 907.6,143.6 908.2,143.1 908.7,143.0 909.2,142.6 909.7,142.1 910.3,142.0 910.8,141.7 911.3,141.1 911.8,140.8 912.4,140.8 912.9,140.6 913.4,140.3 913.9,140.3 914.4,139.6 915.0,139.2 915.5,139.2 916.0,139.1 916.5,138.9 917.1,138.7 917.6,138.3 918.1,138.1 918.6,137.8 919.2,137.5 919.7,137.5 920.2,137.2 920.7,137.5 921.2,137.2 921.8,136.8 922.3,136.8 922.8,136.5 923.3,136.2 923.9,136.0 924.4,135.9 924.9,135.7 925.4,135.6 926.0,135.4 926.5,135.2 927.0,135.3 927.5,135.1 928.0,135.0 928.6,134.9 929.1,135.0 929.6,134.9 930.1,134.8 930.7,134.6 931.2,134.6 931.7,134.5 932.2,134.7 932.8,134.8 933.3,134.6 933.8,134.9 934.3,134.5 934.9,134.4 935.4,134.8 935.9,134.7 936.4,135.0 936.9,134.7 937.5,134.7 938.0,134.6 938.5,134.6 939.0,134.7 939.6,134.5 940.1,134.5 940.6,134.7 941.1,134.6 941.7,134.9 942.2,135.0 942.7,134.9 943.2,134.5 943.7,135.0 944.3,135.0 944.8,134.9 945.3,135.0 945.8,134.9 946.4,134.9 946.9,135.2 947.4,135.3 947.9,135.4 948.5,135.5 949.0,135.6 949.5,135.6 950.0,135.6 950.5,135.6 951.1,135.7 951.6,135.9 952.1,135.8 952.6,136.2 953.2,135.9 953.7,136.1 954.2,136.0 954.7,136.3 955.3,136.6 955.8,136.3 956.3,136.6 956.8,136.8 957.3,137.0 957.9,137.1 958.4,136.8 958.9,136.9 959.4,137.1 960.0,136.8 960.5,137.1 961.0,137.1 961.5,137.4 962.1,137.4 962.6,137.5 963.1,137.3 963.6,137.4 964.2,137.5 964.7,137.5 965.2,137.6 965.7,137.6 966.2,138.1 966.8,137.6 967.3,137.7 967.8,137.7 968.3,137.9 968.9,138.0 969.4,138.1 969.9,137.9 970.4,138.2 971.0,138.0 971.5,138.1 972.0,138.3 972.5,138.2 973.0,138.1 973.6,138.3 974.1,138.6 974.6,138.4 975.1,138.5 975.7,138.5 976.2,138.6 976.7,138.5 977.2,138.8 977.8,138.7 978.3,138.6 978.8,138.7 979.3,138.8 979.8,138.8 980.4,138.8 980.9,138.8 981.4,138.9 981.9,139.3 982.5,139.3 983.0,139.2 983.5,139.2 984.0,139.4 984.6,139.5 985.1,139.3 985.6,139.5 986.1,139.6 986.6,139.6 987.2,139.6 987.7,139.5 988.2,139.5 988.7,139.7 989.3,139.8 989.8,139.6 990.3,139.9 990.8,139.8 991.4,139.9 991.9,140.0 992.4,139.7 992.9,139.9 993.4,139.8 994.0,139.9 994.5,140.1 995.0,140.4 995.5,140.1 996.1,140.1 996.6,140.5 997.1,140.4 997.6,140.2 998.2,140.3 998.7,140.3 999.2,140.6 999.7,140.4 1000.3,140.6 1000.8,140.5 1001.3,140.9 1001.8,140.7 1002.3,141.1 1002.9,140.9 1003.4,140.9 1003.9,140.9 1004.4,141.0 1005.0,141.0 1005.5,140.9 1006.0,141.0 1006.5,141.3 1007.1,141.0 1007.6,141.0 1008.1,141.2 1008.6,141.4 1009.1,141.1 1009.7,141.2 1010.2,141.6 1010.7,141.4 1011.2,141.5 1011.8,141.1 1012.3,141.5 1012.8,141.7 1013.3,141.5 1013.9,141.4 1014.4,141.9 1014.9,141.7 1015.4,141.8 1015.9,141.6 1016.5,141.7 1017.0,141.9 1017.5,141.8 1018.0,141.9 1018.6,142.2 1019.1,142.2 1019.6,141.9 1020.1,142.0 1020.7,141.8 1021.2,142.2 1021.7,142.1 1022.2,142.5 1022.7,142.1 1023.3,142.5 1023.8,142.5 1024.3,142.4 1024.8,142.6 1025.4,142.2 1025.9,142.7 1026.4,142.9 1026.9,142.8 1027.5,142.7 1028.0,143.0 1028.5,142.8 1029.0,142.8 1029.6,143.3 1030.1,143.0 1030.6,143.2 1031.1,143.3 1031.6,143.3 1032.2,143.4 1032.7,143.6 1033.2,143.6 1033.7,143.8 1034.3,143.6 1034.8,143.8 1035.3,143.9 1035.8,144.1 1036.4,144.2 1036.9,144.4 1037.4,144.6 1037.9,144.5 1038.4,144.9 1039.0,144.6 1039.5,144.8 1040.0,145.3 1040.5,145.0 1041.1,145.0 1041.6,145.2 1042.1,145.5 1042.6,145.6 1043.2,146.0 1043.7,145.8 1044.2,145.9 1044.7,146.0 1045.2,146.2 1045.8,146.3 1046.3,146.4 1046.8,146.8 1047.3,147.0 1047.9,147.0 1048.4,146.7 1048.9,146.9 1049.4,147.2 1050.0,147.6 1050.5,147.4 1051.0,147.8 1051.5,147.3 1052.0,147.8 1052.6,148.1 1053.1,148.3 1053.6,148.3 1054.1,148.5 1054.7,148.6 1055.2,148.7 1055.7,148.7 1056.2,148.7 1056.8,149.1 1057.3,149.0 1057.8,149.2 1058.3,149.6 1058.8,149.4 1059.4,149.5 1059.9,149.8 1060.4,149.8 1060.9,149.8 1061.5,150.0 1062.0,150.0 1062.5,150.0 1063.0,150.1 1063.6,150.2 1064.1,150.3 1064.6,150.6 1065.1,150.7 1065.7,150.8 1066.2,150.7 1066.7,150.7 1067.2,151.2 1067.7,151.0 1068.3,151.2 1068.8,151.4 1069.3,151.5 1069.8,151.7 1070.4,151.6 1070.9,151.9 1071.4,152.1 1071.9,152.1 1072.5,152.4 1073.0,152.3 1073.5,152.5 1074.0,152.5 1074.5,152.5 1075.1,152.7 1075.6,152.9 1076.1,153.1 1076.6,153.5 1077.2,153.3 1077.7,153.6 1078.2,153.4 1078.7,153.7 1079.3,153.5 1079.8,153.7 1080.3,154.1 1080.8,154.1 1081.3,154.2 1081.9,154.1 1082.4,154.3 1082.9,154.4 1083.4,154.7 1084.0,154.7 1084.5,154.9 1085.0,154.7 1085.5,154.9 1086.1,155.2 1086.6,155.2 1087.1,155.2 1087.6,155.0 1088.1,155.7 1088.7,155.7 1089.2,155.5 1089.7,155.8 1090.2,155.9 1090.8,155.9 1091.3,156.3 1091.8,156.2 1092.3,156.3 1092.9,156.6 1093.4,156.3 1093.9,156.8 1094.4,157.1 1095.0,156.9 1095.5,157.3 1096.0,157.2 1096.5,157.6 1097.0,157.3 1097.6,157.4 1098.1,157.7 1098.6,157.4 1099.1,157.7 1099.7,157.8 1100.2,157.8 1100.7,158.0 1101.2,158.0 1101.8,158.3 1102.3,158.5 1102.8,158.6 1103.3,158.5 1103.8,158.8 1104.4,158.7 1104.9,159.0 1105.4,159.2 1105.9,159.3 1106.5,159.2 1107.0,159.3 1107.5,159.7 1108.0,159.4 1108.6,159.8 1109.1,159.7 1109.6,160.0 1110.1,160.2 1110.6,160.1 1111.2,160.0 1111.7,160.0 1112.2,160.4 1112.7,160.6 1113.3,160.8 1113.8,160.8 1114.3,160.7 1114.8,161.0 1115.4,160.7 1115.9,161.2 1116.4,161.3 1116.9,161.0 1117.4,161.2 1118.0,161.5 1118.5,161.4 1119.0,161.7 1119.5,161.7 1120.1,161.9 1120.6,162.1 1121.1,161.9 1121.6,162.3 1122.2,162.1 1122.7,162.3 1123.2,162.4 1123.7,162.5 1124.2,162.7 1124.8,162.7 1125.3,162.6 1125.8,162.9 1126.3,163.2 1126.9,163.0 1127.4,163.3 1127.9,163.1 1128.4,163.5 1129.0,163.3 1129.5,163.8 1130.0,163.8 1130.5,164.1 1131.1,163.9 1131.6,164.1 1132.1,164.0 1132.6,164.1 1133.1,164.3 1133.7,164.4 1134.2,164.6 1134.7,164.6 1135.2,164.7 1135.8,164.7 1136.3,164.6 1136.8,164.8 1137.3,165.0 1137.9,165.0 1138.4,165.2 1138.9,165.3 1139.4,165.5 1139.9,165.7 1140.5,165.4 1141.0,165.8 1141.5,165.6 1142.0,165.8 1142.6,165.9 1143.1,166.2 1143.6,166.4 1144.1,166.3 1144.7,166.5 1145.2,166.5 1145.7,166.7 1146.2,166.7 1146.7,166.7 1147.3,166.8 1147.8,166.9 1148.3,166.5 1148.8,167.1 1149.4,167.1 1149.9,167.2 1150.4,167.4 1150.9,167.5 1151.5,167.4 1152.0,167.8 1152.5,167.7 1153.0,167.9 1153.5,167.9 1154.1,168.1 1154.6,168.2 1155.1,168.0 1155.6,168.3 1156.2,168.4 1156.7,168.6 1157.2,168.5 1157.7,168.7 1158.3,168.6 1158.8,169.0 1159.3,169.0 1159.8,169.1 1160.4,169.2 1160.9,169.3 1161.4,169.5 1161.9,169.5 1162.4,169.4 1163.0,169.6 1163.5,169.5 1164.0,169.9 1164.5,170.0 1165.1,169.7 1165.6,169.9 1166.1,170.1 1166.6,170.2 1167.2,170.6 1167.7,170.6 1168.2,170.8 1168.7,170.7 1169.2,170.5 1169.8,170.9 1170.3,171.1 1170.8,171.1 1171.3,170.9 1171.9,171.1 1172.4,171.3 1172.9,171.5 1173.4,171.6 1174.0,171.7 1174.5,171.7 1175.0,171.9" fill="none" stroke="#e6157f" stroke-width="2.2" stroke-linejoin="round" />
<polyline points="782.6,80.1 783.1,86.6 783.6,92.9 784.2,99.6 784.7,103.9 785.2,104.7 785.7,105.4 786.3,105.9 786.8,106.7 787.3,107.1 787.8,107.1 788.4,107.4 788.9,107.6 789.4,108.1 789.9,108.6 790.4,109.0 791.0,108.9 791.5,109.7 792.0,110.1 792.5,110.4 793.1,110.6 793.6,110.9 794.1,111.3 794.6,111.5 795.2,111.8 795.7,112.0 796.2,112.3 796.7,112.7 797.2,113.2 797.8,113.1 798.3,113.7 798.8,113.8 799.3,114.2 799.9,114.2 800.4,114.5 800.9,114.6 801.4,114.4 802.0,115.1 802.5,115.2 803.0,115.6 803.5,115.7 804.1,115.7 804.6,116.0 805.1,116.1 805.6,116.3 806.1,116.6 806.7,116.5 807.2,116.8 807.7,116.6 808.2,117.1 808.8,117.0 809.3,117.3 809.8,117.3 810.3,117.6 810.9,117.5 811.4,117.8 811.9,117.7 812.4,118.0 812.9,118.1 813.5,118.4 814.0,118.3 814.5,118.5 815.0,118.4 815.6,118.8 816.1,118.8 816.6,118.9 817.1,119.0 817.7,119.1 818.2,119.2 818.7,119.4 819.2,119.5 819.7,119.5 820.3,119.4 820.8,119.4 821.3,119.5 821.8,119.6 822.4,119.6 822.9,119.7 823.4,119.8 823.9,119.7 824.5,119.6 825.0,119.9 825.5,120.0 826.0,119.6 826.5,119.8 827.1,119.7 827.6,119.7 828.1,119.9 828.6,119.3 829.2,119.3 829.7,119.5 830.2,119.3 830.7,119.3 831.3,119.3 831.8,119.1 832.3,118.9 832.8,118.7 833.4,118.6 833.9,118.5 834.4,118.2 834.9,118.3 835.4,117.9 836.0,117.7 836.5,117.7 837.0,117.7 837.5,117.4 838.1,117.1 838.6,116.8 839.1,116.5 839.6,116.6 840.2,116.3 840.7,116.0 841.2,115.8 841.7,115.9 842.2,115.3 842.8,114.8 843.3,114.8 843.8,114.8 844.3,114.5 844.9,114.2 845.4,113.7 845.9,113.7 846.4,113.5 847.0,113.1 847.5,113.1 848.0,112.6 848.5,112.7 849.0,112.5 849.6,112.1 850.1,111.8 850.6,111.6 851.1,111.5 851.7,111.5 852.2,111.1 852.7,110.8 853.2,110.6 853.8,110.1 854.3,110.0 854.8,109.5 855.3,109.4 855.8,109.1 856.4,108.8 856.9,108.4 857.4,108.1 857.9,107.9 858.5,107.6 859.0,107.4 859.5,106.7 860.0,106.4 860.6,106.3 861.1,106.0 861.6,105.8 862.1,105.2 862.6,104.9 863.2,104.3 863.7,104.2 864.2,104.0 864.7,103.8 865.3,102.9 865.8,102.7 866.3,102.6 866.8,102.0 867.4,101.9 867.9,100.8 868.4,100.8 868.9,100.5 869.5,100.2 870.0,100.1 870.5,99.4 871.0,99.3 871.5,98.6 872.1,98.5 872.6,98.0 873.1,97.3 873.6,96.8 874.2,96.7 874.7,96.3 875.2,95.5 875.7,95.1 876.3,94.9 876.8,94.4 877.3,93.9 877.8,93.5 878.3,92.9 878.9,92.2 879.4,91.8 879.9,91.1 880.4,90.9 881.0,90.4 881.5,90.0 882.0,89.4 882.5,89.0 883.1,88.6 883.6,87.8 884.1,87.2 884.6,86.7 885.1,86.2 885.7,85.8 886.2,85.5 886.7,84.9 887.2,84.4 887.8,84.0 888.3,83.6 888.8,83.1 889.3,82.5 889.9,82.0 890.4,81.6 890.9,80.9 891.4,80.6 891.9,80.1 892.5,79.6 893.0,79.4 893.5,79.1 894.0,78.3 894.6,78.1 895.1,77.3 895.6,77.0 896.1,76.5 896.7,76.0 897.2,76.0 897.7,75.1 898.2,74.9 898.8,74.4 899.3,74.0 899.8,73.4 900.3,72.9 900.8,72.5 901.4,72.4 901.9,71.9 902.4,71.7 902.9,71.0 903.5,70.5 904.0,70.4 904.5,69.9 905.0,69.5 905.6,69.1 906.1,69.1 906.6,68.8 907.1,68.5 907.6,67.9 908.2,67.7 908.7,67.6 909.2,67.3 909.7,67.1 910.3,66.8 910.8,66.7 911.3,66.5 911.8,66.4 912.4,66.2 912.9,65.7 913.4,65.8 913.9,65.9 914.4,65.9 915.0,65.9 915.5,65.8 916.0,66.0 916.5,65.9 917.1,65.9 917.6,66.0 918.1,66.0 918.6,66.0 919.2,66.1 919.7,65.8 920.2,66.3 920.7,66.0 921.2,66.0 921.8,66.1 922.3,66.0 922.8,65.9 923.3,66.0 923.9,66.1 924.4,66.1 924.9,66.1 925.4,66.0 926.0,66.2 926.5,66.3 927.0,66.3 927.5,66.3 928.0,66.4 928.6,66.0 929.1,66.2 929.6,66.3 930.1,66.1 930.7,66.4 931.2,66.2 931.7,66.2 932.2,66.5 932.8,66.6 933.3,66.5 933.8,66.3 934.3,66.2 934.9,66.6 935.4,66.3 935.9,66.5 936.4,66.5 936.9,66.6 937.5,66.5 938.0,66.8 938.5,66.7 939.0,66.7 939.6,66.5 940.1,66.3 940.6,66.2 941.1,66.6 941.7,66.8 942.2,66.7 942.7,66.8 943.2,66.4 943.7,66.6 944.3,66.8 944.8,66.5 945.3,66.6 945.8,66.9 946.4,66.8 946.9,66.8 947.4,66.7 947.9,66.7 948.5,66.8 949.0,66.7 949.5,66.9 950.0,66.9 950.5,66.6 951.1,66.8 951.6,66.8 952.1,67.1 952.6,66.9 953.2,66.7 953.7,67.1 954.2,66.7 954.7,66.9 955.3,66.9 955.8,66.9 956.3,66.9 956.8,66.8 957.3,67.0 957.9,66.7 958.4,67.1 958.9,67.1 959.4,66.9 960.0,67.2 960.5,67.1 961.0,66.9 961.5,66.9 962.1,67.3 962.6,67.0 963.1,66.8 963.6,66.9 964.2,67.1 964.7,67.2 965.2,67.2 965.7,67.3 966.2,67.2 966.8,67.2 967.3,67.2 967.8,67.0 968.3,67.2 968.9,67.4 969.4,67.1 969.9,67.4 970.4,67.3 971.0,67.3 971.5,67.3 972.0,67.4 972.5,67.3 973.0,67.0 973.6,67.4 974.1,67.3 974.6,67.1 975.1,67.2 975.7,67.2 976.2,67.2 976.7,67.6 977.2,67.5 977.8,67.3 978.3,67.3 978.8,67.2 979.3,67.3 979.8,67.4 980.4,67.4 980.9,67.5 981.4,67.4 981.9,67.3 982.5,67.5 983.0,67.6 983.5,67.6 984.0,67.3 984.6,67.3 985.1,67.4 985.6,67.4 986.1,67.4 986.6,67.5 987.2,67.4 987.7,67.7 988.2,67.6 988.7,67.7 989.3,67.5 989.8,67.7 990.3,67.6 990.8,67.5 991.4,67.4 991.9,67.7 992.4,67.7 992.9,67.5 993.4,67.8 994.0,67.6 994.5,67.7 995.0,67.7 995.5,67.9 996.1,67.6 996.6,67.7 997.1,67.8 997.6,67.4 998.2,67.6 998.7,67.2 999.2,67.6 999.7,67.8 1000.3,67.7 1000.8,67.5 1001.3,67.7 1001.8,67.7 1002.3,67.7 1002.9,67.9 1003.4,67.7 1003.9,67.8 1004.4,67.9 1005.0,67.6 1005.5,67.7 1006.0,67.8 1006.5,67.9 1007.1,68.1 1007.6,67.7 1008.1,67.8 1008.6,68.1 1009.1,67.8 1009.7,68.1 1010.2,67.9 1010.7,67.9 1011.2,67.8 1011.8,67.9 1012.3,67.9 1012.8,68.1 1013.3,68.0 1013.9,68.0 1014.4,68.0 1014.9,68.0 1015.4,68.0 1015.9,67.9 1016.5,68.5 1017.0,68.1 1017.5,68.3 1018.0,68.0 1018.6,68.2 1019.1,68.6 1019.6,68.4 1020.1,68.6 1020.7,68.5 1021.2,68.8 1021.7,68.8 1022.2,68.8 1022.7,68.9 1023.3,69.1 1023.8,69.3 1024.3,69.1 1024.8,69.1 1025.4,69.3 1025.9,69.5 1026.4,69.4 1026.9,69.4 1027.5,69.6 1028.0,69.6 1028.5,69.5 1029.0,69.9 1029.6,69.9 1030.1,70.2 1030.6,70.1 1031.1,70.2 1031.6,70.3 1032.2,70.4 1032.7,70.1 1033.2,70.4 1033.7,70.5 1034.3,70.3 1034.8,70.7 1035.3,71.0 1035.8,70.8 1036.4,71.1 1036.9,70.8 1037.4,71.3 1037.9,71.3 1038.4,71.5 1039.0,71.4 1039.5,71.6 1040.0,71.6 1040.5,71.7 1041.1,71.9 1041.6,71.7 1042.1,71.8 1042.6,72.1 1043.2,72.3 1043.7,72.4 1044.2,72.3 1044.7,72.1 1045.2,72.6 1045.8,72.8 1046.3,72.9 1046.8,73.0 1047.3,73.1 1047.9,73.1 1048.4,73.0 1048.9,73.3 1049.4,73.5 1050.0,73.7 1050.5,73.6 1051.0,73.7 1051.5,74.0 1052.0,74.1 1052.6,74.0 1053.1,74.0 1053.6,74.1 1054.1,74.3 1054.7,74.5 1055.2,74.5 1055.7,74.6 1056.2,74.4 1056.8,75.0 1057.3,75.0 1057.8,74.9 1058.3,75.2 1058.8,75.1 1059.4,75.4 1059.9,75.4 1060.4,75.6 1060.9,75.8 1061.5,75.9 1062.0,75.6 1062.5,75.9 1063.0,76.0 1063.6,76.0 1064.1,76.2 1064.6,76.2 1065.1,76.5 1065.7,76.6 1066.2,76.5 1066.7,76.8 1067.2,77.0 1067.7,76.9 1068.3,77.1 1068.8,77.0 1069.3,77.3 1069.8,77.4 1070.4,77.4 1070.9,77.3 1071.4,77.6 1071.9,77.6 1072.5,77.8 1073.0,77.8 1073.5,77.8 1074.0,77.9 1074.5,78.4 1075.1,78.1 1075.6,78.3 1076.1,78.5 1076.6,78.2 1077.2,78.6 1077.7,78.5 1078.2,78.7 1078.7,79.1 1079.3,78.9 1079.8,79.0 1080.3,79.2 1080.8,79.6 1081.3,79.4 1081.9,79.5 1082.4,79.7 1082.9,79.4 1083.4,79.8 1084.0,79.9 1084.5,80.0 1085.0,80.2 1085.5,80.3 1086.1,80.2 1086.6,80.3 1087.1,80.5 1087.6,80.5 1088.1,80.8 1088.7,80.6 1089.2,80.9 1089.7,80.9 1090.2,81.1 1090.8,81.2 1091.3,81.2 1091.8,81.4 1092.3,81.0 1092.9,81.5 1093.4,81.6 1093.9,81.7 1094.4,81.5 1095.0,81.6 1095.5,81.9 1096.0,82.2 1096.5,82.2 1097.0,82.1 1097.6,82.3 1098.1,82.5 1098.6,82.6 1099.1,82.6 1099.7,82.6 1100.2,82.8 1100.7,82.8 1101.2,82.5 1101.8,82.7 1102.3,83.2 1102.8,83.1 1103.3,83.2 1103.8,83.3 1104.4,83.3 1104.9,83.5 1105.4,83.6 1105.9,83.7 1106.5,83.7 1107.0,83.6 1107.5,83.8 1108.0,84.2 1108.6,84.1 1109.1,84.2 1109.6,84.1 1110.1,84.3 1110.6,84.2 1111.2,84.4 1111.7,84.8 1112.2,84.5 1112.7,84.6 1113.3,84.7 1113.8,85.0 1114.3,84.9 1114.8,85.1 1115.4,85.1 1115.9,85.1 1116.4,85.1 1116.9,85.4 1117.4,85.6 1118.0,85.7 1118.5,85.5 1119.0,85.4 1119.5,85.6 1120.1,86.0 1120.6,85.9 1121.1,85.8 1121.6,85.7 1122.2,85.8 1122.7,86.0 1123.2,86.1 1123.7,86.3 1124.2,86.3 1124.8,86.3 1125.3,86.5 1125.8,86.4 1126.3,86.5 1126.9,86.5 1127.4,86.4 1127.9,86.6 1128.4,86.7 1129.0,86.9 1129.5,87.1 1130.0,87.0 1130.5,86.9 1131.1,87.2 1131.6,87.0 1132.1,87.3 1132.6,87.2 1133.1,87.4 1133.7,87.6 1134.2,87.2 1134.7,87.7 1135.2,87.5 1135.8,87.7 1136.3,87.7 1136.8,87.9 1137.3,87.9 1137.9,87.8 1138.4,87.7 1138.9,88.1 1139.4,88.1 1139.9,88.0 1140.5,88.3 1141.0,88.2 1141.5,88.5 1142.0,88.3 1142.6,88.4 1143.1,88.4 1143.6,88.5 1144.1,88.8 1144.7,88.6 1145.2,88.9 1145.7,88.7 1146.2,88.7 1146.7,88.9 1147.3,89.1 1147.8,88.9 1148.3,89.1 1148.8,89.4 1149.4,89.3 1149.9,89.1 1150.4,89.4 1150.9,89.5 1151.5,89.6 1152.0,89.8 1152.5,89.7 1153.0,89.7 1153.5,89.8 1154.1,89.9 1154.6,90.2 1155.1,89.8 1155.6,89.9 1156.2,90.0 1156.7,90.0 1157.2,90.3 1157.7,90.4 1158.3,90.3 1158.8,90.2 1159.3,90.7 1159.8,90.6 1160.4,90.7 1160.9,90.6 1161.4,90.5 1161.9,90.8 1162.4,91.0 1163.0,90.9 1163.5,91.0 1164.0,91.3 1164.5,91.0 1165.1,91.2 1165.6,91.1 1166.1,91.5 1166.6,91.2 1167.2,91.6 1167.7,91.3 1168.2,91.8 1168.7,91.4 1169.2,91.7 1169.8,91.9 1170.3,91.8 1170.8,91.8 1171.3,92.1 1171.9,92.0 1172.4,92.0 1172.9,92.1 1173.4,92.6 1174.0,92.3 1174.5,92.2 1175.0,92.3" fill="none" stroke="#7b1620" stroke-width="2.2" stroke-linejoin="round" />
<text transform="translate(828.6,90.5) scale(1,1.08)" font-size="11.6" fill="#8e1c26" text-anchor="start" font-weight="normal" stroke="#8e1c26" stroke-width="0.5">I diffuse</text>
<line x1="866" y1="99" x2="840" y2="99" stroke="#7b1620" stroke-width="2.2" />
<polygon points="831,99 842,95 842,103" fill="#7b1620"/>
<text transform="translate(833.7,142.5) scale(1,1.08)" font-size="11.6" fill="#9a9a9a" text-anchor="start" font-weight="normal" stroke="#9a9a9a" stroke-width="0.5">Ag diffuse</text>
<line x1="847" y1="152" x2="868" y2="152" stroke="#8a8a8a" stroke-width="2.2" />
<polygon points="878,152 867,148 867,156" fill="#8a8a8a"/>
<text transform="translate(795.9,189.8) scale(1,1.08)" font-size="11.1" fill="#e31a7e" text-anchor="start" font-weight="bold" >AgI generation</text>
<line x1="1184.5" y1="51.8" x2="1213" y2="51.8" stroke="#6e6e6e" stroke-width="1.8" />
<text transform="translate(1217.3,56.8) scale(1,1.08)" font-size="12.5" fill="#2a2a2a">Ag<tspan font-size="8" dy="-6">-</tspan></text>
<line x1="1184.5" y1="71.4" x2="1213" y2="71.4" stroke="#2f8ee0" stroke-width="1.3" stroke-dasharray="5,4"/>
<text transform="translate(1217.3,76.4) scale(1,1.08)" font-size="12.5" fill="#2a2a2a">C<tspan font-size="8" dy="-6">-</tspan><tspan font-size="8" dx="-4" dy="11">60</tspan></text>
<line x1="1184.5" y1="93.5" x2="1213" y2="93.5" stroke="#f2a24e" stroke-width="1.3" stroke-dasharray="5,4"/>
<text transform="translate(1217.3,98.5) scale(1,1.08)" font-size="12.5" fill="#2a2a2a">PbI<tspan font-size="8" dy="-6">-</tspan><tspan font-size="8" dx="-4" dy="11">2</tspan></text>
<line x1="1184.5" y1="116" x2="1213" y2="116" stroke="#7b1620" stroke-width="2.2" />
<text transform="translate(1217.3,121.0) scale(1,1.08)" font-size="12.5" fill="#2a2a2a">I<tspan font-size="8" dy="-6">-</tspan></text>
<line x1="1184.5" y1="135" x2="1213" y2="135" stroke="#2a9a93" stroke-width="1.3" stroke-dasharray="5,4"/>
<text transform="translate(1217.3,140.0) scale(1,1.08)" font-size="12.5" fill="#2a2a2a">PO<tspan font-size="8" dy="-6">-</tspan><tspan font-size="8" dx="-4" dy="11">2</tspan></text>
<line x1="1184.5" y1="157.5" x2="1213" y2="157.5" stroke="#2c2c7e" stroke-width="1.3" stroke-dasharray="5,4"/>
<text transform="translate(1217.3,162.5) scale(1,1.08)" font-size="12.5" fill="#2a2a2a">InO<tspan font-size="8" dy="-6">-</tspan><tspan font-size="8" dx="-4" dy="11">2</tspan></text>
<line x1="1184.5" y1="180" x2="1213" y2="180" stroke="#e6157f" stroke-width="2.2" />
<text transform="translate(1217.3,185.0) scale(1,1.08)" font-size="12.5" fill="#2a2a2a">AgI<tspan font-size="8" dy="-6">-</tspan><tspan font-size="8" dx="-4" dy="11">2</tspan></text>
<text x="978.7" y="346.1" font-size="20.45" fill="#222" text-anchor="middle" font-weight="normal" >Sputter time (s)</text>
<text x="742.3" y="182.6" font-size="20.25" fill="#222" text-anchor="middle" font-weight="normal" transform="rotate(-90 742.3 182.6)">Intensity (counts)</text>
<text x="729.5" y="27.5" font-size="30" fill="#000" text-anchor="start" font-weight="bold" >d</text>
<rect x="783.2" y="377.3" width="34.8" height="31" fill="#c0c0c0"/>
<rect x="818" y="377.3" width="84.8" height="31" fill="#8586c9"/>
<rect x="902.8" y="377.3" width="96.7" height="31" fill="#ff8412"/>
<rect x="999.5" y="377.3" width="28.8" height="31" fill="#168a80"/>
<rect x="1028.3" y="377.3" width="146.9" height="31" fill="#0a79c1"/>
<rect x="783.2" y="377.3" width="392" height="31" fill="none" stroke="#555" stroke-width="0.8"/>
<text x="800.6" y="396.8" font-size="11.6" fill="#000" fill-opacity="0.7" text-anchor="middle" stroke="#000" stroke-opacity="0.45" stroke-width="0.45">Ag</text>
<text x="860.4" y="396.8" font-size="11.6" fill="#000" fill-opacity="0.7" text-anchor="middle" stroke="#000" stroke-opacity="0.45" stroke-width="0.45">C<tspan font-size="8" dy="3">60</tspan><tspan dy="-3">/Interface</tspan></text>
<text x="951.1" y="396.8" font-size="11.6" fill="#000" fill-opacity="0.7" text-anchor="middle" stroke="#000" stroke-opacity="0.45" stroke-width="0.45">Perovskite</text>
<text x="1013.9" y="396.8" font-size="11.6" fill="#000" fill-opacity="0.7" text-anchor="middle" stroke="#000" stroke-opacity="0.45" stroke-width="0.45">SAM</text>
<text x="1101.8" y="396.8" font-size="11.6" fill="#000" fill-opacity="0.7" text-anchor="middle" stroke="#000" stroke-opacity="0.45" stroke-width="0.45">ITO substrate</text>
<line x1="818" y1="408.3" x2="818" y2="672" stroke="#888" stroke-width="0.8" stroke-dasharray="1.2,1.6"/>
<line x1="902.8" y1="408.3" x2="902.8" y2="672" stroke="#888" stroke-width="0.8" stroke-dasharray="1.2,1.6"/>
<line x1="999.5" y1="408.3" x2="999.5" y2="672" stroke="#888" stroke-width="0.8" stroke-dasharray="1.2,1.6"/>
<line x1="1028.3" y1="408.3" x2="1028.3" y2="672" stroke="#888" stroke-width="0.8" stroke-dasharray="1.2,1.6"/>
<line x1="783.2" y1="408.3" x2="1175.2" y2="408.3" stroke="#222" stroke-width="2" />
<line x1="783.2" y1="408.3" x2="783.2" y2="672" stroke="#444" stroke-width="1.7" />
<line x1="783.2" y1="672" x2="1175.2" y2="672" stroke="#444" stroke-width="1.7" />
<line x1="1175.2" y1="377.6" x2="1175.2" y2="675" stroke="#444" stroke-width="1.5" />
<rect x="1175.2" y="377.6" width="74.2" height="294.4" fill="none" stroke="#444" stroke-width="1.2"/>
<line x1="778.2" y1="648.6" x2="783.2" y2="648.6" stroke="#444" stroke-width="1.5" />
<text x="769.2" y="653.1" font-size="13" fill="#444" text-anchor="end">10</text>
<text x="769.4" y="646.6" font-size="7.5" fill="#555">0</text>
<line x1="778.2" y1="614.3" x2="783.2" y2="614.3" stroke="#444" stroke-width="1.5" />
<text x="769.2" y="618.8" font-size="13" fill="#444" text-anchor="end">10</text>
<text x="769.4" y="612.3" font-size="7.5" fill="#555">1</text>
<line x1="778.2" y1="580" x2="783.2" y2="580" stroke="#444" stroke-width="1.5" />
<text x="769.2" y="584.5" font-size="13" fill="#444" text-anchor="end">10</text>
<text x="769.4" y="578" font-size="7.5" fill="#555">2</text>
<line x1="778.2" y1="545.6" x2="783.2" y2="545.6" stroke="#444" stroke-width="1.5" />
<text x="769.2" y="550.1" font-size="13" fill="#444" text-anchor="end">10</text>
<text x="769.4" y="543.6" font-size="7.5" fill="#555">3</text>
<line x1="778.2" y1="511.3" x2="783.2" y2="511.3" stroke="#444" stroke-width="1.5" />
<text x="769.2" y="515.8" font-size="13" fill="#444" text-anchor="end">10</text>
<text x="769.4" y="509.3" font-size="7.5" fill="#555">4</text>
<line x1="778.2" y1="477" x2="783.2" y2="477" stroke="#444" stroke-width="1.5" />
<text x="769.2" y="481.5" font-size="13" fill="#444" text-anchor="end">10</text>
<text x="769.4" y="475" font-size="7.5" fill="#555">5</text>
<line x1="778.2" y1="442.6" x2="783.2" y2="442.6" stroke="#444" stroke-width="1.5" />
<text x="769.2" y="447.1" font-size="13" fill="#444" text-anchor="end">10</text>
<text x="769.4" y="440.6" font-size="7.5" fill="#555">6</text>
<line x1="778.2" y1="408.3" x2="783.2" y2="408.3" stroke="#444" stroke-width="1.5" />
<text x="769.2" y="412.8" font-size="13" fill="#444" text-anchor="end">10</text>
<text x="769.4" y="406.3" font-size="7.5" fill="#555">7</text>
<line x1="780.2" y1="666.6" x2="783.2" y2="666.6" stroke="#444" stroke-width="1.0" />
<line x1="780.2" y1="662.3" x2="783.2" y2="662.3" stroke="#444" stroke-width="1.0" />
<line x1="780.2" y1="658.9" x2="783.2" y2="658.9" stroke="#444" stroke-width="1.0" />
<line x1="780.2" y1="656.2" x2="783.2" y2="656.2" stroke="#444" stroke-width="1.0" />
<line x1="780.2" y1="653.9" x2="783.2" y2="653.9" stroke="#444" stroke-width="1.0" />
<line x1="780.2" y1="651.9" x2="783.2" y2="651.9" stroke="#444" stroke-width="1.0" />
<line x1="780.2" y1="650.2" x2="783.2" y2="650.2" stroke="#444" stroke-width="1.0" />
<line x1="780.2" y1="638.3" x2="783.2" y2="638.3" stroke="#444" stroke-width="1.0" />
<line x1="780.2" y1="632.2" x2="783.2" y2="632.2" stroke="#444" stroke-width="1.0" />
<line x1="780.2" y1="627.9" x2="783.2" y2="627.9" stroke="#444" stroke-width="1.0" />
<line x1="780.2" y1="624.6" x2="783.2" y2="624.6" stroke="#444" stroke-width="1.0" />
<line x1="780.2" y1="621.9" x2="783.2" y2="621.9" stroke="#444" stroke-width="1.0" />
<line x1="780.2" y1="619.6" x2="783.2" y2="619.6" stroke="#444" stroke-width="1.0" />
<line x1="780.2" y1="617.6" x2="783.2" y2="617.6" stroke="#444" stroke-width="1.0" />
<line x1="780.2" y1="615.9" x2="783.2" y2="615.9" stroke="#444" stroke-width="1.0" />
<line x1="780.2" y1="603.9" x2="783.2" y2="603.9" stroke="#444" stroke-width="1.0" />
<line x1="780.2" y1="597.9" x2="783.2" y2="597.9" stroke="#444" stroke-width="1.0" />
<line x1="780.2" y1="593.6" x2="783.2" y2="593.6" stroke="#444" stroke-width="1.0" />
<line x1="780.2" y1="590.3" x2="783.2" y2="590.3" stroke="#444" stroke-width="1.0" />
<line x1="780.2" y1="587.6" x2="783.2" y2="587.6" stroke="#444" stroke-width="1.0" />
<line x1="780.2" y1="585.3" x2="783.2" y2="585.3" stroke="#444" stroke-width="1.0" />
<line x1="780.2" y1="583.3" x2="783.2" y2="583.3" stroke="#444" stroke-width="1.0" />
<line x1="780.2" y1="581.5" x2="783.2" y2="581.5" stroke="#444" stroke-width="1.0" />
<line x1="780.2" y1="569.6" x2="783.2" y2="569.6" stroke="#444" stroke-width="1.0" />
<line x1="780.2" y1="563.6" x2="783.2" y2="563.6" stroke="#444" stroke-width="1.0" />
<line x1="780.2" y1="559.3" x2="783.2" y2="559.3" stroke="#444" stroke-width="1.0" />
<line x1="780.2" y1="556" x2="783.2" y2="556" stroke="#444" stroke-width="1.0" />
<line x1="780.2" y1="553.2" x2="783.2" y2="553.2" stroke="#444" stroke-width="1.0" />
<line x1="780.2" y1="550.9" x2="783.2" y2="550.9" stroke="#444" stroke-width="1.0" />
<line x1="780.2" y1="548.9" x2="783.2" y2="548.9" stroke="#444" stroke-width="1.0" />
<line x1="780.2" y1="547.2" x2="783.2" y2="547.2" stroke="#444" stroke-width="1.0" />
<line x1="780.2" y1="535.3" x2="783.2" y2="535.3" stroke="#444" stroke-width="1.0" />
<line x1="780.2" y1="529.2" x2="783.2" y2="529.2" stroke="#444" stroke-width="1.0" />
<line x1="780.2" y1="525" x2="783.2" y2="525" stroke="#444" stroke-width="1.0" />
<line x1="780.2" y1="521.6" x2="783.2" y2="521.6" stroke="#444" stroke-width="1.0" />
<line x1="780.2" y1="518.9" x2="783.2" y2="518.9" stroke="#444" stroke-width="1.0" />
<line x1="780.2" y1="516.6" x2="783.2" y2="516.6" stroke="#444" stroke-width="1.0" />
<line x1="780.2" y1="514.6" x2="783.2" y2="514.6" stroke="#444" stroke-width="1.0" />
<line x1="780.2" y1="512.9" x2="783.2" y2="512.9" stroke="#444" stroke-width="1.0" />
<line x1="780.2" y1="501" x2="783.2" y2="501" stroke="#444" stroke-width="1.0" />
<line x1="780.2" y1="494.9" x2="783.2" y2="494.9" stroke="#444" stroke-width="1.0" />
<line x1="780.2" y1="490.6" x2="783.2" y2="490.6" stroke="#444" stroke-width="1.0" />
<line x1="780.2" y1="487.3" x2="783.2" y2="487.3" stroke="#444" stroke-width="1.0" />
<line x1="780.2" y1="484.6" x2="783.2" y2="484.6" stroke="#444" stroke-width="1.0" />
<line x1="780.2" y1="482.3" x2="783.2" y2="482.3" stroke="#444" stroke-width="1.0" />
<line x1="780.2" y1="480.3" x2="783.2" y2="480.3" stroke="#444" stroke-width="1.0" />
<line x1="780.2" y1="478.5" x2="783.2" y2="478.5" stroke="#444" stroke-width="1.0" />
<line x1="780.2" y1="466.6" x2="783.2" y2="466.6" stroke="#444" stroke-width="1.0" />
<line x1="780.2" y1="460.6" x2="783.2" y2="460.6" stroke="#444" stroke-width="1.0" />
<line x1="780.2" y1="456.3" x2="783.2" y2="456.3" stroke="#444" stroke-width="1.0" />
<line x1="780.2" y1="453" x2="783.2" y2="453" stroke="#444" stroke-width="1.0" />
<line x1="780.2" y1="450.2" x2="783.2" y2="450.2" stroke="#444" stroke-width="1.0" />
<line x1="780.2" y1="447.9" x2="783.2" y2="447.9" stroke="#444" stroke-width="1.0" />
<line x1="780.2" y1="446" x2="783.2" y2="446" stroke="#444" stroke-width="1.0" />
<line x1="780.2" y1="444.2" x2="783.2" y2="444.2" stroke="#444" stroke-width="1.0" />
<line x1="780.2" y1="432.3" x2="783.2" y2="432.3" stroke="#444" stroke-width="1.0" />
<line x1="780.2" y1="426.3" x2="783.2" y2="426.3" stroke="#444" stroke-width="1.0" />
<line x1="780.2" y1="422" x2="783.2" y2="422" stroke="#444" stroke-width="1.0" />
<line x1="780.2" y1="418.6" x2="783.2" y2="418.6" stroke="#444" stroke-width="1.0" />
<line x1="780.2" y1="415.9" x2="783.2" y2="415.9" stroke="#444" stroke-width="1.0" />
<line x1="780.2" y1="413.6" x2="783.2" y2="413.6" stroke="#444" stroke-width="1.0" />
<line x1="780.2" y1="411.6" x2="783.2" y2="411.6" stroke="#444" stroke-width="1.0" />
<line x1="780.2" y1="409.9" x2="783.2" y2="409.9" stroke="#444" stroke-width="1.0" />
<line x1="783.2" y1="672" x2="783.2" y2="678" stroke="#444" stroke-width="1.5" />
<text x="783.2" y="691" font-size="13" fill="#3a3a3a" text-anchor="middle" font-weight="normal" >0</text>
<line x1="861.6" y1="672" x2="861.6" y2="678" stroke="#444" stroke-width="1.5" />
<text x="861.6" y="691" font-size="13" fill="#3a3a3a" text-anchor="middle" font-weight="normal" >300</text>
<line x1="940" y1="672" x2="940" y2="678" stroke="#444" stroke-width="1.5" />
<text x="940" y="691" font-size="13" fill="#3a3a3a" text-anchor="middle" font-weight="normal" >600</text>
<line x1="1018.4" y1="672" x2="1018.4" y2="678" stroke="#444" stroke-width="1.5" />
<text x="1018.4" y="691" font-size="13" fill="#3a3a3a" text-anchor="middle" font-weight="normal" >900</text>
<line x1="1096.8" y1="672" x2="1096.8" y2="678" stroke="#444" stroke-width="1.5" />
<text x="1096.8" y="691" font-size="13" fill="#3a3a3a" text-anchor="middle" font-weight="normal" >1200</text>
<line x1="1175.2" y1="672" x2="1175.2" y2="678" stroke="#444" stroke-width="1.5" />
<text x="1175.2" y="691" font-size="13" fill="#3a3a3a" text-anchor="middle" font-weight="normal" >1500</text>
<line x1="822.4" y1="672" x2="822.4" y2="675" stroke="#444" stroke-width="1.5" />
<line x1="900.8" y1="672" x2="900.8" y2="675" stroke="#444" stroke-width="1.5" />
<line x1="979.2" y1="672" x2="979.2" y2="675" stroke="#444" stroke-width="1.5" />
<line x1="1057.6" y1="672" x2="1057.6" y2="675" stroke="#444" stroke-width="1.5" />
<line x1="1136" y1="672" x2="1136" y2="675" stroke="#444" stroke-width="1.5" />
<polyline points="783.2,661.3 784.4,662.8 785.6,661.7 786.7,663.4 787.9,645.8 789.1,672.0 790.3,665.7 791.4,670.0 792.6,656.1 793.8,672.0 795.0,658.1 796.1,669.3 797.3,668.1 798.5,664.4 799.7,672.0 800.8,672.0 802.0,650.9 803.2,672.0 804.4,661.5 805.5,664.5 806.7,668.6 807.9,672.0 809.1,661.4 810.2,665.3 811.4,672.0 812.6,658.7 813.8,660.8 815.0,649.0 816.1,639.3 817.3,624.5 818.5,611.8 819.7,604.5 820.8,578.3 822.0,588.4 823.2,583.8 824.4,576.9 825.5,581.3 826.7,592.4 827.9,589.0 829.1,598.9 830.2,599.2 831.4,605.1 832.6,615.2 833.8,614.7 834.9,616.3 836.1,635.9 837.3,623.7 838.5,627.2 839.6,626.4 840.8,634.5 842.0,622.8 843.2,663.4 844.4,634.4 845.5,626.4 846.7,633.2 847.9,614.6 849.1,638.4 850.2,642.8 851.4,640.5 852.6,645.9 853.8,634.0 854.9,650.9 856.1,649.0 857.3,647.5 858.5,640.6 859.6,643.2 860.8,662.8 862.0,647.5 863.2,638.0 864.3,650.7 865.5,646.7 866.7,661.5 867.9,653.9 869.0,661.5 870.2,659.2 871.4,657.1 872.6,651.5 873.8,649.4 874.9,645.6 876.1,672.0 877.3,661.2 878.5,657.9 879.6,648.1 880.8,657.5 882.0,655.8 883.2,658.7 884.3,662.0 885.5,672.0 886.7,665.2 887.9,661.8 889.0,670.6 890.2,657.7 891.4,664.3 892.6,655.6 893.7,656.5 894.9,641.6 896.1,623.8 897.3,646.3 898.4,628.9 899.6,631.5 900.8,641.0 902.0,648.0 903.2,620.7 904.3,626.6 905.5,637.7 906.7,620.4 907.9,628.2 909.0,632.9 910.2,647.3 911.4,626.9 912.6,628.5 913.7,625.3 914.9,636.1 916.1,639.6 917.3,626.1 918.4,637.0 919.6,628.7 920.8,633.9 922.0,633.3 923.1,623.6 924.3,635.6 925.5,637.5 926.7,623.5 927.8,634.2 929.0,642.7 930.2,630.4 931.4,644.3 932.6,633.3 933.7,627.4 934.9,644.4 936.1,629.3 937.3,637.0 938.4,633.1 939.6,632.9 940.8,638.2 942.0,639.0 943.1,637.1 944.3,632.0 945.5,635.2 946.7,632.7 947.8,633.0 949.0,630.4 950.2,645.4 951.4,640.8 952.5,640.0 953.7,647.2 954.9,637.4 956.1,642.8 957.2,647.2 958.4,639.3 959.6,644.6 960.8,630.5 962.0,624.8 963.1,637.6 964.3,643.0 965.5,643.7 966.7,641.5 967.8,636.9 969.0,645.5 970.2,632.3 971.4,636.2 972.5,632.4 973.7,634.2 974.9,633.4 976.1,636.2 977.2,638.8 978.4,648.8 979.6,644.5 980.8,641.7 981.9,645.7 983.1,641.9 984.3,657.4 985.5,632.5 986.6,646.5 987.8,637.0 989.0,642.5 990.2,641.4 991.4,623.7 992.5,634.1 993.7,634.9 994.9,638.0 996.1,630.9 997.2,644.8 998.4,645.4 999.6,643.8 1000.8,648.1 1001.9,630.9 1003.1,625.0 1004.3,641.3 1005.5,635.0 1006.6,641.7 1007.8,636.8 1009.0,631.8 1010.2,630.9 1011.3,624.2 1012.5,638.4 1013.7,640.4 1014.9,634.7 1016.0,648.6 1017.2,642.4 1018.4,643.3 1019.6,646.2 1020.8,641.7 1021.9,646.4 1023.1,646.1 1024.3,653.0 1025.5,644.7 1026.6,628.4 1027.8,618.2 1029.0,632.7 1030.2,646.3 1031.3,643.6 1032.5,672.0 1033.7,640.0 1034.9,645.1 1036.0,649.0 1037.2,651.2 1038.4,644.4 1039.6,653.5 1040.7,643.1 1041.9,656.6 1043.1,652.4 1044.3,647.0 1045.4,639.6 1046.6,649.2 1047.8,648.5 1049.0,651.2 1050.2,639.1 1051.3,651.0 1052.5,646.2 1053.7,652.0 1054.9,637.8 1056.0,672.0 1057.2,649.1 1058.4,645.0 1059.6,646.9 1060.7,635.2 1061.9,672.0 1063.1,645.6 1064.3,661.1 1065.4,655.6 1066.6,654.6 1067.8,643.5 1069.0,647.5 1070.1,642.1 1071.3,647.6 1072.5,636.0 1073.7,656.2 1074.8,645.7 1076.0,631.3 1077.2,638.2 1078.4,649.6 1079.6,647.0 1080.7,667.7 1081.9,655.0 1083.1,647.9 1084.3,635.9 1085.4,639.8 1086.6,643.1 1087.8,635.5 1089.0,637.6 1090.1,643.4 1091.3,647.9 1092.5,637.6 1093.7,641.3 1094.8,649.5 1096.0,634.1 1097.2,642.5 1098.4,659.4 1099.5,635.0 1100.7,639.2 1101.9,643.4 1103.1,649.6 1104.2,643.1 1105.4,643.8 1106.6,643.9 1107.8,646.8 1109.0,654.4 1110.1,655.8 1111.3,644.3 1112.5,650.6 1113.7,652.2 1114.8,653.3 1116.0,646.5 1117.2,655.2 1118.4,645.0 1119.5,652.8 1120.7,654.9 1121.9,658.4 1123.1,641.6 1124.2,642.9 1125.4,653.3 1126.6,655.2 1127.8,656.2 1128.9,644.2 1130.1,652.8 1131.3,646.8 1132.5,658.5 1133.6,653.3 1134.8,653.0 1136.0,639.0 1137.2,640.8 1138.4,663.3 1139.5,655.2 1140.7,650.0 1141.9,628.0 1143.1,644.6 1144.2,652.0 1145.4,643.7 1146.6,645.6 1147.8,646.0 1148.9,648.3 1150.1,639.7 1151.3,646.1 1152.5,646.0 1153.6,649.0 1154.8,654.5 1156.0,644.7 1157.2,649.6 1158.3,629.4 1159.5,644.8 1160.7,645.4 1161.9,647.9 1163.0,648.0 1164.2,653.2 1165.4,652.0 1166.6,644.8 1167.8,638.0 1168.9,639.3 1170.1,646.4 1171.3,639.5 1172.5,650.9 1173.6,645.5 1174.8,638.3" fill="none" stroke="#2f8ee0" stroke-width="1.4" stroke-linejoin="round" stroke-dasharray="3.5,2.5"/>
<polyline points="783.2,660.5 784.1,649.7 785.0,662.4 785.9,652.4 786.9,664.7 787.8,651.1 788.7,657.2 789.6,647.1 790.5,651.3 791.4,656.9 792.3,659.4 793.3,654.4 794.2,658.1 795.1,664.0 796.0,654.1 796.9,672.0 797.8,659.0 798.7,644.4 799.7,655.5 800.6,668.8 801.5,652.1 802.4,658.5 803.3,664.1 804.2,664.5 805.2,659.7 806.1,655.0 807.0,661.8 807.9,649.3 808.8,665.7 809.7,655.9 810.6,672.0 811.6,672.0 812.5,662.8 813.4,660.3 814.3,649.5 815.2,663.9 816.1,657.4 817.0,663.9 818.0,651.0 818.9,642.6 819.8,644.5 820.7,631.0 821.6,625.9 822.5,630.6 823.4,635.2 824.4,636.6 825.3,631.9 826.2,643.8 827.1,631.3 828.0,643.0 828.9,638.1 829.8,648.6 830.8,648.5 831.7,648.8 832.6,641.2 833.5,645.9 834.4,647.3 835.3,642.8 836.3,657.3 837.2,646.9 838.1,658.6 839.0,662.3 839.9,661.5 840.8,652.0 841.7,649.2 842.7,665.2 843.6,669.7 844.5,672.0 845.4,663.7 846.3,661.7 847.2,662.7 848.1,664.4 849.1,657.4 850.0,667.2 850.9,665.5 851.8,670.7 852.7,672.0 853.6,672.0 854.5,670.3 855.5,672.0 856.4,672.0 857.3,672.0 858.2,671.7 859.1,671.4 860.0,672.0 860.9,672.0 861.9,669.6 862.8,670.2 863.7,672.0 864.6,671.1 865.5,672.0 866.4,669.4 867.3,672.0 868.3,670.7 869.2,666.3 870.1,669.4 871.0,672.0 871.9,672.0 872.8,671.6 873.8,666.7 874.7,662.6 875.6,654.0 876.5,654.6 877.4,651.0 878.3,660.8 879.2,638.9 880.2,638.4 881.1,620.6 882.0,625.1 882.9,626.2 883.8,622.1 884.7,618.2 885.6,614.7 886.6,611.0 887.5,606.7 888.4,603.0 889.3,599.0 890.2,595.0 891.1,591.0 892.0,586.8 893.0,582.8 893.9,578.6 894.8,574.2 895.7,569.7 896.6,565.0 897.5,559.6 898.4,554.6 899.4,549.0 900.3,544.1 901.2,539.0 902.1,534.1 903.0,530.1 903.9,526.8 904.9,524.0 905.8,521.4 906.7,518.9 907.6,516.9 908.5,515.3 909.4,513.0 910.3,511.3 911.3,509.6 912.2,508.1 913.1,507.3 914.0,506.0 914.9,505.3 915.8,504.6 916.7,504.5 917.7,504.4 918.6,503.7 919.5,503.2 920.4,503.2 921.3,502.9 922.2,502.6 923.1,502.5 924.1,502.3 925.0,502.2 925.9,501.6 926.8,501.9 927.7,501.7 928.6,501.5 929.5,501.4 930.5,502.0 931.4,501.8 932.3,501.9 933.2,501.7 934.1,502.1 935.0,502.0 935.9,501.7 936.9,501.6 937.8,501.9 938.7,501.6 939.6,501.4 940.5,501.9 941.4,501.4 942.4,501.7 943.3,502.1 944.2,501.6 945.1,501.6 946.0,501.4 946.9,501.8 947.8,501.3 948.8,501.7 949.7,501.6 950.6,501.7 951.5,501.6 952.4,501.4 953.3,501.7 954.2,501.8 955.2,501.5 956.1,501.7 957.0,501.6 957.9,501.5 958.8,501.6 959.7,501.6 960.6,501.6 961.6,501.7 962.5,501.5 963.4,501.4 964.3,501.6 965.2,502.0 966.1,502.0 967.0,501.5 968.0,501.4 968.9,501.4 969.8,501.8 970.7,501.6 971.6,501.8 972.5,501.6 973.5,501.7 974.4,501.9 975.3,501.6 976.2,501.7 977.1,501.3 978.0,501.5 978.9,502.1 979.9,501.6 980.8,502.0 981.7,501.9 982.6,501.8 983.5,502.1 984.4,501.2 985.3,501.7 986.3,502.0 987.2,501.6 988.1,502.3 989.0,501.6 989.9,501.9 990.8,501.9 991.7,501.7 992.7,501.9 993.6,501.9 994.5,502.2 995.4,501.9 996.3,502.1 997.2,502.1 998.1,502.4 999.1,502.5 1000.0,503.1 1000.9,503.6 1001.8,503.9 1002.7,504.0 1003.6,504.7 1004.5,505.2 1005.5,505.8 1006.4,506.1 1007.3,507.1 1008.2,508.0 1009.1,508.2 1010.0,508.8 1011.0,509.1 1011.9,510.1 1012.8,510.7 1013.7,511.0 1014.6,511.5 1015.5,512.3 1016.4,512.6 1017.4,513.6 1018.3,514.2 1019.2,515.1 1020.1,516.0 1021.0,516.5 1021.9,517.2 1022.8,518.0 1023.8,518.1 1024.7,519.7 1025.6,520.1 1026.5,520.7 1027.4,521.7 1028.3,522.5 1029.2,523.6 1030.2,524.4 1031.1,524.8 1032.0,525.5 1032.9,526.8 1033.8,527.3 1034.7,528.2 1035.6,528.8 1036.6,529.8 1037.5,530.1 1038.4,531.1 1039.3,531.6 1040.2,532.5 1041.1,532.7 1042.1,533.6 1043.0,533.9 1043.9,534.6 1044.8,535.0 1045.7,535.6 1046.6,535.7 1047.5,536.9 1048.5,537.1 1049.4,537.8 1050.3,538.2 1051.2,539.1 1052.1,539.0 1053.0,540.2 1053.9,540.0 1054.9,540.9 1055.8,541.1 1056.7,541.4 1057.6,542.1 1058.5,542.3 1059.4,542.9 1060.3,543.4 1061.3,543.6 1062.2,543.8 1063.1,544.5 1064.0,544.9 1064.9,545.3 1065.8,545.7 1066.7,545.8 1067.7,546.3 1068.6,546.9 1069.5,547.2 1070.4,547.8 1071.3,548.0 1072.2,548.3 1073.1,548.7 1074.1,549.1 1075.0,549.2 1075.9,549.7 1076.8,550.0 1077.7,551.0 1078.6,550.8 1079.6,551.4 1080.5,551.7 1081.4,551.9 1082.3,552.1 1083.2,553.0 1084.1,552.6 1085.0,553.1 1086.0,553.6 1086.9,554.1 1087.8,554.5 1088.7,554.2 1089.6,555.0 1090.5,555.2 1091.4,555.5 1092.4,555.8 1093.3,555.6 1094.2,556.0 1095.1,556.9 1096.0,557.1 1096.9,556.9 1097.8,557.5 1098.8,558.0 1099.7,558.2 1100.6,558.1 1101.5,558.6 1102.4,558.8 1103.3,558.3 1104.2,559.2 1105.2,559.8 1106.1,559.7 1107.0,560.3 1107.9,560.4 1108.8,560.6 1109.7,561.0 1110.7,560.9 1111.6,561.2 1112.5,561.4 1113.4,561.4 1114.3,561.6 1115.2,562.1 1116.1,562.0 1117.1,562.2 1118.0,562.7 1118.9,562.6 1119.8,563.2 1120.7,563.5 1121.6,563.4 1122.5,563.4 1123.5,563.3 1124.4,563.9 1125.3,563.9 1126.2,564.6 1127.1,564.4 1128.0,564.4 1128.9,564.9 1129.9,565.0 1130.8,565.1 1131.7,564.9 1132.6,565.7 1133.5,565.9 1134.4,565.7 1135.3,565.8 1136.3,566.1 1137.2,566.4 1138.1,566.4 1139.0,566.2 1139.9,566.8 1140.8,566.7 1141.7,566.8 1142.7,567.4 1143.6,567.5 1144.5,567.4 1145.4,567.7 1146.3,567.8 1147.2,568.1 1148.2,568.2 1149.1,568.3 1150.0,568.1 1150.9,568.6 1151.8,568.7 1152.7,568.7 1153.6,569.0 1154.6,569.2 1155.5,569.2 1156.4,569.9 1157.3,569.7 1158.2,569.8 1159.1,570.0 1160.0,570.1 1161.0,570.2 1161.9,570.6 1162.8,570.3 1163.7,570.8 1164.6,570.7 1165.5,571.2 1166.4,570.7 1167.4,571.2 1168.3,571.9 1169.2,572.0 1170.1,572.1 1171.0,572.0 1171.9,572.2 1172.8,572.0 1173.8,572.1 1174.7,573.0" fill="none" stroke="#f2a24e" stroke-width="1.4" stroke-linejoin="round" stroke-dasharray="5,3.5"/>
<polyline points="783.2,600.4 784.1,598.7 785.0,598.5 785.9,603.3 786.9,605.0 787.8,611.6 788.7,610.9 789.6,613.5 790.5,612.1 791.4,615.6 792.3,617.1 793.3,619.5 794.2,619.8 795.1,617.7 796.0,614.4 796.9,622.5 797.8,624.8 798.7,612.7 799.7,613.6 800.6,616.0 801.5,616.7 802.4,618.7 803.3,618.6 804.2,620.7 805.2,616.1 806.1,618.2 807.0,622.5 807.9,619.0 808.8,619.1 809.7,619.4 810.6,613.0 811.6,615.3 812.5,626.2 813.4,617.2 814.3,615.9 815.2,615.5 816.1,617.1 817.0,624.4 818.0,617.5 818.9,619.8 819.8,616.6 820.7,619.5 821.6,624.8 822.5,616.6 823.4,624.8 824.4,619.3 825.3,621.4 826.2,624.2 827.1,629.0 828.0,625.8 828.9,626.3 829.8,624.8 830.8,625.2 831.7,620.8 832.6,624.2 833.5,622.6 834.4,628.8 835.3,627.3 836.3,624.1 837.2,624.3 838.1,625.4 839.0,628.6 839.9,630.5 840.8,623.7 841.7,630.3 842.7,629.9 843.6,625.3 844.5,629.5 845.4,631.6 846.3,628.2 847.2,631.3 848.1,627.8 849.1,631.8 850.0,633.9 850.9,625.8 851.8,629.2 852.7,632.3 853.6,633.2 854.5,636.6 855.5,634.9 856.4,636.8 857.3,631.6 858.2,630.8 859.1,634.9 860.0,635.4 860.9,633.2 861.9,634.2 862.8,632.8 863.7,632.8 864.6,632.9 865.5,632.1 866.4,636.0 867.3,631.5 868.3,638.1 869.2,632.4 870.1,633.1 871.0,631.0 871.9,632.0 872.8,630.5 873.8,635.2 874.7,631.5 875.6,631.7 876.5,628.3 877.4,628.2 878.3,629.3 879.2,629.0 880.2,628.9 881.1,626.9 882.0,624.9 882.9,623.7 883.8,625.3 884.7,627.0 885.6,625.9 886.6,621.5 887.5,625.4 888.4,623.2 889.3,627.6 890.2,619.1 891.1,620.8 892.0,622.1 893.0,620.6 893.9,618.1 894.8,619.6 895.7,618.5 896.6,618.7 897.5,621.5 898.4,622.6 899.4,615.6 900.3,619.3 901.2,615.0 902.1,614.9 903.0,619.0 903.9,619.5 904.9,619.3 905.8,613.9 906.7,618.1 907.6,619.0 908.5,616.3 909.4,621.1 910.3,620.4 911.3,620.7 912.2,619.6 913.1,623.0 914.0,621.7 914.9,620.0 915.8,623.2 916.7,623.6 917.7,620.3 918.6,624.3 919.5,622.6 920.4,620.5 921.3,622.6 922.2,618.7 923.1,623.8 924.1,627.8 925.0,623.4 925.9,624.1 926.8,623.1 927.7,629.0 928.6,626.0 929.5,623.3 930.5,625.8 931.4,623.9 932.3,628.9 933.2,626.3 934.1,627.9 935.0,624.5 935.9,631.3 936.9,626.3 937.8,629.2 938.7,630.1 939.6,632.4 940.5,634.0 941.4,635.4 942.4,631.5 943.3,635.1 944.2,630.3 945.1,632.5 946.0,632.8 946.9,631.6 947.8,635.1 948.8,633.0 949.7,639.8 950.6,637.0 951.5,633.7 952.4,636.7 953.3,632.6 954.2,636.5 955.2,639.0 956.1,633.5 957.0,636.6 957.9,637.4 958.8,637.0 959.7,638.5 960.6,637.1 961.6,633.8 962.5,637.0 963.4,635.1 964.3,636.0 965.2,633.2 966.1,631.1 967.0,630.2 968.0,631.4 968.9,631.3 969.8,627.5 970.7,624.8 971.6,624.1 972.5,617.5 973.5,622.5 974.4,622.6 975.3,620.3 976.2,615.5 977.1,617.9 978.0,612.0 978.9,610.3 979.9,600.2 980.8,593.2 981.7,586.3 982.6,579.8 983.5,573.7 984.4,569.2 985.3,564.0 986.3,559.5 987.2,556.0 988.1,551.6 989.0,547.1 989.9,543.4 990.8,540.0 991.7,537.7 992.7,536.0 993.6,534.2 994.5,532.0 995.4,530.9 996.3,529.9 997.2,528.2 998.1,526.7 999.1,525.8 1000.0,524.7 1000.9,523.9 1001.8,523.4 1002.7,523.2 1003.6,522.6 1004.5,522.1 1005.5,522.3 1006.4,521.6 1007.3,521.1 1008.2,521.3 1009.1,521.3 1010.0,521.3 1011.0,521.5 1011.9,520.8 1012.8,521.4 1013.7,521.6 1014.6,521.1 1015.5,521.6 1016.4,522.3 1017.4,522.5 1018.3,522.8 1019.2,523.1 1020.1,524.3 1021.0,524.6 1021.9,525.2 1022.8,525.3 1023.8,526.0 1024.7,526.2 1025.6,526.4 1026.5,527.2 1027.4,528.2 1028.3,528.4 1029.2,528.8 1030.2,530.0 1031.1,529.7 1032.0,530.6 1032.9,531.1 1033.8,531.7 1034.7,532.6 1035.6,533.0 1036.6,534.0 1037.5,535.2 1038.4,535.6 1039.3,536.4 1040.2,537.0 1041.1,537.5 1042.1,539.2 1043.0,539.5 1043.9,540.5 1044.8,541.0 1045.7,541.6 1046.6,542.1 1047.5,543.7 1048.5,543.9 1049.4,544.3 1050.3,545.5 1051.2,545.7 1052.1,546.4 1053.0,546.7 1053.9,547.5 1054.9,548.8 1055.8,548.9 1056.7,549.1 1057.6,549.6 1058.5,550.1 1059.4,550.1 1060.3,551.2 1061.3,551.3 1062.2,551.5 1063.1,552.7 1064.0,552.5 1064.9,553.1 1065.8,553.6 1066.7,553.2 1067.7,554.4 1068.6,554.4 1069.5,555.2 1070.4,555.6 1071.3,555.7 1072.2,555.8 1073.1,556.5 1074.1,556.7 1075.0,557.2 1075.9,557.2 1076.8,557.8 1077.7,558.1 1078.6,558.3 1079.6,558.7 1080.5,559.1 1081.4,559.6 1082.3,559.7 1083.2,560.2 1084.1,560.0 1085.0,560.7 1086.0,560.7 1086.9,561.3 1087.8,561.3 1088.7,562.1 1089.6,562.1 1090.5,561.9 1091.4,562.4 1092.4,563.2 1093.3,563.0 1094.2,563.1 1095.1,563.5 1096.0,563.9 1096.9,564.1 1097.8,563.4 1098.8,564.2 1099.7,564.0 1100.6,564.2 1101.5,564.8 1102.4,564.7 1103.3,564.9 1104.2,565.4 1105.2,565.2 1106.1,565.4 1107.0,565.5 1107.9,565.8 1108.8,566.0 1109.7,566.0 1110.7,566.4 1111.6,566.0 1112.5,566.4 1113.4,566.6 1114.3,566.8 1115.2,566.8 1116.1,567.0 1117.1,567.3 1118.0,567.1 1118.9,566.9 1119.8,567.0 1120.7,567.5 1121.6,567.9 1122.5,567.0 1123.5,567.9 1124.4,568.1 1125.3,568.5 1126.2,568.3 1127.1,568.6 1128.0,568.8 1128.9,568.7 1129.9,568.8 1130.8,568.9 1131.7,569.0 1132.6,569.7 1133.5,569.1 1134.4,569.6 1135.3,569.5 1136.3,570.0 1137.2,569.6 1138.1,569.7 1139.0,570.0 1139.9,570.1 1140.8,570.3 1141.7,569.8 1142.7,570.5 1143.6,570.8 1144.5,570.7 1145.4,570.6 1146.3,570.8 1147.2,570.9 1148.2,570.9 1149.1,570.7 1150.0,570.6 1150.9,571.4 1151.8,571.4 1152.7,571.5 1153.6,571.3 1154.6,571.2 1155.5,571.5 1156.4,571.9 1157.3,571.9 1158.2,572.3 1159.1,572.2 1160.0,572.2 1161.0,572.6 1161.9,572.4 1162.8,572.2 1163.7,572.8 1164.6,572.7 1165.5,572.9 1166.4,573.5 1167.4,572.9 1168.3,573.6 1169.2,573.8 1170.1,573.4 1171.0,573.5 1171.9,573.6 1172.8,573.7 1173.8,573.6 1174.7,574.0" fill="none" stroke="#2a9a93" stroke-width="1.4" stroke-linejoin="round" stroke-dasharray="5,3.5"/>
<polyline points="783.2,589.7 784.0,592.1 784.8,597.9 785.6,600.3 786.3,606.2 787.1,607.7 787.9,612.0 788.7,612.4 789.5,614.3 790.3,614.8 791.0,617.8 791.8,620.0 792.6,621.2 793.4,623.4 794.2,619.9 795.0,625.2 795.7,623.0 796.5,622.2 797.3,623.3 798.1,624.7 798.9,622.0 799.7,620.2 800.4,619.9 801.2,623.0 802.0,620.2 802.8,618.6 803.6,615.3 804.4,618.0 805.2,616.9 805.9,614.3 806.7,617.4 807.5,615.1 808.3,616.0 809.1,612.4 809.9,611.1 810.6,608.9 811.4,604.9 812.2,602.8 813.0,600.8 813.8,599.5 814.6,597.7 815.3,596.4 816.1,592.0 816.9,589.8 817.7,589.2 818.5,587.7 819.3,585.4 820.0,580.9 820.8,577.9 821.6,576.6 822.4,577.9 823.2,576.5 824.0,576.8 824.8,573.6 825.5,575.5 826.3,578.6 827.1,577.3 827.9,578.6 828.7,579.9 829.5,581.0 830.2,583.7 831.0,585.2 831.8,584.2 832.6,583.2 833.4,588.6 834.2,589.4 834.9,587.3 835.7,590.6 836.5,593.1 837.3,590.3 838.1,588.6 838.9,588.9 839.6,589.7 840.4,592.3 841.2,591.2 842.0,592.7 842.8,593.2 843.6,592.1 844.4,594.6 845.1,591.9 845.9,592.8 846.7,592.8 847.5,593.4 848.3,595.3 849.1,591.5 849.8,591.8 850.6,595.4 851.4,595.5 852.2,596.4 853.0,596.3 853.8,595.0 854.5,594.5 855.3,597.5 856.1,598.1 856.9,599.0 857.7,597.7 858.5,598.4 859.2,597.9 860.0,598.0 860.8,600.9 861.6,600.1 862.4,598.4 863.2,600.5 864.0,600.6 864.7,602.2 865.5,598.6 866.3,599.6 867.1,600.9 867.9,599.5 868.7,598.7 869.4,598.8 870.2,601.7 871.0,601.4 871.8,600.9 872.6,600.0 873.4,604.3 874.1,601.4 874.9,603.8 875.7,599.9 876.5,601.8 877.3,600.6 878.1,601.9 878.8,599.1 879.6,600.1 880.4,602.0 881.2,603.5 882.0,600.2 882.8,600.1 883.6,601.2 884.3,600.9 885.1,601.4 885.9,598.8 886.7,598.2 887.5,601.0 888.3,601.1 889.0,599.0 889.8,601.9 890.6,599.7 891.4,599.2 892.2,599.2 893.0,596.9 893.7,600.1 894.5,597.8 895.3,598.4 896.1,598.7 896.9,597.6 897.7,598.0 898.4,597.7 899.2,598.9 900.0,599.5 900.8,596.1 901.6,596.5 902.4,597.6 903.2,599.1 903.9,597.1 904.7,600.5 905.5,599.1 906.3,598.9 907.1,599.8 907.9,602.0 908.6,597.1 909.4,602.2 910.2,598.4 911.0,597.6 911.8,600.1 912.6,600.8 913.3,603.9 914.1,602.9 914.9,605.8 915.7,603.8 916.5,603.2 917.3,606.7 918.0,605.1 918.8,606.1 919.6,603.1 920.4,605.1 921.2,604.8 922.0,606.2 922.8,605.8 923.5,606.3 924.3,608.4 925.1,605.5 925.9,607.5 926.7,609.1 927.5,607.8 928.2,606.8 929.0,606.8 929.8,606.8 930.6,607.8 931.4,608.7 932.2,609.3 932.9,610.7 933.7,608.0 934.5,609.5 935.3,608.4 936.1,610.7 936.9,610.2 937.6,609.6 938.4,611.5 939.2,610.5 940.0,610.7 940.8,610.2 941.6,612.7 942.4,612.3 943.1,612.7 943.9,610.9 944.7,612.0 945.5,606.7 946.3,611.5 947.1,607.8 947.8,608.8 948.6,610.6 949.4,609.6 950.2,612.1 951.0,610.6 951.8,610.0 952.5,606.4 953.3,611.0 954.1,610.6 954.9,609.3 955.7,609.4 956.5,613.1 957.2,608.9 958.0,610.3 958.8,610.5 959.6,609.9 960.4,611.0 961.2,611.9 962.0,609.8 962.7,608.1 963.5,610.8 964.3,609.3 965.1,610.5 965.9,609.3 966.7,609.4 967.4,611.1 968.2,608.1 969.0,610.8 969.8,612.7 970.6,610.5 971.4,609.9 972.1,609.3 972.9,609.8 973.7,609.8 974.5,605.7 975.3,610.0 976.1,607.9 976.8,605.9 977.6,603.9 978.4,603.7 979.2,600.3 980.0,600.4 980.8,596.3 981.6,598.5 982.3,594.8 983.1,592.6 983.9,590.4 984.7,587.6 985.5,584.9 986.3,582.5 987.0,579.9 987.8,577.4 988.6,574.9 989.4,572.5 990.2,570.3 991.0,567.7 991.7,565.3 992.5,563.0 993.3,560.9 994.1,559.3 994.9,556.3 995.7,554.4 996.4,552.5 997.2,550.5 998.0,548.3 998.8,546.3 999.6,544.5 1000.4,542.5 1001.2,540.4 1001.9,539.0 1002.7,537.3 1003.5,535.5 1004.3,534.8 1005.1,533.5 1005.9,532.8 1006.6,531.5 1007.4,530.7 1008.2,529.6 1009.0,529.0 1009.8,527.8 1010.6,526.9 1011.3,526.5 1012.1,525.6 1012.9,524.9 1013.7,524.4 1014.5,523.9 1015.3,523.6 1016.0,522.9 1016.8,522.4 1017.6,522.4 1018.4,521.7 1019.2,521.6 1020.0,521.0 1020.8,520.5 1021.5,520.6 1022.3,520.7 1023.1,519.6 1023.9,519.0 1024.7,518.8 1025.5,518.8 1026.2,518.5 1027.0,518.2 1027.8,517.9 1028.6,517.7 1029.4,517.3 1030.2,517.4 1030.9,516.7 1031.7,517.0 1032.5,516.0 1033.3,516.0 1034.1,516.1 1034.9,516.3 1035.6,515.4 1036.4,515.5 1037.2,515.1 1038.0,515.2 1038.8,514.6 1039.6,514.8 1040.4,514.5 1041.1,514.7 1041.9,514.5 1042.7,514.3 1043.5,514.0 1044.3,514.2 1045.1,513.8 1045.8,513.4 1046.6,513.8 1047.4,513.6 1048.2,513.3 1049.0,513.4 1049.8,513.2 1050.5,513.2 1051.3,513.0 1052.1,512.6 1052.9,512.8 1053.7,512.6 1054.5,512.3 1055.2,512.2 1056.0,512.3 1056.8,512.2 1057.6,512.0 1058.4,512.1 1059.2,511.7 1060.0,511.8 1060.7,511.4 1061.5,511.9 1062.3,511.3 1063.1,511.6 1063.9,511.4 1064.7,510.7 1065.4,511.1 1066.2,510.7 1067.0,511.1 1067.8,510.9 1068.6,511.0 1069.4,510.7 1070.1,510.7 1070.9,510.8 1071.7,510.6 1072.5,510.6 1073.3,510.3 1074.1,510.3 1074.8,510.2 1075.6,510.5 1076.4,510.1 1077.2,510.0 1078.0,510.3 1078.8,510.3 1079.6,510.1 1080.3,510.1 1081.1,510.5 1081.9,510.3 1082.7,510.1 1083.5,510.5 1084.3,510.1 1085.0,510.3 1085.8,510.4 1086.6,510.0 1087.4,510.1 1088.2,510.4 1089.0,510.1 1089.7,510.2 1090.5,510.1 1091.3,509.8 1092.1,510.4 1092.9,510.1 1093.7,510.3 1094.4,510.3 1095.2,510.1 1096.0,510.1 1096.8,510.3 1097.6,510.2 1098.4,510.3 1099.2,510.6 1099.9,510.3 1100.7,510.3 1101.5,510.0 1102.3,510.9 1103.1,510.0 1103.9,510.1 1104.6,510.2 1105.4,510.2 1106.2,510.5 1107.0,509.8 1107.8,510.5 1108.6,510.2 1109.3,510.1 1110.1,510.4 1110.9,510.3 1111.7,510.2 1112.5,510.2 1113.3,510.0 1114.0,509.8 1114.8,510.7 1115.6,510.3 1116.4,510.0 1117.2,510.4 1118.0,510.0 1118.8,509.8 1119.5,510.2 1120.3,510.2 1121.1,510.6 1121.9,510.4 1122.7,510.4 1123.5,510.1 1124.2,510.5 1125.0,510.3 1125.8,510.4 1126.6,510.1 1127.4,510.0 1128.2,510.3 1128.9,510.2 1129.7,510.3 1130.5,510.1 1131.3,510.2 1132.1,510.2 1132.9,510.3 1133.6,510.5 1134.4,510.6 1135.2,510.3 1136.0,510.0 1136.8,510.2 1137.6,510.1 1138.4,510.3 1139.1,510.3 1139.9,510.4 1140.7,510.4 1141.5,510.1 1142.3,510.2 1143.1,510.1 1143.8,510.4 1144.6,510.1 1145.4,510.4 1146.2,510.1 1147.0,510.3 1147.8,510.1 1148.5,510.3 1149.3,510.7 1150.1,510.7 1150.9,510.3 1151.7,510.8 1152.5,510.9 1153.2,511.0 1154.0,510.4 1154.8,510.7 1155.6,510.8 1156.4,511.4 1157.2,510.9 1158.0,511.2 1158.7,511.5 1159.5,512.0 1160.3,511.8 1161.1,511.8 1161.9,512.0 1162.7,512.4 1163.4,512.2 1164.2,512.6 1165.0,513.2 1165.8,512.8 1166.6,512.9 1167.4,512.9 1168.1,512.8 1168.9,513.7 1169.7,513.6 1170.5,513.3 1171.3,513.8 1172.1,514.2 1172.8,514.2 1173.6,514.0 1174.4,513.9 1175.2,514.2" fill="none" stroke="#2c2c7e" stroke-width="1.4" stroke-linejoin="round" stroke-dasharray="5,3.5"/>
<polyline points="783.2,509.2 784.1,509.4 785.0,509.3 785.9,508.9 786.9,509.8 787.8,508.2 788.7,508.9 789.6,508.7 790.5,508.9 791.4,508.6 792.3,509.0 793.3,508.6 794.2,508.6 795.1,508.7 796.0,509.1 796.9,508.5 797.8,508.8 798.7,508.8 799.7,508.8 800.6,508.5 801.5,509.3 802.4,508.5 803.3,508.8 804.2,509.2 805.2,508.4 806.1,508.6 807.0,508.9 807.9,509.2 808.8,509.0 809.7,509.1 810.6,508.3 811.6,509.2 812.5,508.7 813.4,509.7 814.3,508.8 815.2,508.5 816.1,509.0 817.0,509.5 818.0,509.2 818.9,509.4 819.8,510.3 820.7,511.1 821.6,512.1 822.5,513.3 823.4,515.0 824.4,516.0 825.3,517.3 826.2,519.0 827.1,521.2 828.0,522.6 828.9,523.8 829.8,526.4 830.8,527.4 831.7,529.4 832.6,530.3 833.5,532.0 834.4,532.9 835.3,534.1 836.3,535.6 837.2,536.5 838.1,538.0 839.0,538.7 839.9,540.2 840.8,541.7 841.7,542.6 842.7,543.0 843.6,544.4 844.5,545.6 845.4,547.0 846.3,548.4 847.2,548.7 848.1,549.8 849.1,551.3 850.0,551.8 850.9,552.4 851.8,553.6 852.7,554.5 853.6,555.2 854.5,556.1 855.5,556.8 856.4,558.0 857.3,558.7 858.2,560.1 859.1,560.9 860.0,561.2 860.9,562.1 861.9,563.1 862.8,564.0 863.7,564.0 864.6,565.1 865.5,566.3 866.4,567.2 867.3,566.8 868.3,568.0 869.2,569.1 870.1,569.4 871.0,569.4 871.9,569.6 872.8,569.9 873.8,570.6 874.7,571.3 875.6,571.7 876.5,571.6 877.4,571.6 878.3,572.3 879.2,572.7 880.2,572.9 881.1,572.5 882.0,573.1 882.9,572.5 883.8,573.5 884.7,574.3 885.6,573.9 886.6,574.1 887.5,573.9 888.4,573.6 889.3,574.5 890.2,574.1 891.1,573.7 892.0,574.2 893.0,574.4 893.9,574.5 894.8,574.6 895.7,575.3 896.6,575.1 897.5,575.7 898.4,576.0 899.4,575.9 900.3,576.3 901.2,573.8 902.1,582.4 903.0,575.1 903.9,576.2 904.9,578.3 905.8,580.6 906.7,582.7 907.6,580.9 908.5,580.5 909.4,583.6 910.3,580.8 911.3,586.6 912.2,581.8 913.1,587.7 914.0,585.1 914.9,589.4 915.8,580.9 916.7,596.9 917.7,586.3 918.6,590.4 919.5,589.8 920.4,599.4 921.3,597.6 922.2,603.3 923.1,598.7 924.1,600.1 925.0,601.0 925.9,603.5 926.8,606.9 927.7,604.2 928.6,600.6 929.5,605.6 930.5,610.3 931.4,608.0 932.3,608.7 933.2,614.8 934.1,615.0 935.0,611.4 935.9,614.0 936.9,620.5 937.8,618.8 938.7,621.8 939.6,615.1 940.5,621.4 941.4,623.4 942.4,626.1 943.3,617.1 944.2,623.1 945.1,621.2 946.0,626.7 946.9,622.2 947.8,626.4 948.8,629.1 949.7,627.9 950.6,628.0 951.5,627.2 952.4,627.9 953.3,638.7 954.2,631.5 955.2,636.3 956.1,632.4 957.0,632.0 957.9,634.6 958.8,636.6 959.7,634.5 960.6,636.7 961.6,641.5 962.5,636.8 963.4,637.4 964.3,640.1 965.2,640.4 966.1,644.0 967.0,644.6 968.0,644.5 968.9,648.7 969.8,641.8 970.7,644.9 971.6,642.4 972.5,649.0 973.5,644.1 974.4,654.5 975.3,649.0 976.2,645.1 977.1,648.8 978.0,651.6 978.9,645.2 979.9,648.9 980.8,646.7 981.7,647.6 982.6,648.0 983.5,646.9 984.4,654.5 985.3,652.7 986.3,637.6 987.2,649.1 988.1,644.8 989.0,642.3 989.9,637.1 990.8,639.8 991.7,641.0 992.7,641.1 993.6,642.9 994.5,642.5 995.4,633.3 996.3,628.3 997.2,618.5 998.1,619.4 999.1,619.2 1000.0,619.1 1000.9,612.7 1001.8,614.1 1002.7,607.7 1003.6,604.8 1004.5,607.3 1005.5,607.9 1006.4,605.9 1007.3,602.9 1008.2,608.3 1009.1,605.0 1010.0,605.5 1011.0,605.0 1011.9,598.1 1012.8,603.8 1013.7,601.9 1014.6,598.9 1015.5,603.5 1016.4,599.0 1017.4,603.9 1018.3,601.2 1019.2,604.5 1020.1,603.4 1021.0,598.2 1021.9,604.0 1022.8,603.4 1023.8,600.1 1024.7,603.6 1025.6,603.0 1026.5,608.5 1027.4,601.9 1028.3,598.9 1029.2,602.7 1030.2,606.0 1031.1,604.4 1032.0,613.3 1032.9,606.3 1033.8,610.5 1034.7,605.5 1035.6,604.0 1036.6,608.3 1037.5,609.4 1038.4,606.9 1039.3,613.2 1040.2,609.7 1041.1,611.0 1042.1,610.7 1043.0,601.8 1043.9,609.4 1044.8,612.5 1045.7,616.1 1046.6,609.0 1047.5,613.7 1048.5,608.2 1049.4,604.2 1050.3,610.9 1051.2,612.7 1052.1,614.8 1053.0,615.2 1053.9,608.8 1054.9,612.4 1055.8,615.3 1056.7,616.3 1057.6,614.0 1058.5,607.6 1059.4,615.5 1060.3,616.8 1061.3,613.7 1062.2,621.8 1063.1,618.5 1064.0,613.0 1064.9,614.5 1065.8,615.2 1066.7,611.9 1067.7,622.9 1068.6,615.3 1069.5,617.9 1070.4,618.3 1071.3,620.6 1072.2,616.5 1073.1,611.8 1074.1,617.3 1075.0,617.9 1075.9,619.9 1076.8,617.7 1077.7,622.8 1078.6,616.9 1079.6,626.7 1080.5,620.7 1081.4,621.9 1082.3,620.2 1083.2,621.3 1084.1,621.1 1085.0,622.0 1086.0,622.8 1086.9,624.8 1087.8,621.5 1088.7,620.5 1089.6,622.9 1090.5,622.9 1091.4,619.9 1092.4,625.9 1093.3,623.4 1094.2,616.3 1095.1,624.3 1096.0,619.4 1096.9,625.5 1097.8,623.0 1098.8,628.1 1099.7,624.0 1100.6,623.0 1101.5,623.0 1102.4,620.3 1103.3,625.8 1104.2,626.3 1105.2,626.1 1106.1,624.8 1107.0,629.0 1107.9,626.8 1108.8,629.5 1109.7,626.4 1110.7,629.7 1111.6,625.1 1112.5,627.0 1113.4,628.5 1114.3,627.3 1115.2,631.8 1116.1,627.4 1117.1,629.7 1118.0,629.7 1118.9,621.7 1119.8,625.9 1120.7,629.1 1121.6,630.5 1122.5,626.7 1123.5,632.2 1124.4,622.1 1125.3,632.1 1126.2,629.0 1127.1,625.4 1128.0,631.6 1128.9,625.0 1129.9,630.9 1130.8,630.4 1131.7,628.9 1132.6,633.1 1133.5,629.4 1134.4,633.9 1135.3,633.6 1136.3,632.2 1137.2,626.8 1138.1,626.3 1139.0,636.5 1139.9,628.7 1140.8,632.0 1141.7,627.8 1142.7,634.1 1143.6,631.6 1144.5,626.5 1145.4,628.6 1146.3,635.5 1147.2,630.1 1148.2,626.7 1149.1,631.3 1150.0,631.9 1150.9,629.9 1151.8,635.8 1152.7,637.1 1153.6,634.3 1154.6,631.5 1155.5,628.3 1156.4,626.4 1157.3,631.4 1158.2,627.4 1159.1,630.6 1160.0,633.1 1161.0,625.5 1161.9,629.2 1162.8,631.1 1163.7,633.6 1164.6,636.4 1165.5,628.5 1166.4,628.8 1167.4,628.2 1168.3,630.5 1169.2,635.4 1170.1,633.6 1171.0,631.9 1171.9,626.8 1172.8,634.1 1173.8,632.3 1174.7,637.0" fill="none" stroke="#9a9a9a" stroke-width="1.4" stroke-linejoin="round" stroke-dasharray="5,3.5"/>
<polyline points="783.2,535.8 784.0,536.3 784.8,536.4 785.6,537.0 786.3,537.0 787.1,537.1 787.9,537.3 788.7,538.0 789.5,538.1 790.3,538.4 791.0,538.9 791.8,538.6 792.6,538.9 793.4,539.1 794.2,539.1 795.0,539.4 795.7,539.4 796.5,539.3 797.3,539.3 798.1,539.4 798.9,539.3 799.7,538.9 800.4,538.6 801.2,538.6 802.0,537.9 802.8,537.6 803.6,537.2 804.4,536.9 805.2,536.3 805.9,535.7 806.7,535.4 807.5,534.6 808.3,534.3 809.1,533.7 809.9,532.9 810.6,532.5 811.4,531.8 812.2,531.4 813.0,530.6 813.8,529.7 814.6,528.7 815.3,527.4 816.1,525.7 816.9,524.1 817.7,522.7 818.5,521.1 819.3,519.3 820.0,517.8 820.8,516.9 821.6,515.7 822.4,514.8 823.2,514.2 824.0,514.3 824.8,514.7 825.5,514.6 826.3,515.2 827.1,515.7 827.9,516.2 828.7,517.1 829.5,517.7 830.2,518.7 831.0,518.8 831.8,519.6 832.6,520.2 833.4,520.7 834.2,521.1 834.9,521.5 835.7,521.9 836.5,522.2 837.3,522.8 838.1,523.0 838.9,523.2 839.6,523.2 840.4,523.7 841.2,523.9 842.0,524.2 842.8,524.5 843.6,524.7 844.4,524.9 845.1,525.2 845.9,525.2 846.7,525.2 847.5,525.4 848.3,525.5 849.1,525.2 849.8,525.0 850.6,524.7 851.4,524.2 852.2,523.8 853.0,523.3 853.8,522.7 854.5,522.1 855.3,521.1 856.1,520.3 856.9,519.5 857.7,518.6 858.5,517.9 859.2,516.9 860.0,516.1 860.8,515.1 861.6,514.4 862.4,513.3 863.2,512.4 864.0,511.6 864.7,510.4 865.5,509.3 866.3,508.0 867.1,506.6 867.9,505.7 868.7,504.0 869.4,502.7 870.2,501.5 871.0,500.2 871.8,498.6 872.6,497.3 873.4,496.0 874.1,494.6 874.9,492.9 875.7,492.1 876.5,490.2 877.3,489.3 878.1,487.5 878.8,486.3 879.6,484.8 880.4,483.5 881.2,482.0 882.0,480.3 882.8,479.1 883.6,477.9 884.3,476.2 885.1,475.0 885.9,473.3 886.7,471.8 887.5,470.4 888.3,469.0 889.0,467.3 889.8,465.9 890.6,464.5 891.4,463.1 892.2,461.8 893.0,460.5 893.7,459.0 894.5,457.6 895.3,456.2 896.1,454.7 896.9,453.2 897.7,451.7 898.4,450.6 899.2,449.3 900.0,448.3 900.8,447.0 901.6,446.1 902.4,445.0 903.2,443.8 903.9,443.1 904.7,442.2 905.5,441.1 906.3,440.3 907.1,439.3 907.9,438.5 908.6,437.5 909.4,436.9 910.2,436.2 911.0,435.6 911.8,435.2 912.6,434.9 913.3,434.7 914.1,434.7 914.9,434.5 915.7,434.4 916.5,434.3 917.3,434.2 918.0,434.1 918.8,434.2 919.6,434.2 920.4,434.1 921.2,434.1 922.0,433.9 922.8,434.1 923.5,433.9 924.3,434.2 925.1,433.9 925.9,434.1 926.7,434.2 927.5,434.2 928.2,434.2 929.0,434.2 929.8,433.9 930.6,434.0 931.4,434.1 932.2,434.2 932.9,434.1 933.7,434.4 934.5,434.5 935.3,434.4 936.1,434.3 936.9,434.0 937.6,434.6 938.4,434.5 939.2,434.6 940.0,434.6 940.8,434.7 941.6,434.6 942.4,434.7 943.1,434.6 943.9,434.9 944.7,434.8 945.5,434.9 946.3,434.8 947.1,434.8 947.8,435.0 948.6,434.9 949.4,435.0 950.2,435.0 951.0,435.0 951.8,435.1 952.5,435.0 953.3,435.3 954.1,434.9 954.9,435.4 955.7,435.2 956.5,435.2 957.2,435.1 958.0,435.4 958.8,435.3 959.6,435.4 960.4,435.3 961.2,435.4 962.0,435.5 962.7,435.5 963.5,435.4 964.3,435.5 965.1,435.6 965.9,435.8 966.7,435.7 967.4,435.8 968.2,435.5 969.0,435.5 969.8,435.9 970.6,435.7 971.4,435.6 972.1,435.8 972.9,435.9 973.7,436.0 974.5,435.9 975.3,435.8 976.1,435.8 976.8,435.8 977.6,435.9 978.4,435.8 979.2,435.7 980.0,435.9 980.8,436.0 981.6,436.2 982.3,436.0 983.1,436.0 983.9,435.9 984.7,436.3 985.5,436.2 986.3,436.4 987.0,436.2 987.8,436.1 988.6,436.4 989.4,436.2 990.2,436.4 991.0,436.3 991.7,436.3 992.5,436.5 993.3,436.7 994.1,436.6 994.9,436.5 995.7,436.5 996.4,436.7 997.2,436.6 998.0,436.5 998.8,436.9 999.6,436.8 1000.4,436.9 1001.2,437.1 1001.9,437.2 1002.7,437.0 1003.5,437.4 1004.3,437.6 1005.1,438.0 1005.9,438.1 1006.6,438.4 1007.4,438.6 1008.2,439.2 1009.0,439.7 1009.8,439.6 1010.6,439.9 1011.3,440.4 1012.1,440.7 1012.9,441.5 1013.7,441.5 1014.5,441.9 1015.3,442.7 1016.0,443.0 1016.8,443.1 1017.6,443.5 1018.4,444.1 1019.2,444.7 1020.0,445.2 1020.8,445.6 1021.5,446.1 1022.3,446.3 1023.1,446.8 1023.9,447.0 1024.7,447.8 1025.5,448.0 1026.2,448.5 1027.0,448.8 1027.8,449.0 1028.6,449.7 1029.4,449.9 1030.2,450.2 1030.9,450.8 1031.7,451.1 1032.5,451.2 1033.3,452.0 1034.1,452.0 1034.9,452.6 1035.6,452.9 1036.4,453.5 1037.2,453.9 1038.0,454.4 1038.8,454.8 1039.6,455.1 1040.4,455.8 1041.1,455.9 1041.9,456.2 1042.7,456.9 1043.5,457.5 1044.3,457.5 1045.1,458.2 1045.8,458.5 1046.6,458.9 1047.4,459.0 1048.2,459.8 1049.0,459.9 1049.8,460.5 1050.5,460.9 1051.3,461.0 1052.1,461.3 1052.9,461.6 1053.7,461.8 1054.5,462.2 1055.2,462.5 1056.0,462.9 1056.8,462.9 1057.6,463.3 1058.4,463.5 1059.2,463.6 1060.0,463.9 1060.7,464.0 1061.5,464.8 1062.3,465.0 1063.1,465.2 1063.9,465.4 1064.7,465.5 1065.4,465.8 1066.2,466.2 1067.0,466.1 1067.8,466.3 1068.6,466.8 1069.4,467.0 1070.1,467.1 1070.9,467.3 1071.7,467.9 1072.5,467.8 1073.3,468.0 1074.1,467.9 1074.8,468.5 1075.6,468.6 1076.4,468.7 1077.2,469.1 1078.0,469.3 1078.8,469.6 1079.6,469.6 1080.3,469.9 1081.1,470.3 1081.9,470.2 1082.7,470.4 1083.5,470.6 1084.3,470.9 1085.0,471.1 1085.8,470.8 1086.6,471.4 1087.4,471.6 1088.2,471.5 1089.0,471.6 1089.7,471.9 1090.5,472.2 1091.3,472.2 1092.1,472.5 1092.9,472.4 1093.7,472.9 1094.4,472.9 1095.2,473.0 1096.0,473.2 1096.8,473.1 1097.6,473.4 1098.4,473.7 1099.2,473.7 1099.9,473.8 1100.7,474.0 1101.5,474.0 1102.3,474.5 1103.1,474.6 1103.9,474.5 1104.6,474.5 1105.4,474.8 1106.2,474.7 1107.0,475.0 1107.8,474.9 1108.6,475.3 1109.3,475.7 1110.1,475.6 1110.9,475.6 1111.7,475.8 1112.5,475.9 1113.3,475.9 1114.0,476.2 1114.8,476.1 1115.6,476.3 1116.4,476.4 1117.2,476.4 1118.0,476.5 1118.8,476.6 1119.5,477.0 1120.3,476.9 1121.1,477.1 1121.9,477.2 1122.7,477.1 1123.5,477.2 1124.2,477.4 1125.0,477.5 1125.8,477.6 1126.6,477.7 1127.4,477.9 1128.2,478.1 1128.9,478.0 1129.7,478.1 1130.5,478.2 1131.3,478.1 1132.1,478.7 1132.9,478.5 1133.6,478.8 1134.4,478.7 1135.2,478.8 1136.0,479.0 1136.8,479.0 1137.6,479.4 1138.4,479.5 1139.1,479.2 1139.9,479.4 1140.7,479.5 1141.5,479.5 1142.3,479.4 1143.1,479.9 1143.8,479.7 1144.6,480.1 1145.4,480.3 1146.2,480.3 1147.0,480.3 1147.8,480.1 1148.5,480.2 1149.3,480.5 1150.1,480.6 1150.9,480.5 1151.7,480.8 1152.5,480.5 1153.2,481.0 1154.0,481.1 1154.8,480.9 1155.6,481.3 1156.4,481.2 1157.2,481.3 1158.0,481.3 1158.7,481.5 1159.5,481.5 1160.3,481.6 1161.1,481.9 1161.9,481.8 1162.7,481.8 1163.4,481.9 1164.2,482.2 1165.0,482.0 1165.8,482.1 1166.6,481.9 1167.4,482.4 1168.1,482.4 1168.9,482.4 1169.7,482.8 1170.5,482.7 1171.3,482.6 1172.1,482.9 1172.8,482.9 1173.6,482.9 1174.4,483.1 1175.2,483.1" fill="none" stroke="#7a2a2a" stroke-width="1.4" stroke-linejoin="round" stroke-dasharray="5,3.5"/>
<polyline points="783.2,540.7 783.7,560.1 784.2,577.3 784.8,586.0 785.3,585.8 785.8,585.3 786.3,587.5 786.9,589.7 787.4,589.8 787.9,589.5 788.4,588.8 788.9,590.0 789.5,590.6 790.0,590.6 790.5,590.3 791.0,591.4 791.6,590.7 792.1,590.6 792.6,589.3 793.1,591.1 793.7,590.2 794.2,592.3 794.7,590.5 795.2,591.3 795.7,592.0 796.3,591.6 796.8,590.7 797.3,592.0 797.8,590.7 798.4,590.3 798.9,590.2 799.4,590.2 799.9,593.2 800.4,591.6 801.0,592.6 801.5,591.0 802.0,591.9 802.5,591.7 803.1,591.4 803.6,592.3 804.1,591.5 804.6,592.2 805.2,589.2 805.7,591.6 806.2,590.9 806.7,592.5 807.2,592.0 807.8,591.1 808.3,589.2 808.8,589.0 809.3,589.2 809.9,589.8 810.4,587.0 810.9,589.7 811.4,589.2 811.9,587.6 812.5,588.8 813.0,587.3 813.5,586.3 814.0,587.1 814.6,586.4 815.1,586.5 815.6,587.0 816.1,589.3 816.7,587.1 817.2,585.6 817.7,586.9 818.2,585.6 818.7,584.5 819.3,583.1 819.8,585.6 820.3,584.6 820.8,583.6 821.4,583.2 821.9,585.1 822.4,581.8 822.9,584.6 823.4,582.9 824.0,584.5 824.5,584.3 825.0,583.5 825.5,585.0 826.1,586.1 826.6,587.9 827.1,588.3 827.6,589.8 828.1,587.0 828.7,591.4 829.2,593.2 829.7,589.7 830.2,590.9 830.8,593.3 831.3,592.9 831.8,595.3 832.3,595.7 832.9,595.3 833.4,596.0 833.9,597.4 834.4,595.8 834.9,597.1 835.5,598.2 836.0,600.0 836.5,599.1 837.0,600.1 837.6,600.3 838.1,599.9 838.6,601.7 839.1,601.4 839.6,601.3 840.2,602.2 840.7,600.7 841.2,605.3 841.7,604.0 842.3,605.6 842.8,604.8 843.3,602.6 843.8,607.2 844.4,606.2 844.9,605.6 845.4,606.5 845.9,606.0 846.4,608.8 847.0,606.4 847.5,608.7 848.0,609.1 848.5,607.5 849.1,607.7 849.6,609.0 850.1,609.2 850.6,608.6 851.1,608.4 851.7,608.5 852.2,609.3 852.7,610.6 853.2,606.7 853.8,607.7 854.3,609.0 854.8,609.1 855.3,608.0 855.9,607.5 856.4,609.0 856.9,605.1 857.4,605.8 857.9,606.3 858.5,605.4 859.0,605.2 859.5,604.1 860.0,604.8 860.6,603.4 861.1,602.9 861.6,604.6 862.1,604.6 862.6,604.9 863.2,604.0 863.7,604.4 864.2,603.5 864.7,603.0 865.3,602.7 865.8,604.2 866.3,601.8 866.8,603.1 867.3,602.8 867.9,603.0 868.4,604.4 868.9,601.9 869.4,603.9 870.0,600.7 870.5,601.7 871.0,599.9 871.5,600.6 872.1,600.4 872.6,599.4 873.1,600.6 873.6,598.8 874.1,600.2 874.7,599.4 875.2,599.9 875.7,598.1 876.2,597.4 876.8,598.0 877.3,598.0 877.8,596.0 878.3,594.7 878.8,594.4 879.4,594.3 879.9,593.1 880.4,591.6 880.9,593.0 881.5,589.8 882.0,586.7 882.5,588.4 883.0,586.2 883.6,583.1 884.1,583.0 884.6,581.6 885.1,581.6 885.6,581.7 886.2,576.3 886.7,577.9 887.2,576.9 887.7,575.4 888.3,574.7 888.8,574.1 889.3,573.6 889.8,572.2 890.3,571.2 890.9,570.4 891.4,569.4 891.9,568.4 892.4,567.0 893.0,566.1 893.5,564.6 894.0,563.3 894.5,562.4 895.1,561.5 895.6,559.8 896.1,559.1 896.6,558.9 897.1,557.6 897.7,556.2 898.2,555.6 898.7,554.0 899.2,554.0 899.8,553.2 900.3,551.1 900.8,550.4 901.3,550.5 901.8,549.1 902.4,547.8 902.9,548.1 903.4,547.4 903.9,546.7 904.5,545.9 905.0,545.4 905.5,544.2 906.0,543.8 906.5,542.5 907.1,540.9 907.6,541.5 908.1,540.0 908.6,539.2 909.2,540.0 909.7,538.4 910.2,537.8 910.7,537.4 911.3,536.4 911.8,536.5 912.3,535.7 912.8,535.6 913.3,535.2 913.9,535.1 914.4,533.7 914.9,534.5 915.4,534.8 916.0,533.5 916.5,533.7 917.0,534.4 917.5,534.7 918.0,534.8 918.6,534.1 919.1,534.8 919.6,535.1 920.1,534.6 920.7,535.3 921.2,535.3 921.7,534.7 922.2,535.4 922.8,535.4 923.3,536.0 923.8,535.8 924.3,536.6 924.8,536.4 925.4,536.6 925.9,537.4 926.4,538.0 926.9,537.5 927.5,538.0 928.0,537.9 928.5,538.6 929.0,538.3 929.5,538.4 930.1,538.0 930.6,538.4 931.1,539.2 931.6,538.9 932.2,540.0 932.7,539.4 933.2,540.0 933.7,539.7 934.3,540.3 934.8,540.8 935.3,541.2 935.8,540.6 936.3,541.3 936.9,541.2 937.4,541.5 937.9,542.7 938.4,541.8 939.0,542.4 939.5,542.3 940.0,542.5 940.5,543.6 941.0,543.2 941.6,543.4 942.1,543.4 942.6,543.4 943.1,544.2 943.7,544.3 944.2,544.1 944.7,545.3 945.2,544.0 945.7,545.4 946.3,544.7 946.8,545.4 947.3,544.9 947.8,545.5 948.4,546.1 948.9,547.0 949.4,546.5 949.9,546.6 950.5,546.8 951.0,547.7 951.5,547.8 952.0,548.0 952.5,547.7 953.1,548.4 953.6,548.3 954.1,548.1 954.6,548.9 955.2,548.4 955.7,549.1 956.2,549.5 956.7,549.2 957.2,549.6 957.8,550.2 958.3,550.6 958.8,550.6 959.3,550.7 959.9,550.6 960.4,551.3 960.9,551.9 961.4,552.5 962.0,552.1 962.5,552.4 963.0,552.4 963.5,553.4 964.0,554.0 964.6,553.4 965.1,554.1 965.6,554.9 966.1,554.0 966.7,554.7 967.2,555.3 967.7,555.5 968.2,556.3 968.7,555.9 969.3,556.8 969.8,557.1 970.3,557.3 970.8,558.0 971.4,557.4 971.9,557.4 972.4,558.1 972.9,559.5 973.5,559.1 974.0,559.5 974.5,559.3 975.0,560.6 975.5,560.8 976.1,560.4 976.6,560.0 977.1,560.7 977.6,559.9 978.2,561.3 978.7,561.1 979.2,561.4 979.7,561.8 980.2,561.2 980.8,562.3 981.3,562.3 981.8,562.1 982.3,562.2 982.9,561.6 983.4,562.3 983.9,561.9 984.4,562.3 984.9,561.5 985.5,561.9 986.0,561.6 986.5,562.1 987.0,560.8 987.6,561.0 988.1,560.0 988.6,559.7 989.1,559.2 989.7,558.5 990.2,558.2 990.7,558.2 991.2,557.2 991.7,556.6 992.3,556.5 992.8,555.2 993.3,554.2 993.8,554.1 994.4,553.5 994.9,552.8 995.4,551.9 995.9,552.1 996.4,550.9 997.0,551.1 997.5,550.1 998.0,549.7 998.5,550.0 999.1,548.8 999.6,548.7 1000.1,549.2 1000.6,548.6 1001.2,548.5 1001.7,548.4 1002.2,547.7 1002.7,548.1 1003.2,547.6 1003.8,547.9 1004.3,547.4 1004.8,546.4 1005.3,546.9 1005.9,547.6 1006.4,547.3 1006.9,546.9 1007.4,547.4 1007.9,546.3 1008.5,546.7 1009.0,546.7 1009.5,546.6 1010.0,547.0 1010.6,547.2 1011.1,548.0 1011.6,547.5 1012.1,546.8 1012.7,546.6 1013.2,547.1 1013.7,547.8 1014.2,547.3 1014.7,547.3 1015.3,547.9 1015.8,547.0 1016.3,548.1 1016.8,547.8 1017.4,548.4 1017.9,547.7 1018.4,548.8 1018.9,548.8 1019.4,548.2 1020.0,549.3 1020.5,549.2 1021.0,549.0 1021.5,549.2 1022.1,550.3 1022.6,549.5 1023.1,550.1 1023.6,549.7 1024.1,551.1 1024.7,550.3 1025.2,550.7 1025.7,551.3 1026.2,551.5 1026.8,551.4 1027.3,552.1 1027.8,552.2 1028.3,552.6 1028.9,552.5 1029.4,552.5 1029.9,553.7 1030.4,553.2 1030.9,553.4 1031.5,553.1 1032.0,554.3 1032.5,553.7 1033.0,554.6 1033.6,554.5 1034.1,554.8 1034.6,555.0 1035.1,555.5 1035.6,556.0 1036.2,555.2 1036.7,555.5 1037.2,556.3 1037.7,556.6 1038.3,556.8 1038.8,557.5 1039.3,557.6 1039.8,557.2 1040.4,557.1 1040.9,557.8 1041.4,558.3 1041.9,558.5 1042.4,558.5 1043.0,558.1 1043.5,558.6 1044.0,559.4 1044.5,559.4 1045.1,559.0 1045.6,559.2 1046.1,558.7 1046.6,559.0 1047.1,559.7 1047.7,560.3 1048.2,560.1 1048.7,560.8 1049.2,560.8 1049.8,560.3 1050.3,560.6 1050.8,560.6 1051.3,560.5 1051.9,561.5 1052.4,561.2 1052.9,561.7 1053.4,561.7 1053.9,561.9 1054.5,562.0 1055.0,562.9 1055.5,563.1 1056.0,562.7 1056.6,562.7 1057.1,563.2 1057.6,563.2 1058.1,563.9 1058.6,563.1 1059.2,563.5 1059.7,563.3 1060.2,564.2 1060.7,564.2 1061.3,564.3 1061.8,564.0 1062.3,564.5 1062.8,564.7 1063.3,565.7 1063.9,565.6 1064.4,566.0 1064.9,565.6 1065.4,565.4 1066.0,565.9 1066.5,566.4 1067.0,565.4 1067.5,566.8 1068.1,566.0 1068.6,566.3 1069.1,566.8 1069.6,566.5 1070.1,567.7 1070.7,567.6 1071.2,567.7 1071.7,567.6 1072.2,568.0 1072.8,567.4 1073.3,568.4 1073.8,568.5 1074.3,569.1 1074.8,568.6 1075.4,568.6 1075.9,569.5 1076.4,569.8 1076.9,570.1 1077.5,569.2 1078.0,569.5 1078.5,569.9 1079.0,569.9 1079.6,570.2 1080.1,570.4 1080.6,571.4 1081.1,570.7 1081.6,570.8 1082.2,570.8 1082.7,571.1 1083.2,571.9 1083.7,571.7 1084.3,572.6 1084.8,571.6 1085.3,573.0 1085.8,572.3 1086.3,573.1 1086.9,573.3 1087.4,573.5 1087.9,573.5 1088.4,573.4 1089.0,573.3 1089.5,574.1 1090.0,573.8 1090.5,574.0 1091.1,573.7 1091.6,575.0 1092.1,574.8 1092.6,574.9 1093.1,575.3 1093.7,575.3 1094.2,576.0 1094.7,576.1 1095.2,576.4 1095.8,576.6 1096.3,576.9 1096.8,576.8 1097.3,577.5 1097.8,577.4 1098.4,577.2 1098.9,578.3 1099.4,578.2 1099.9,578.2 1100.5,578.7 1101.0,578.8 1101.5,577.9 1102.0,578.7 1102.5,579.2 1103.1,579.6 1103.6,580.1 1104.1,580.1 1104.6,580.8 1105.2,579.8 1105.7,580.5 1106.2,580.1 1106.7,580.7 1107.3,581.7 1107.8,580.3 1108.3,581.1 1108.8,581.1 1109.3,581.9 1109.9,582.1 1110.4,582.1 1110.9,581.5 1111.4,583.0 1112.0,583.1 1112.5,582.6 1113.0,583.8 1113.5,582.6 1114.0,583.9 1114.6,583.1 1115.1,583.8 1115.6,584.1 1116.1,584.6 1116.7,583.7 1117.2,584.6 1117.7,585.2 1118.2,584.6 1118.8,585.1 1119.3,585.0 1119.8,585.5 1120.3,585.4 1120.8,585.5 1121.4,585.8 1121.9,586.7 1122.4,586.0 1122.9,585.8 1123.5,586.3 1124.0,586.2 1124.5,586.5 1125.0,587.1 1125.5,586.6 1126.1,587.3 1126.6,587.8 1127.1,588.0 1127.6,587.2 1128.2,587.5 1128.7,587.7 1129.2,588.3 1129.7,589.0 1130.3,588.1 1130.8,588.5 1131.3,588.9 1131.8,589.0 1132.3,589.2 1132.9,589.8 1133.4,588.9 1133.9,589.0 1134.4,589.1 1135.0,589.7 1135.5,590.2 1136.0,590.4 1136.5,590.1 1137.0,589.4 1137.6,589.9 1138.1,590.4 1138.6,590.3 1139.1,590.3 1139.7,590.7 1140.2,590.8 1140.7,590.9 1141.2,591.4 1141.7,591.7 1142.3,591.6 1142.8,591.0 1143.3,592.3 1143.8,591.9 1144.4,592.0 1144.9,592.0 1145.4,592.3 1145.9,591.9 1146.5,592.5 1147.0,592.5 1147.5,592.3 1148.0,593.3 1148.5,592.4 1149.1,592.5 1149.6,593.6 1150.1,593.2 1150.6,593.6 1151.2,593.6 1151.7,593.2 1152.2,594.4 1152.7,593.4 1153.2,593.7 1153.8,594.0 1154.3,593.2 1154.8,594.4 1155.3,595.0 1155.9,594.3 1156.4,594.5 1156.9,594.9 1157.4,595.7 1158.0,595.7 1158.5,594.4 1159.0,595.8 1159.5,594.7 1160.0,595.0 1160.6,596.4 1161.1,595.5 1161.6,595.5 1162.1,595.4 1162.7,595.4 1163.2,595.6 1163.7,596.2 1164.2,596.4 1164.7,596.5 1165.3,596.3 1165.8,597.0 1166.3,597.2 1166.8,596.0 1167.4,596.6 1167.9,596.7 1168.4,597.3 1168.9,597.7 1169.5,597.7 1170.0,597.9 1170.5,598.0 1171.0,598.5 1171.5,597.7 1172.1,598.0 1172.6,597.9 1173.1,598.3 1173.6,598.8 1174.2,597.8 1174.7,598.3 1175.2,598.6" fill="none" stroke="#e6157f" stroke-width="2.2" stroke-linejoin="round" />
<polyline points="783.2,514.3 783.7,522.8 784.2,531.3 784.8,539.5 785.3,544.2 785.8,546.5 786.3,548.7 786.9,550.6 787.4,551.9 787.9,553.4 788.4,554.4 788.9,555.6 789.5,556.6 790.0,557.3 790.5,557.8 791.0,558.5 791.6,558.8 792.1,559.3 792.6,559.6 793.1,560.3 793.7,560.6 794.2,560.9 794.7,561.2 795.2,561.8 795.7,561.7 796.3,562.3 796.8,562.2 797.3,562.6 797.8,562.7 798.4,562.9 798.9,562.8 799.4,562.4 799.9,562.7 800.4,562.3 801.0,562.1 801.5,562.1 802.0,561.5 802.5,561.1 803.1,561.0 803.6,560.5 804.1,559.8 804.6,559.4 805.2,558.5 805.7,558.2 806.2,557.8 806.7,556.9 807.2,556.4 807.8,555.4 808.3,554.7 808.8,554.1 809.3,553.4 809.9,552.4 810.4,551.6 810.9,550.3 811.4,549.3 811.9,547.8 812.5,546.2 813.0,544.6 813.5,542.3 814.0,540.6 814.6,539.1 815.1,537.0 815.6,535.5 816.1,533.3 816.7,531.5 817.2,530.0 817.7,528.1 818.2,526.0 818.7,523.7 819.3,521.6 819.8,519.3 820.3,517.0 820.8,515.0 821.4,512.9 821.9,511.4 822.4,510.0 822.9,509.4 823.4,508.7 824.0,508.6 824.5,508.8 825.0,509.0 825.5,509.3 826.1,510.0 826.6,510.2 827.1,510.8 827.6,511.7 828.1,512.2 828.7,513.2 829.2,514.1 829.7,514.8 830.2,515.3 830.8,516.4 831.3,517.4 831.8,518.0 832.3,518.8 832.9,519.6 833.4,520.1 833.9,521.0 834.4,521.5 834.9,521.9 835.5,522.0 836.0,522.6 836.5,523.2 837.0,523.6 837.6,523.9 838.1,524.3 838.6,525.0 839.1,525.2 839.6,525.4 840.2,526.0 840.7,526.5 841.2,526.8 841.7,527.2 842.3,527.4 842.8,527.8 843.3,528.2 843.8,528.4 844.4,528.6 844.9,529.0 845.4,529.1 845.9,529.5 846.4,529.4 847.0,529.5 847.5,530.0 848.0,530.0 848.5,530.3 849.1,530.5 849.6,530.7 850.1,530.8 850.6,530.9 851.1,531.4 851.7,531.2 852.2,531.5 852.7,531.8 853.2,531.8 853.8,531.8 854.3,532.0 854.8,532.1 855.3,532.3 855.9,532.4 856.4,532.2 856.9,532.6 857.4,532.4 857.9,532.5 858.5,532.6 859.0,532.6 859.5,532.6 860.0,532.5 860.6,532.4 861.1,532.3 861.6,532.4 862.1,532.3 862.6,531.8 863.2,531.7 863.7,531.4 864.2,531.1 864.7,531.0 865.3,530.3 865.8,530.2 866.3,529.9 866.8,529.6 867.3,529.0 867.9,528.6 868.4,528.1 868.9,527.8 869.4,527.6 870.0,527.2 870.5,526.4 871.0,526.3 871.5,525.8 872.1,525.3 872.6,524.8 873.1,524.3 873.6,524.1 874.1,523.6 874.7,523.3 875.2,522.5 875.7,522.2 876.2,521.9 876.8,520.9 877.3,520.5 877.8,520.0 878.3,519.3 878.8,518.6 879.4,517.8 879.9,517.0 880.4,516.4 880.9,515.5 881.5,515.1 882.0,514.0 882.5,513.0 883.0,512.2 883.6,511.4 884.1,510.8 884.6,510.1 885.1,509.1 885.6,507.9 886.2,507.4 886.7,506.8 887.2,506.1 887.7,505.2 888.3,504.5 888.8,503.7 889.3,503.1 889.8,502.8 890.3,501.9 890.9,501.3 891.4,501.0 891.9,500.6 892.4,500.1 893.0,499.7 893.5,498.7 894.0,498.3 894.5,498.1 895.1,497.3 895.6,497.2 896.1,496.7 896.6,496.3 897.1,495.8 897.7,495.3 898.2,494.7 898.7,494.6 899.2,494.4 899.8,494.1 900.3,493.9 900.8,493.6 901.3,493.7 901.8,493.4 902.4,493.4 902.9,493.3 903.4,493.7 903.9,493.6 904.5,493.8 905.0,494.1 905.5,494.6 906.0,494.6 906.5,494.7 907.1,495.2 907.6,495.2 908.1,495.8 908.6,496.4 909.2,496.7 909.7,497.0 910.2,497.4 910.7,497.9 911.3,498.2 911.8,498.2 912.3,499.0 912.8,499.6 913.3,500.2 913.9,500.9 914.4,501.2 914.9,501.9 915.4,502.5 916.0,503.2 916.5,503.7 917.0,504.3 917.5,505.2 918.0,506.0 918.6,506.5 919.1,507.0 919.6,507.8 920.1,508.5 920.7,509.4 921.2,510.0 921.7,510.5 922.2,511.2 922.8,512.0 923.3,512.6 923.8,513.3 924.3,514.1 924.8,515.0 925.4,515.8 925.9,516.4 926.4,517.2 926.9,517.9 927.5,518.5 928.0,519.5 928.5,520.2 929.0,520.8 929.5,521.7 930.1,522.6 930.6,523.2 931.1,523.7 931.6,524.7 932.2,525.5 932.7,526.5 933.2,526.9 933.7,528.1 934.3,528.8 934.8,529.5 935.3,530.0 935.8,531.1 936.3,532.0 936.9,532.8 937.4,533.4 937.9,534.2 938.4,534.8 939.0,535.4 939.5,535.8 940.0,536.7 940.5,536.9 941.0,537.9 941.6,537.8 942.1,538.7 942.6,539.1 943.1,539.6 943.7,539.9 944.2,540.4 944.7,540.9 945.2,541.4 945.7,541.8 946.3,542.1 946.8,542.6 947.3,543.0 947.8,543.5 948.4,543.6 948.9,543.9 949.4,544.5 949.9,544.6 950.5,545.1 951.0,545.4 951.5,546.0 952.0,546.0 952.5,546.3 953.1,546.5 953.6,547.2 954.1,547.4 954.6,547.6 955.2,548.0 955.7,548.4 956.2,548.6 956.7,548.8 957.2,549.2 957.8,549.6 958.3,549.7 958.8,550.3 959.3,550.4 959.9,550.8 960.4,551.1 960.9,551.2 961.4,551.4 962.0,551.8 962.5,552.2 963.0,552.3 963.5,552.7 964.0,553.4 964.6,553.5 965.1,553.9 965.6,554.2 966.1,555.0 966.7,554.5 967.2,555.0 967.7,554.7 968.2,555.8 968.7,556.0 969.3,556.7 969.8,556.3 970.3,556.5 970.8,556.6 971.4,557.2 971.9,558.2 972.4,557.7 972.9,558.9 973.5,559.0 974.0,559.1 974.5,558.5 975.0,559.9 975.5,560.2 976.1,560.0 976.6,559.8 977.1,560.3 977.6,560.5 978.2,561.3 978.7,561.3 979.2,560.7 979.7,561.4 980.2,561.8 980.8,561.8 981.3,561.2 981.8,561.2 982.3,561.8 982.9,562.3 983.4,561.4 983.9,562.3 984.4,562.0 984.9,561.9 985.5,562.1 986.0,562.1 986.5,561.4 987.0,561.9 987.6,562.6 988.1,562.2 988.6,561.4 989.1,561.9 989.7,562.2 990.2,561.4 990.7,561.5 991.2,561.7 991.7,561.4 992.3,561.7 992.8,561.4 993.3,561.2 993.8,561.6 994.4,560.8 994.9,561.7 995.4,560.4 995.9,561.1 996.4,560.9 997.0,561.5 997.5,560.6 998.0,561.3 998.5,560.6 999.1,560.8 999.6,561.1 1000.1,559.9 1000.6,560.5 1001.2,560.7 1001.7,560.6 1002.2,560.2 1002.7,560.2 1003.2,559.8 1003.8,560.2 1004.3,559.8 1004.8,560.0 1005.3,560.0 1005.9,559.3 1006.4,559.9 1006.9,560.1 1007.4,559.1 1007.9,559.6 1008.5,559.1 1009.0,559.1 1009.5,559.1 1010.0,559.3 1010.6,558.7 1011.1,559.8 1011.6,558.9 1012.1,559.5 1012.7,559.3 1013.2,559.7 1013.7,559.2 1014.2,559.4 1014.7,559.8 1015.3,559.7 1015.8,559.5 1016.3,559.9 1016.8,558.9 1017.4,559.7 1017.9,560.2 1018.4,559.7 1018.9,560.1 1019.4,560.5 1020.0,560.5 1020.5,561.1 1021.0,560.2 1021.5,560.0 1022.1,560.8 1022.6,561.2 1023.1,561.6 1023.6,561.5 1024.1,561.1 1024.7,561.5 1025.2,561.4 1025.7,561.8 1026.2,561.6 1026.8,561.8 1027.3,561.7 1027.8,561.9 1028.3,562.0 1028.9,562.5 1029.4,562.4 1029.9,562.9 1030.4,562.7 1030.9,562.6 1031.5,562.6 1032.0,563.4 1032.5,563.4 1033.0,563.3 1033.6,563.7 1034.1,563.4 1034.6,563.5 1035.1,563.8 1035.6,563.0 1036.2,563.9 1036.7,563.8 1037.2,564.7 1037.7,563.8 1038.3,564.1 1038.8,564.2 1039.3,565.3 1039.8,564.5 1040.4,564.9 1040.9,564.5 1041.4,564.8 1041.9,565.1 1042.4,565.1 1043.0,564.5 1043.5,564.7 1044.0,565.9 1044.5,565.5 1045.1,565.1 1045.6,565.6 1046.1,565.4 1046.6,565.8 1047.1,565.1 1047.7,565.5 1048.2,566.0 1048.7,565.4 1049.2,565.8 1049.8,565.5 1050.3,566.5 1050.8,567.0 1051.3,566.1 1051.9,566.5 1052.4,567.3 1052.9,568.3 1053.4,566.8 1053.9,566.9 1054.5,567.3 1055.0,567.3 1055.5,567.1 1056.0,567.8 1056.6,566.8 1057.1,568.0 1057.6,567.5 1058.1,567.6 1058.6,567.9 1059.2,568.1 1059.7,567.5 1060.2,568.6 1060.7,568.1 1061.3,567.5 1061.8,568.6 1062.3,569.0 1062.8,568.6 1063.3,569.7 1063.9,568.9 1064.4,569.2 1064.9,569.1 1065.4,569.2 1066.0,568.7 1066.5,569.0 1067.0,569.5 1067.5,568.7 1068.1,569.7 1068.6,568.8 1069.1,569.6 1069.6,569.9 1070.1,569.8 1070.7,569.1 1071.2,569.7 1071.7,569.9 1072.2,570.6 1072.8,570.0 1073.3,570.2 1073.8,570.3 1074.3,570.6 1074.8,571.0 1075.4,569.9 1075.9,570.9 1076.4,570.3 1076.9,570.4 1077.5,570.6 1078.0,570.7 1078.5,570.6 1079.0,571.1 1079.6,571.0 1080.1,570.9 1080.6,571.0 1081.1,571.3 1081.6,572.4 1082.2,571.3 1082.7,571.9 1083.2,571.0 1083.7,571.0 1084.3,571.5 1084.8,571.5 1085.3,572.5 1085.8,571.8 1086.3,572.1 1086.9,571.1 1087.4,572.5 1087.9,571.1 1088.4,572.1 1089.0,573.0 1089.5,571.4 1090.0,572.3 1090.5,572.2 1091.1,571.9 1091.6,573.1 1092.1,572.7 1092.6,572.5 1093.1,572.1 1093.7,572.7 1094.2,572.5 1094.7,573.5 1095.2,572.6 1095.8,573.2 1096.3,573.1 1096.8,572.9 1097.3,572.7 1097.8,573.4 1098.4,573.0 1098.9,573.3 1099.4,573.0 1099.9,573.5 1100.5,572.8 1101.0,573.8 1101.5,573.9 1102.0,573.0 1102.5,573.8 1103.1,573.3 1103.6,573.4 1104.1,574.4 1104.6,573.9 1105.2,574.0 1105.7,573.9 1106.2,574.5 1106.7,573.9 1107.3,573.9 1107.8,574.5 1108.3,574.1 1108.8,574.1 1109.3,574.9 1109.9,574.3 1110.4,573.9 1110.9,574.0 1111.4,574.8 1112.0,574.8 1112.5,574.5 1113.0,574.4 1113.5,574.2 1114.0,574.6 1114.6,574.3 1115.1,575.0 1115.6,574.0 1116.1,574.9 1116.7,575.3 1117.2,575.1 1117.7,575.7 1118.2,575.3 1118.8,575.2 1119.3,574.9 1119.8,574.7 1120.3,575.6 1120.8,575.6 1121.4,575.0 1121.9,574.9 1122.4,575.1 1122.9,575.3 1123.5,576.0 1124.0,575.8 1124.5,576.2 1125.0,575.9 1125.5,575.2 1126.1,575.1 1126.6,575.9 1127.1,575.6 1127.6,575.3 1128.2,576.3 1128.7,576.5 1129.2,576.3 1129.7,576.9 1130.3,575.8 1130.8,576.2 1131.3,576.3 1131.8,576.2 1132.3,576.1 1132.9,576.3 1133.4,576.9 1133.9,576.1 1134.4,576.7 1135.0,576.4 1135.5,576.8 1136.0,576.6 1136.5,577.2 1137.0,576.6 1137.6,576.8 1138.1,576.3 1138.6,577.1 1139.1,577.2 1139.7,576.6 1140.2,577.7 1140.7,576.7 1141.2,577.0 1141.7,577.2 1142.3,577.0 1142.8,577.2 1143.3,577.5 1143.8,576.9 1144.4,577.6 1144.9,577.2 1145.4,577.4 1145.9,577.7 1146.5,577.7 1147.0,577.3 1147.5,577.6 1148.0,577.0 1148.5,577.2 1149.1,577.8 1149.6,577.2 1150.1,578.7 1150.6,577.0 1151.2,578.3 1151.7,578.3 1152.2,577.4 1152.7,578.6 1153.2,578.2 1153.8,577.8 1154.3,578.9 1154.8,578.1 1155.3,577.7 1155.9,578.4 1156.4,577.6 1156.9,578.6 1157.4,577.7 1158.0,578.1 1158.5,578.3 1159.0,578.5 1159.5,578.8 1160.0,578.0 1160.6,579.0 1161.1,578.5 1161.6,578.3 1162.1,578.4 1162.7,578.4 1163.2,579.0 1163.7,579.3 1164.2,578.7 1164.7,578.9 1165.3,578.4 1165.8,579.7 1166.3,578.9 1166.8,578.8 1167.4,579.2 1167.9,579.7 1168.4,579.1 1168.9,578.7 1169.5,579.5 1170.0,579.6 1170.5,579.7 1171.0,579.7 1171.5,580.1 1172.1,578.1 1172.6,579.5 1173.1,579.0 1173.6,579.0 1174.2,579.8 1174.7,579.3 1175.2,578.9" fill="none" stroke="#7a1ee6" stroke-width="2.2" stroke-linejoin="round" />
<text font-size="11.7" fill="#8a2be2" transform="translate(844.3,500.5) rotate(-90) scale(1,1.05)">SHF-optimized</text>
<text font-size="11.7" fill="#8a2be2" transform="translate(860.3,500.5) rotate(-90) scale(1,1.05)">interface contact</text>
<text transform="translate(822.4,553.8) scale(1,1.07)" font-size="11.4" fill="#e4559a" text-anchor="start" font-weight="normal" stroke="#e4559a" stroke-width="0.3">Suppressed</text>
<text transform="translate(822.4,568.0) scale(1,1.07)" font-size="11.4" fill="#e4559a" text-anchor="start" font-weight="normal" stroke="#e4559a" stroke-width="0.3">ion diffusion</text>
<line x1="1184.5" y1="420.4" x2="1213" y2="420.4" stroke="#9a9a9a" stroke-width="1.3" stroke-dasharray="5,4"/>
<text transform="translate(1217.3,425.4) scale(1,1.08)" font-size="12.5" fill="#2a2a2a">Ag<tspan font-size="8" dy="-6">-</tspan></text>
<line x1="1184.5" y1="439.6" x2="1213" y2="439.6" stroke="#2f8ee0" stroke-width="1.3" stroke-dasharray="4,3"/>
<text transform="translate(1217.3,444.6) scale(1,1.08)" font-size="12.5" fill="#2a2a2a">C<tspan font-size="8" dy="-6">-</tspan><tspan font-size="8" dx="-4" dy="11">60</tspan></text>
<line x1="1184.5" y1="461.3" x2="1213" y2="461.3" stroke="#f2a24e" stroke-width="1.3" stroke-dasharray="4,3"/>
<text transform="translate(1217.3,466.3) scale(1,1.08)" font-size="12.5" fill="#2a2a2a">PbI<tspan font-size="8" dy="-6">-</tspan><tspan font-size="8" dx="-4" dy="11">2</tspan></text>
<line x1="1184.5" y1="483.1" x2="1213" y2="483.1" stroke="#7a2a2a" stroke-width="1.3" stroke-dasharray="4,3"/>
<text transform="translate(1217.3,488.1) scale(1,1.08)" font-size="12.5" fill="#2a2a2a">I<tspan font-size="8" dy="-6">-</tspan></text>
<line x1="1184.5" y1="503.5" x2="1213" y2="503.5" stroke="#2a9a93" stroke-width="1.3" stroke-dasharray="4,3"/>
<text transform="translate(1217.3,508.5) scale(1,1.08)" font-size="12.5" fill="#2a2a2a">PO<tspan font-size="8" dy="-6">-</tspan><tspan font-size="8" dx="-4" dy="11">2</tspan></text>
<line x1="1184.5" y1="525.3" x2="1213" y2="525.3" stroke="#2c2c7e" stroke-width="1.3" stroke-dasharray="4,3"/>
<text transform="translate(1217.3,530.3) scale(1,1.08)" font-size="12.5" fill="#2a2a2a">InO<tspan font-size="8" dy="-6">-</tspan><tspan font-size="8" dx="-4" dy="11">2</tspan></text>
<line x1="1184.5" y1="548.5" x2="1213" y2="548.5" stroke="#e6157f" stroke-width="2.2" />
<text transform="translate(1217.3,553.5) scale(1,1.08)" font-size="12.5" fill="#2a2a2a">AgI<tspan font-size="8" dy="-6">-</tspan><tspan font-size="8" dx="-4" dy="11">2</tspan></text>
<line x1="1184.5" y1="571.1" x2="1213" y2="571.1" stroke="#7a1ee6" stroke-width="2.2" />
<text transform="translate(1217.3,576.1) scale(1,1.08)" font-size="12.5" fill="#2a2a2a">F<tspan font-size="8" dy="-6">-</tspan></text>
<text x="978.7" y="716.2" font-size="20.45" fill="#222" text-anchor="middle" font-weight="normal" >Sputter time (s)</text>
<text x="742.3" y="552.7" font-size="20.25" fill="#222" text-anchor="middle" font-weight="normal" transform="rotate(-90 742.3 552.7)">Intensity (counts)</text>
<text x="730.5" y="401.5" font-size="30" fill="#000" text-anchor="start" font-weight="bold" >e</text>
<rect x="752" y="781.5" width="217" height="123.5" fill="none" stroke="#b7bfcc" stroke-width="1.1"/>
<rect x="759.5" y="787.0" width="202.0" height="112.5" fill="none" stroke="#b7bfcc" stroke-width="1"/>
<line x1="752" y1="781.5" x2="759.5" y2="787" stroke="#b7bfcc" stroke-width="1" />
<line x1="969" y1="781.5" x2="961.5" y2="787" stroke="#b7bfcc" stroke-width="1" />
<line x1="752" y1="905" x2="759.5" y2="899.5" stroke="#b7bfcc" stroke-width="1" />
<line x1="969" y1="905" x2="961.5" y2="899.5" stroke="#b7bfcc" stroke-width="1" />
<use href="#c60_0" x="773.7" y="775.1" width="34.5" height="34.5"/>
<use href="#c60_1" x="755.0" y="803.1" width="34.5" height="34.5"/>
<use href="#c60_2" x="790.0" y="803.1" width="34.5" height="34.5"/>
<use href="#c60_3" x="774.5" y="831.1" width="34.5" height="34.5"/>
<use href="#c60_4" x="822.7" y="776.7" width="34.5" height="34.5"/>
<use href="#c60_5" x="855.3" y="776.7" width="34.5" height="34.5"/>
<use href="#c60_0" x="839.8" y="804.7" width="34.5" height="34.5"/>
<use href="#c60_1" x="824.2" y="846.7" width="34.5" height="34.5"/>
<use href="#c60_2" x="853.8" y="857.6" width="34.5" height="34.5"/>
<use href="#c60_3" x="754.2" y="870.0" width="34.5" height="34.5"/>
<use href="#c60_4" x="782.2" y="870.0" width="34.5" height="34.5"/>
<use href="#c60_5" x="825.8" y="874.7" width="34.5" height="34.5"/>
<use href="#c60_0" x="903.7" y="783.2" width="34.5" height="34.5"/>
<use href="#c60_1" x="930.4" y="777.6" width="34.5" height="34.5"/>
<use href="#c60_2" x="893.8" y="812.8" width="34.5" height="34.5"/>
<use href="#c60_3" x="924.8" y="807.1" width="34.5" height="34.5"/>
<use href="#c60_4" x="919.2" y="847.8" width="34.5" height="34.5"/>
<use href="#c60_5" x="899.5" y="868.9" width="34.5" height="34.5"/>
<use href="#c60_0" x="927.6" y="880.1" width="34.5" height="34.5"/>
<ellipse cx="822" cy="845.5" rx="19.5" ry="10" fill="url(#ell)" transform="rotate(-55 822 845.5)"/>
<ellipse cx="886" cy="849" rx="19.5" ry="10" fill="url(#ell)" transform="rotate(52 886 849)"/>
<path d="M813,783 C812,800 830,805 830,822" fill="none" stroke="url(#pinkarr)" stroke-width="3.2"/>
<polygon points="824.5,818 835.5,818 830.5,829" fill="#f26a5a"/>
<path d="M902,783 C903,800 884,805 886,822" fill="none" stroke="url(#pinkarr)" stroke-width="3.2"/>
<polygon points="880.5,818 891.5,818 886,829" fill="#f26a5a"/>
<path d="M821,915 C823,900 815,885 818,872" fill="none" stroke="#3cc8c8" stroke-width="3.2"/>
<polygon points="812.5,875 823.5,875 818,864" fill="#3cc8c8"/>
<path d="M888,915 C886,900 895,888 891,875" fill="none" stroke="#3cc8c8" stroke-width="3.2"/>
<polygon points="885.5,878 896.5,878 891,867" fill="#3cc8c8"/>
<clipPath id="latclip1"><rect x="751" y="915" width="219" height="108"/></clipPath>
<g clip-path="url(#latclip1)">
<polygon points="767.8,917.4 750.6,936.3 768.8,938.3" fill="#fde2a6"/>
<polygon points="767.8,917.4 785.0,936.3 768.8,938.3" fill="#f6b676"/>
<polygon points="750.6,936.3 767.8,955.2 768.8,938.3" fill="#eea262"/>
<polygon points="785.0,936.3 767.8,955.2 768.8,938.3" fill="#cf8848"/>
<polygon points="798.6,917.4 781.4,936.3 799.6,938.3" fill="#fde2a6"/>
<polygon points="798.6,917.4 815.8,936.3 799.6,938.3" fill="#f6b676"/>
<polygon points="781.4,936.3 798.6,955.2 799.6,938.3" fill="#eea262"/>
<polygon points="815.8,936.3 798.6,955.2 799.6,938.3" fill="#cf8848"/>
<polygon points="829.4,917.4 812.2,936.3 830.4,938.3" fill="#fde2a6"/>
<polygon points="829.4,917.4 846.6,936.3 830.4,938.3" fill="#f6b676"/>
<polygon points="812.2,936.3 829.4,955.2 830.4,938.3" fill="#eea262"/>
<polygon points="846.6,936.3 829.4,955.2 830.4,938.3" fill="#cf8848"/>
<polygon points="860.2,917.4 843.0,936.3 861.2,938.3" fill="#fde2a6"/>
<polygon points="860.2,917.4 877.4,936.3 861.2,938.3" fill="#f6b676"/>
<polygon points="843.0,936.3 860.2,955.2 861.2,938.3" fill="#eea262"/>
<polygon points="877.4,936.3 860.2,955.2 861.2,938.3" fill="#cf8848"/>
<polygon points="891.0,917.4 873.8,936.3 892.0,938.3" fill="#fde2a6"/>
<polygon points="891.0,917.4 908.2,936.3 892.0,938.3" fill="#f6b676"/>
<polygon points="873.8,936.3 891.0,955.2 892.0,938.3" fill="#eea262"/>
<polygon points="908.2,936.3 891.0,955.2 892.0,938.3" fill="#cf8848"/>
<polygon points="921.8,917.4 904.6,936.3 922.8,938.3" fill="#fde2a6"/>
<polygon points="921.8,917.4 939.0,936.3 922.8,938.3" fill="#f6b676"/>
<polygon points="904.6,936.3 921.8,955.2 922.8,938.3" fill="#eea262"/>
<polygon points="939.0,936.3 921.8,955.2 922.8,938.3" fill="#cf8848"/>
<polygon points="952.6,917.4 935.4,936.3 953.6,938.3" fill="#fde2a6"/>
<polygon points="952.6,917.4 969.8,936.3 953.6,938.3" fill="#f6b676"/>
<polygon points="935.4,936.3 952.6,955.2 953.6,938.3" fill="#eea262"/>
<polygon points="969.8,936.3 952.6,955.2 953.6,938.3" fill="#cf8848"/>
<polygon points="767.8,951.1 750.6,970.0 768.8,972.0" fill="#fde2a6"/>
<polygon points="767.8,951.1 785.0,970.0 768.8,972.0" fill="#f6b676"/>
<polygon points="750.6,970.0 767.8,988.9 768.8,972.0" fill="#eea262"/>
<polygon points="785.0,970.0 767.8,988.9 768.8,972.0" fill="#cf8848"/>
<polygon points="798.6,951.1 781.4,970.0 799.6,972.0" fill="#fde2a6"/>
<polygon points="798.6,951.1 815.8,970.0 799.6,972.0" fill="#f6b676"/>
<polygon points="781.4,970.0 798.6,988.9 799.6,972.0" fill="#eea262"/>
<polygon points="815.8,970.0 798.6,988.9 799.6,972.0" fill="#cf8848"/>
<polygon points="829.4,951.1 812.2,970.0 830.4,972.0" fill="#fde2a6"/>
<polygon points="829.4,951.1 846.6,970.0 830.4,972.0" fill="#f6b676"/>
<polygon points="812.2,970.0 829.4,988.9 830.4,972.0" fill="#eea262"/>
<polygon points="846.6,970.0 829.4,988.9 830.4,972.0" fill="#cf8848"/>
<polygon points="860.2,951.1 843.0,970.0 861.2,972.0" fill="#fde2a6"/>
<polygon points="860.2,951.1 877.4,970.0 861.2,972.0" fill="#f6b676"/>
<polygon points="843.0,970.0 860.2,988.9 861.2,972.0" fill="#eea262"/>
<polygon points="877.4,970.0 860.2,988.9 861.2,972.0" fill="#cf8848"/>
<polygon points="891.0,951.1 873.8,970.0 892.0,972.0" fill="#fde2a6"/>
<polygon points="891.0,951.1 908.2,970.0 892.0,972.0" fill="#f6b676"/>
<polygon points="873.8,970.0 891.0,988.9 892.0,972.0" fill="#eea262"/>
<polygon points="908.2,970.0 891.0,988.9 892.0,972.0" fill="#cf8848"/>
<polygon points="921.8,951.1 904.6,970.0 922.8,972.0" fill="#fde2a6"/>
<polygon points="921.8,951.1 939.0,970.0 922.8,972.0" fill="#f6b676"/>
<polygon points="904.6,970.0 921.8,988.9 922.8,972.0" fill="#eea262"/>
<polygon points="939.0,970.0 921.8,988.9 922.8,972.0" fill="#cf8848"/>
<polygon points="952.6,951.1 935.4,970.0 953.6,972.0" fill="#fde2a6"/>
<polygon points="952.6,951.1 969.8,970.0 953.6,972.0" fill="#f6b676"/>
<polygon points="935.4,970.0 952.6,988.9 953.6,972.0" fill="#eea262"/>
<polygon points="969.8,970.0 952.6,988.9 953.6,972.0" fill="#cf8848"/>
<polygon points="767.8,984.9 750.6,1003.8 768.8,1005.8" fill="#fde2a6"/>
<polygon points="767.8,984.9 785.0,1003.8 768.8,1005.8" fill="#f6b676"/>
<polygon points="750.6,1003.8 767.8,1022.7 768.8,1005.8" fill="#eea262"/>
<polygon points="785.0,1003.8 767.8,1022.7 768.8,1005.8" fill="#cf8848"/>
<polygon points="798.6,984.9 781.4,1003.8 799.6,1005.8" fill="#fde2a6"/>
<polygon points="798.6,984.9 815.8,1003.8 799.6,1005.8" fill="#f6b676"/>
<polygon points="781.4,1003.8 798.6,1022.7 799.6,1005.8" fill="#eea262"/>
<polygon points="815.8,1003.8 798.6,1022.7 799.6,1005.8" fill="#cf8848"/>
<polygon points="829.4,984.9 812.2,1003.8 830.4,1005.8" fill="#fde2a6"/>
<polygon points="829.4,984.9 846.6,1003.8 830.4,1005.8" fill="#f6b676"/>
<polygon points="812.2,1003.8 829.4,1022.7 830.4,1005.8" fill="#eea262"/>
<polygon points="846.6,1003.8 829.4,1022.7 830.4,1005.8" fill="#cf8848"/>
<polygon points="860.2,984.9 843.0,1003.8 861.2,1005.8" fill="#fde2a6"/>
<polygon points="860.2,984.9 877.4,1003.8 861.2,1005.8" fill="#f6b676"/>
<polygon points="843.0,1003.8 860.2,1022.7 861.2,1005.8" fill="#eea262"/>
<polygon points="877.4,1003.8 860.2,1022.7 861.2,1005.8" fill="#cf8848"/>
<polygon points="891.0,984.9 873.8,1003.8 892.0,1005.8" fill="#fde2a6"/>
<polygon points="891.0,984.9 908.2,1003.8 892.0,1005.8" fill="#f6b676"/>
<polygon points="873.8,1003.8 891.0,1022.7 892.0,1005.8" fill="#eea262"/>
<polygon points="908.2,1003.8 891.0,1022.7 892.0,1005.8" fill="#cf8848"/>
<polygon points="921.8,984.9 904.6,1003.8 922.8,1005.8" fill="#fde2a6"/>
<polygon points="921.8,984.9 939.0,1003.8 922.8,1005.8" fill="#f6b676"/>
<polygon points="904.6,1003.8 921.8,1022.7 922.8,1005.8" fill="#eea262"/>
<polygon points="939.0,1003.8 921.8,1022.7 922.8,1005.8" fill="#cf8848"/>
<polygon points="952.6,984.9 935.4,1003.8 953.6,1005.8" fill="#fde2a6"/>
<polygon points="952.6,984.9 969.8,1003.8 953.6,1005.8" fill="#f6b676"/>
<polygon points="935.4,1003.8 952.6,1022.7 953.6,1005.8" fill="#eea262"/>
<polygon points="969.8,1003.8 952.6,1022.7 953.6,1005.8" fill="#cf8848"/>
<line x1="787.2" y1="948.1" x2="784.7" y2="955.6" stroke="#6a30b8" stroke-width="7" stroke-linecap="round"/>
<circle cx="787.2" cy="948.1" r="4" fill="url(#dpb)"/>
<circle cx="784.7" cy="956.1" r="5" fill="url(#pkb)"/>
<line x1="818.0" y1="948.1" x2="815.5" y2="955.6" stroke="#6a30b8" stroke-width="7" stroke-linecap="round"/>
<circle cx="818.0" cy="948.1" r="4" fill="url(#dpb)"/>
<circle cx="815.5" cy="956.1" r="5" fill="url(#pkb)"/>
<line x1="848.8" y1="948.1" x2="846.3" y2="955.6" stroke="#6a30b8" stroke-width="7" stroke-linecap="round"/>
<circle cx="848.8" cy="948.1" r="4" fill="url(#dpb)"/>
<circle cx="846.3" cy="956.1" r="5" fill="url(#pkb)"/>
<line x1="879.6" y1="948.1" x2="877.1" y2="955.6" stroke="#6a30b8" stroke-width="7" stroke-linecap="round"/>
<circle cx="879.6" cy="948.1" r="4" fill="url(#dpb)"/>
<circle cx="877.1" cy="956.1" r="5" fill="url(#pkb)"/>
<line x1="910.4" y1="948.1" x2="907.9" y2="955.6" stroke="#6a30b8" stroke-width="7" stroke-linecap="round"/>
<circle cx="910.4" cy="948.1" r="4" fill="url(#dpb)"/>
<circle cx="907.9" cy="956.1" r="5" fill="url(#pkb)"/>
<line x1="941.2" y1="948.1" x2="938.7" y2="955.6" stroke="#6a30b8" stroke-width="7" stroke-linecap="round"/>
<circle cx="941.2" cy="948.1" r="4" fill="url(#dpb)"/>
<circle cx="938.7" cy="956.1" r="5" fill="url(#pkb)"/>
<line x1="787.2" y1="981.9" x2="784.7" y2="989.4" stroke="#6a30b8" stroke-width="7" stroke-linecap="round"/>
<circle cx="787.2" cy="981.9" r="4" fill="url(#dpb)"/>
<circle cx="784.7" cy="989.9" r="5" fill="url(#pkb)"/>
<line x1="818.0" y1="981.9" x2="815.5" y2="989.4" stroke="#6a30b8" stroke-width="7" stroke-linecap="round"/>
<circle cx="818.0" cy="981.9" r="4" fill="url(#dpb)"/>
<circle cx="815.5" cy="989.9" r="5" fill="url(#pkb)"/>
<line x1="848.8" y1="981.9" x2="846.3" y2="989.4" stroke="#6a30b8" stroke-width="7" stroke-linecap="round"/>
<circle cx="848.8" cy="981.9" r="4" fill="url(#dpb)"/>
<circle cx="846.3" cy="989.9" r="5" fill="url(#pkb)"/>
<line x1="879.6" y1="981.9" x2="877.1" y2="989.4" stroke="#6a30b8" stroke-width="7" stroke-linecap="round"/>
<circle cx="879.6" cy="981.9" r="4" fill="url(#dpb)"/>
<circle cx="877.1" cy="989.9" r="5" fill="url(#pkb)"/>
<line x1="910.4" y1="981.9" x2="907.9" y2="989.4" stroke="#6a30b8" stroke-width="7" stroke-linecap="round"/>
<circle cx="910.4" cy="981.9" r="4" fill="url(#dpb)"/>
<circle cx="907.9" cy="989.9" r="5" fill="url(#pkb)"/>
<line x1="941.2" y1="981.9" x2="938.7" y2="989.4" stroke="#6a30b8" stroke-width="7" stroke-linecap="round"/>
<circle cx="941.2" cy="981.9" r="4" fill="url(#dpb)"/>
<circle cx="938.7" cy="989.9" r="5" fill="url(#pkb)"/>
<circle cx="767.8" cy="919.4" r="2.8" fill="url(#cyb)"/>
<circle cx="767.8" cy="953.1" r="2.8" fill="url(#cyb)"/>
<circle cx="768.8" cy="937.3" r="2.8" fill="url(#cyb)"/>
<circle cx="752.4" cy="931.8" r="2.3" fill="url(#cyb)"/>
<circle cx="752.4" cy="936.3" r="2.3" fill="url(#cyb)"/>
<circle cx="752.4" cy="940.8" r="2.3" fill="url(#cyb)"/>
<circle cx="798.6" cy="919.4" r="2.8" fill="url(#cyb)"/>
<circle cx="798.6" cy="953.1" r="2.8" fill="url(#cyb)"/>
<circle cx="799.6" cy="937.3" r="2.8" fill="url(#cyb)"/>
<circle cx="783.2" cy="931.8" r="2.3" fill="url(#cyb)"/>
<circle cx="783.2" cy="936.3" r="2.3" fill="url(#cyb)"/>
<circle cx="783.2" cy="940.8" r="2.3" fill="url(#cyb)"/>
<circle cx="829.4" cy="919.4" r="2.8" fill="url(#cyb)"/>
<circle cx="829.4" cy="953.1" r="2.8" fill="url(#cyb)"/>
<circle cx="830.4" cy="937.3" r="2.8" fill="url(#cyb)"/>
<circle cx="814.0" cy="931.8" r="2.3" fill="url(#cyb)"/>
<circle cx="814.0" cy="936.3" r="2.3" fill="url(#cyb)"/>
<circle cx="814.0" cy="940.8" r="2.3" fill="url(#cyb)"/>
<circle cx="860.2" cy="919.4" r="2.8" fill="url(#cyb)"/>
<circle cx="860.2" cy="953.1" r="2.8" fill="url(#cyb)"/>
<circle cx="861.2" cy="937.3" r="2.8" fill="url(#cyb)"/>
<circle cx="844.8" cy="931.8" r="2.3" fill="url(#cyb)"/>
<circle cx="844.8" cy="936.3" r="2.3" fill="url(#cyb)"/>
<circle cx="844.8" cy="940.8" r="2.3" fill="url(#cyb)"/>
<circle cx="891.0" cy="919.4" r="2.8" fill="url(#cyb)"/>
<circle cx="891.0" cy="953.1" r="2.8" fill="url(#cyb)"/>
<circle cx="892.0" cy="937.3" r="2.8" fill="url(#cyb)"/>
<circle cx="875.6" cy="931.8" r="2.3" fill="url(#cyb)"/>
<circle cx="875.6" cy="936.3" r="2.3" fill="url(#cyb)"/>
<circle cx="875.6" cy="940.8" r="2.3" fill="url(#cyb)"/>
<circle cx="921.8" cy="919.4" r="2.8" fill="url(#cyb)"/>
<circle cx="921.8" cy="953.1" r="2.8" fill="url(#cyb)"/>
<circle cx="922.8" cy="937.3" r="2.8" fill="url(#cyb)"/>
<circle cx="906.4" cy="931.8" r="2.3" fill="url(#cyb)"/>
<circle cx="906.4" cy="936.3" r="2.3" fill="url(#cyb)"/>
<circle cx="906.4" cy="940.8" r="2.3" fill="url(#cyb)"/>
<circle cx="952.6" cy="919.4" r="2.8" fill="url(#cyb)"/>
<circle cx="952.6" cy="953.1" r="2.8" fill="url(#cyb)"/>
<circle cx="953.6" cy="937.3" r="2.8" fill="url(#cyb)"/>
<circle cx="937.2" cy="931.8" r="2.3" fill="url(#cyb)"/>
<circle cx="937.2" cy="936.3" r="2.3" fill="url(#cyb)"/>
<circle cx="937.2" cy="940.8" r="2.3" fill="url(#cyb)"/>
<circle cx="968.0" cy="931.8" r="2.3" fill="url(#cyb)"/>
<circle cx="968.0" cy="936.3" r="2.3" fill="url(#cyb)"/>
<circle cx="968.0" cy="940.8" r="2.3" fill="url(#cyb)"/>
<circle cx="767.8" cy="953.1" r="2.8" fill="url(#cyb)"/>
<circle cx="767.8" cy="986.9" r="2.8" fill="url(#cyb)"/>
<circle cx="768.8" cy="971.0" r="2.8" fill="url(#cyb)"/>
<circle cx="752.4" cy="965.5" r="2.3" fill="url(#cyb)"/>
<circle cx="752.4" cy="970.0" r="2.3" fill="url(#cyb)"/>
<circle cx="752.4" cy="974.5" r="2.3" fill="url(#cyb)"/>
<circle cx="798.6" cy="953.1" r="2.8" fill="url(#cyb)"/>
<circle cx="798.6" cy="986.9" r="2.8" fill="url(#cyb)"/>
<circle cx="799.6" cy="971.0" r="2.8" fill="url(#cyb)"/>
<circle cx="783.2" cy="965.5" r="2.3" fill="url(#cyb)"/>
<circle cx="783.2" cy="970.0" r="2.3" fill="url(#cyb)"/>
<circle cx="783.2" cy="974.5" r="2.3" fill="url(#cyb)"/>
<circle cx="829.4" cy="953.1" r="2.8" fill="url(#cyb)"/>
<circle cx="829.4" cy="986.9" r="2.8" fill="url(#cyb)"/>
<circle cx="830.4" cy="971.0" r="2.8" fill="url(#cyb)"/>
<circle cx="814.0" cy="965.5" r="2.3" fill="url(#cyb)"/>
<circle cx="814.0" cy="970.0" r="2.3" fill="url(#cyb)"/>
<circle cx="814.0" cy="974.5" r="2.3" fill="url(#cyb)"/>
<circle cx="860.2" cy="953.1" r="2.8" fill="url(#cyb)"/>
<circle cx="860.2" cy="986.9" r="2.8" fill="url(#cyb)"/>
<circle cx="861.2" cy="971.0" r="2.8" fill="url(#cyb)"/>
<circle cx="844.8" cy="965.5" r="2.3" fill="url(#cyb)"/>
<circle cx="844.8" cy="970.0" r="2.3" fill="url(#cyb)"/>
<circle cx="844.8" cy="974.5" r="2.3" fill="url(#cyb)"/>
<circle cx="891.0" cy="953.1" r="2.8" fill="url(#cyb)"/>
<circle cx="891.0" cy="986.9" r="2.8" fill="url(#cyb)"/>
<circle cx="892.0" cy="971.0" r="2.8" fill="url(#cyb)"/>
<circle cx="875.6" cy="965.5" r="2.3" fill="url(#cyb)"/>
<circle cx="875.6" cy="970.0" r="2.3" fill="url(#cyb)"/>
<circle cx="875.6" cy="974.5" r="2.3" fill="url(#cyb)"/>
<circle cx="921.8" cy="953.1" r="2.8" fill="url(#cyb)"/>
<circle cx="921.8" cy="986.9" r="2.8" fill="url(#cyb)"/>
<circle cx="922.8" cy="971.0" r="2.8" fill="url(#cyb)"/>
<circle cx="906.4" cy="965.5" r="2.3" fill="url(#cyb)"/>
<circle cx="906.4" cy="970.0" r="2.3" fill="url(#cyb)"/>
<circle cx="906.4" cy="974.5" r="2.3" fill="url(#cyb)"/>
<circle cx="952.6" cy="953.1" r="2.8" fill="url(#cyb)"/>
<circle cx="952.6" cy="986.9" r="2.8" fill="url(#cyb)"/>
<circle cx="953.6" cy="971.0" r="2.8" fill="url(#cyb)"/>
<circle cx="937.2" cy="965.5" r="2.3" fill="url(#cyb)"/>
<circle cx="937.2" cy="970.0" r="2.3" fill="url(#cyb)"/>
<circle cx="937.2" cy="974.5" r="2.3" fill="url(#cyb)"/>
<circle cx="968.0" cy="965.5" r="2.3" fill="url(#cyb)"/>
<circle cx="968.0" cy="970.0" r="2.3" fill="url(#cyb)"/>
<circle cx="968.0" cy="974.5" r="2.3" fill="url(#cyb)"/>
<circle cx="767.8" cy="986.9" r="2.8" fill="url(#cyb)"/>
<circle cx="767.8" cy="1020.6" r="2.8" fill="url(#cyb)"/>
<circle cx="768.8" cy="1004.8" r="2.8" fill="url(#cyb)"/>
<circle cx="752.4" cy="999.3" r="2.3" fill="url(#cyb)"/>
<circle cx="752.4" cy="1003.8" r="2.3" fill="url(#cyb)"/>
<circle cx="752.4" cy="1008.3" r="2.3" fill="url(#cyb)"/>
<circle cx="798.6" cy="986.9" r="2.8" fill="url(#cyb)"/>
<circle cx="798.6" cy="1020.6" r="2.8" fill="url(#cyb)"/>
<circle cx="799.6" cy="1004.8" r="2.8" fill="url(#cyb)"/>
<circle cx="783.2" cy="999.3" r="2.3" fill="url(#cyb)"/>
<circle cx="783.2" cy="1003.8" r="2.3" fill="url(#cyb)"/>
<circle cx="783.2" cy="1008.3" r="2.3" fill="url(#cyb)"/>
<circle cx="829.4" cy="986.9" r="2.8" fill="url(#cyb)"/>
<circle cx="829.4" cy="1020.6" r="2.8" fill="url(#cyb)"/>
<circle cx="830.4" cy="1004.8" r="2.8" fill="url(#cyb)"/>
<circle cx="814.0" cy="999.3" r="2.3" fill="url(#cyb)"/>
<circle cx="814.0" cy="1003.8" r="2.3" fill="url(#cyb)"/>
<circle cx="814.0" cy="1008.3" r="2.3" fill="url(#cyb)"/>
<circle cx="860.2" cy="986.9" r="2.8" fill="url(#cyb)"/>
<circle cx="860.2" cy="1020.6" r="2.8" fill="url(#cyb)"/>
<circle cx="861.2" cy="1004.8" r="2.8" fill="url(#cyb)"/>
<circle cx="844.8" cy="999.3" r="2.3" fill="url(#cyb)"/>
<circle cx="844.8" cy="1003.8" r="2.3" fill="url(#cyb)"/>
<circle cx="844.8" cy="1008.3" r="2.3" fill="url(#cyb)"/>
<circle cx="891.0" cy="986.9" r="2.8" fill="url(#cyb)"/>
<circle cx="891.0" cy="1020.6" r="2.8" fill="url(#cyb)"/>
<circle cx="892.0" cy="1004.8" r="2.8" fill="url(#cyb)"/>
<circle cx="875.6" cy="999.3" r="2.3" fill="url(#cyb)"/>
<circle cx="875.6" cy="1003.8" r="2.3" fill="url(#cyb)"/>
<circle cx="875.6" cy="1008.3" r="2.3" fill="url(#cyb)"/>
<circle cx="921.8" cy="986.9" r="2.8" fill="url(#cyb)"/>
<circle cx="921.8" cy="1020.6" r="2.8" fill="url(#cyb)"/>
<circle cx="922.8" cy="1004.8" r="2.8" fill="url(#cyb)"/>
<circle cx="906.4" cy="999.3" r="2.3" fill="url(#cyb)"/>
<circle cx="906.4" cy="1003.8" r="2.3" fill="url(#cyb)"/>
<circle cx="906.4" cy="1008.3" r="2.3" fill="url(#cyb)"/>
<circle cx="952.6" cy="986.9" r="2.8" fill="url(#cyb)"/>
<circle cx="952.6" cy="1020.6" r="2.8" fill="url(#cyb)"/>
<circle cx="953.6" cy="1004.8" r="2.8" fill="url(#cyb)"/>
<circle cx="937.2" cy="999.3" r="2.3" fill="url(#cyb)"/>
<circle cx="937.2" cy="1003.8" r="2.3" fill="url(#cyb)"/>
<circle cx="937.2" cy="1008.3" r="2.3" fill="url(#cyb)"/>
<circle cx="968.0" cy="999.3" r="2.3" fill="url(#cyb)"/>
<circle cx="968.0" cy="1003.8" r="2.3" fill="url(#cyb)"/>
<circle cx="968.0" cy="1008.3" r="2.3" fill="url(#cyb)"/>
</g>
<text x="803.2" y="778.5" font-size="16.5" fill="#111" text-anchor="start" font-weight="bold" >Ag<tspan font-size="13" dy="-6">+</tspan></text>
<text x="889.3" y="778.5" font-size="16.5" fill="#111" text-anchor="start" font-weight="bold" >Ag<tspan font-size="13" dy="-6">+</tspan></text>
<text x="811" y="924" font-size="16.5" fill="#111" text-anchor="start" font-weight="bold" >I<tspan font-size="10" dy="-7">-</tspan></text>
<text x="898" y="924" font-size="16.5" fill="#111" text-anchor="start" font-weight="bold" >I<tspan font-size="10" dy="-7">-</tspan></text>
<text x="731" y="782" font-size="31" fill="#000" text-anchor="start" font-weight="bold" >f</text>
<rect x="1028.5" y="781.5" width="219.0" height="108.5" fill="none" stroke="#b7bfcc" stroke-width="1.1"/>
<rect x="1036.5" y="787.5" width="203.0" height="96.5" fill="none" stroke="#b7bfcc" stroke-width="1"/>
<line x1="1028.5" y1="781.5" x2="1036.5" y2="787.5" stroke="#b7bfcc" stroke-width="1" />
<line x1="1247.5" y1="781.5" x2="1239.5" y2="787.5" stroke="#b7bfcc" stroke-width="1" />
<line x1="1028.5" y1="890" x2="1036.5" y2="884" stroke="#b7bfcc" stroke-width="1" />
<line x1="1247.5" y1="890" x2="1239.5" y2="884" stroke="#b7bfcc" stroke-width="1" />
<use href="#c60_1" x="1048.1" y="774.8" width="37.4" height="37.4"/>
<use href="#c60_2" x="1082.6" y="774.8" width="37.4" height="37.4"/>
<use href="#c60_3" x="1119.0" y="774.8" width="37.4" height="37.4"/>
<use href="#c60_4" x="1153.5" y="774.8" width="37.4" height="37.4"/>
<use href="#c60_5" x="1187.9" y="774.8" width="37.4" height="37.4"/>
<use href="#c60_0" x="1029.9" y="802.2" width="37.4" height="37.4"/>
<use href="#c60_1" x="1064.3" y="802.2" width="37.4" height="37.4"/>
<use href="#c60_2" x="1098.8" y="802.2" width="37.4" height="37.4"/>
<use href="#c60_3" x="1135.2" y="802.2" width="37.4" height="37.4"/>
<use href="#c60_4" x="1169.7" y="802.2" width="37.4" height="37.4"/>
<use href="#c60_5" x="1206.1" y="802.2" width="37.4" height="37.4"/>
<use href="#c60_0" x="1048.1" y="830.5" width="37.4" height="37.4"/>
<use href="#c60_1" x="1082.6" y="830.5" width="37.4" height="37.4"/>
<use href="#c60_2" x="1119.0" y="830.5" width="37.4" height="37.4"/>
<use href="#c60_3" x="1153.5" y="830.5" width="37.4" height="37.4"/>
<use href="#c60_4" x="1187.9" y="830.5" width="37.4" height="37.4"/>
<use href="#c60_5" x="1029.9" y="856.9" width="37.4" height="37.4"/>
<use href="#c60_0" x="1064.3" y="856.9" width="37.4" height="37.4"/>
<use href="#c60_1" x="1098.8" y="856.9" width="37.4" height="37.4"/>
<use href="#c60_2" x="1135.2" y="856.9" width="37.4" height="37.4"/>
<use href="#c60_3" x="1169.7" y="856.9" width="37.4" height="37.4"/>
<use href="#c60_4" x="1206.1" y="856.9" width="37.4" height="37.4"/>
<g opacity="0.6"><use href="#c60_5" x="1065.9" y="788.9" width="36.3" height="36.3"/></g>
<g opacity="0.6"><use href="#c60_0" x="1101.9" y="788.9" width="36.3" height="36.3"/></g>
<g opacity="0.6"><use href="#c60_1" x="1136.9" y="788.9" width="36.3" height="36.3"/></g>
<g opacity="0.6"><use href="#c60_2" x="1171.9" y="788.9" width="36.3" height="36.3"/></g>
<g opacity="0.6"><use href="#c60_3" x="1047.9" y="816.9" width="36.3" height="36.3"/></g>
<g opacity="0.6"><use href="#c60_4" x="1082.9" y="816.9" width="36.3" height="36.3"/></g>
<g opacity="0.6"><use href="#c60_5" x="1118.9" y="816.9" width="36.3" height="36.3"/></g>
<g opacity="0.6"><use href="#c60_0" x="1153.9" y="816.9" width="36.3" height="36.3"/></g>
<g opacity="0.6"><use href="#c60_1" x="1188.9" y="816.9" width="36.3" height="36.3"/></g>
<g opacity="0.6"><use href="#c60_2" x="1065.9" y="843.9" width="36.3" height="36.3"/></g>
<g opacity="0.6"><use href="#c60_3" x="1101.9" y="843.9" width="36.3" height="36.3"/></g>
<g opacity="0.6"><use href="#c60_4" x="1136.9" y="843.9" width="36.3" height="36.3"/></g>
<g opacity="0.6"><use href="#c60_5" x="1171.9" y="843.9" width="36.3" height="36.3"/></g>
<path d="M1039.8,894.2 l0,9 l-4,5 M1039.8,903.2 l4,5 M1039.8,894.2 l-3.5,-3 M1039.8,894.2 l3.5,-3 M1039.8,899.2 l-3.5,-1.5 M1039.8,899.2 l3.5,-1.5" stroke="#8c96a2" stroke-width="1.3" fill="none"/>
<circle cx="1035.8" cy="908.7" r="1.9" fill="#e05050"/><circle cx="1043.8" cy="908.7" r="1.9" fill="#e05050"/>
<circle cx="1039.8" cy="903.2" r="1.4" fill="#d8a050"/>
<circle cx="1036.3" cy="891.2" r="1.2" fill="#b8c0ca"/><circle cx="1043.3" cy="891.2" r="1.2" fill="#b8c0ca"/>
<path d="M1054.0,893.9 l0,9 l-4,5 M1054.0,902.9 l4,5 M1054.0,893.9 l-3.5,-3 M1054.0,893.9 l3.5,-3 M1054.0,898.9 l-3.5,-1.5 M1054.0,898.9 l3.5,-1.5" stroke="#8c96a2" stroke-width="1.3" fill="none"/>
<circle cx="1050.0" cy="908.4" r="1.9" fill="#e05050"/><circle cx="1058.0" cy="908.4" r="1.9" fill="#e05050"/>
<circle cx="1054.0" cy="902.9" r="1.4" fill="#d8a050"/>
<circle cx="1050.5" cy="890.9" r="1.2" fill="#b8c0ca"/><circle cx="1057.5" cy="890.9" r="1.2" fill="#b8c0ca"/>
<path d="M1064.6,894.3 l0,9 l-4,5 M1064.6,903.3 l4,5 M1064.6,894.3 l-3.5,-3 M1064.6,894.3 l3.5,-3 M1064.6,899.3 l-3.5,-1.5 M1064.6,899.3 l3.5,-1.5" stroke="#8c96a2" stroke-width="1.3" fill="none"/>
<circle cx="1060.6" cy="908.8" r="1.9" fill="#e05050"/><circle cx="1068.6" cy="908.8" r="1.9" fill="#e05050"/>
<circle cx="1064.6" cy="903.3" r="1.4" fill="#d8a050"/>
<circle cx="1061.1" cy="891.3" r="1.2" fill="#b8c0ca"/><circle cx="1068.1" cy="891.3" r="1.2" fill="#b8c0ca"/>
<path d="M1075.6,894.0 l0,9 l-4,5 M1075.6,903.0 l4,5 M1075.6,894.0 l-3.5,-3 M1075.6,894.0 l3.5,-3 M1075.6,899.0 l-3.5,-1.5 M1075.6,899.0 l3.5,-1.5" stroke="#8c96a2" stroke-width="1.3" fill="none"/>
<circle cx="1071.6" cy="908.5" r="1.9" fill="#e05050"/><circle cx="1079.6" cy="908.5" r="1.9" fill="#e05050"/>
<circle cx="1075.6" cy="903.0" r="1.4" fill="#d8a050"/>
<circle cx="1072.1" cy="891.0" r="1.2" fill="#b8c0ca"/><circle cx="1079.1" cy="891.0" r="1.2" fill="#b8c0ca"/>
<path d="M1089.7,894.9 l0,9 l-4,5 M1089.7,903.9 l4,5 M1089.7,894.9 l-3.5,-3 M1089.7,894.9 l3.5,-3 M1089.7,899.9 l-3.5,-1.5 M1089.7,899.9 l3.5,-1.5" stroke="#8c96a2" stroke-width="1.3" fill="none"/>
<circle cx="1085.7" cy="909.4" r="1.9" fill="#e05050"/><circle cx="1093.7" cy="909.4" r="1.9" fill="#e05050"/>
<circle cx="1089.7" cy="903.9" r="1.4" fill="#d8a050"/>
<circle cx="1086.2" cy="891.9" r="1.2" fill="#b8c0ca"/><circle cx="1093.2" cy="891.9" r="1.2" fill="#b8c0ca"/>
<path d="M1099.9,893.4 l0,9 l-4,5 M1099.9,902.4 l4,5 M1099.9,893.4 l-3.5,-3 M1099.9,893.4 l3.5,-3 M1099.9,898.4 l-3.5,-1.5 M1099.9,898.4 l3.5,-1.5" stroke="#8c96a2" stroke-width="1.3" fill="none"/>
<circle cx="1095.9" cy="907.9" r="1.9" fill="#e05050"/><circle cx="1103.9" cy="907.9" r="1.9" fill="#e05050"/>
<circle cx="1099.9" cy="902.4" r="1.4" fill="#d8a050"/>
<circle cx="1096.4" cy="890.4" r="1.2" fill="#b8c0ca"/><circle cx="1103.4" cy="890.4" r="1.2" fill="#b8c0ca"/>
<path d="M1112.2,894.9 l0,9 l-4,5 M1112.2,903.9 l4,5 M1112.2,894.9 l-3.5,-3 M1112.2,894.9 l3.5,-3 M1112.2,899.9 l-3.5,-1.5 M1112.2,899.9 l3.5,-1.5" stroke="#8c96a2" stroke-width="1.3" fill="none"/>
<circle cx="1108.2" cy="909.4" r="1.9" fill="#e05050"/><circle cx="1116.2" cy="909.4" r="1.9" fill="#e05050"/>
<circle cx="1112.2" cy="903.9" r="1.4" fill="#d8a050"/>
<circle cx="1108.7" cy="891.9" r="1.2" fill="#b8c0ca"/><circle cx="1115.7" cy="891.9" r="1.2" fill="#b8c0ca"/>
<path d="M1126.9,892.6 l0,9 l-4,5 M1126.9,901.6 l4,5 M1126.9,892.6 l-3.5,-3 M1126.9,892.6 l3.5,-3 M1126.9,897.6 l-3.5,-1.5 M1126.9,897.6 l3.5,-1.5" stroke="#8c96a2" stroke-width="1.3" fill="none"/>
<circle cx="1122.9" cy="907.1" r="1.9" fill="#e05050"/><circle cx="1130.9" cy="907.1" r="1.9" fill="#e05050"/>
<circle cx="1126.9" cy="901.6" r="1.4" fill="#d8a050"/>
<circle cx="1123.4" cy="889.6" r="1.2" fill="#b8c0ca"/><circle cx="1130.4" cy="889.6" r="1.2" fill="#b8c0ca"/>
<path d="M1140.3,895.4 l0,9 l-4,5 M1140.3,904.4 l4,5 M1140.3,895.4 l-3.5,-3 M1140.3,895.4 l3.5,-3 M1140.3,900.4 l-3.5,-1.5 M1140.3,900.4 l3.5,-1.5" stroke="#8c96a2" stroke-width="1.3" fill="none"/>
<circle cx="1136.3" cy="909.9" r="1.9" fill="#e05050"/><circle cx="1144.3" cy="909.9" r="1.9" fill="#e05050"/>
<circle cx="1140.3" cy="904.4" r="1.4" fill="#d8a050"/>
<circle cx="1136.8" cy="892.4" r="1.2" fill="#b8c0ca"/><circle cx="1143.8" cy="892.4" r="1.2" fill="#b8c0ca"/>
<path d="M1151.3,894.3 l0,9 l-4,5 M1151.3,903.3 l4,5 M1151.3,894.3 l-3.5,-3 M1151.3,894.3 l3.5,-3 M1151.3,899.3 l-3.5,-1.5 M1151.3,899.3 l3.5,-1.5" stroke="#8c96a2" stroke-width="1.3" fill="none"/>
<circle cx="1147.3" cy="908.8" r="1.9" fill="#e05050"/><circle cx="1155.3" cy="908.8" r="1.9" fill="#e05050"/>
<circle cx="1151.3" cy="903.3" r="1.4" fill="#d8a050"/>
<circle cx="1147.8" cy="891.3" r="1.2" fill="#b8c0ca"/><circle cx="1154.8" cy="891.3" r="1.2" fill="#b8c0ca"/>
<path d="M1161.6,892.5 l0,9 l-4,5 M1161.6,901.5 l4,5 M1161.6,892.5 l-3.5,-3 M1161.6,892.5 l3.5,-3 M1161.6,897.5 l-3.5,-1.5 M1161.6,897.5 l3.5,-1.5" stroke="#8c96a2" stroke-width="1.3" fill="none"/>
<circle cx="1157.6" cy="907.0" r="1.9" fill="#e05050"/><circle cx="1165.6" cy="907.0" r="1.9" fill="#e05050"/>
<circle cx="1161.6" cy="901.5" r="1.4" fill="#d8a050"/>
<circle cx="1158.1" cy="889.5" r="1.2" fill="#b8c0ca"/><circle cx="1165.1" cy="889.5" r="1.2" fill="#b8c0ca"/>
<path d="M1175.4,892.7 l0,9 l-4,5 M1175.4,901.7 l4,5 M1175.4,892.7 l-3.5,-3 M1175.4,892.7 l3.5,-3 M1175.4,897.7 l-3.5,-1.5 M1175.4,897.7 l3.5,-1.5" stroke="#8c96a2" stroke-width="1.3" fill="none"/>
<circle cx="1171.4" cy="907.2" r="1.9" fill="#e05050"/><circle cx="1179.4" cy="907.2" r="1.9" fill="#e05050"/>
<circle cx="1175.4" cy="901.7" r="1.4" fill="#d8a050"/>
<circle cx="1171.9" cy="889.7" r="1.2" fill="#b8c0ca"/><circle cx="1178.9" cy="889.7" r="1.2" fill="#b8c0ca"/>
<path d="M1186.4,893.2 l0,9 l-4,5 M1186.4,902.2 l4,5 M1186.4,893.2 l-3.5,-3 M1186.4,893.2 l3.5,-3 M1186.4,898.2 l-3.5,-1.5 M1186.4,898.2 l3.5,-1.5" stroke="#8c96a2" stroke-width="1.3" fill="none"/>
<circle cx="1182.4" cy="907.7" r="1.9" fill="#e05050"/><circle cx="1190.4" cy="907.7" r="1.9" fill="#e05050"/>
<circle cx="1186.4" cy="902.2" r="1.4" fill="#d8a050"/>
<circle cx="1182.9" cy="890.2" r="1.2" fill="#b8c0ca"/><circle cx="1189.9" cy="890.2" r="1.2" fill="#b8c0ca"/>
<path d="M1198.0,893.9 l0,9 l-4,5 M1198.0,902.9 l4,5 M1198.0,893.9 l-3.5,-3 M1198.0,893.9 l3.5,-3 M1198.0,898.9 l-3.5,-1.5 M1198.0,898.9 l3.5,-1.5" stroke="#8c96a2" stroke-width="1.3" fill="none"/>
<circle cx="1194.0" cy="908.4" r="1.9" fill="#e05050"/><circle cx="1202.0" cy="908.4" r="1.9" fill="#e05050"/>
<circle cx="1198.0" cy="902.9" r="1.4" fill="#d8a050"/>
<circle cx="1194.5" cy="890.9" r="1.2" fill="#b8c0ca"/><circle cx="1201.5" cy="890.9" r="1.2" fill="#b8c0ca"/>
<path d="M1212.0,895.0 l0,9 l-4,5 M1212.0,904.0 l4,5 M1212.0,895.0 l-3.5,-3 M1212.0,895.0 l3.5,-3 M1212.0,900.0 l-3.5,-1.5 M1212.0,900.0 l3.5,-1.5" stroke="#8c96a2" stroke-width="1.3" fill="none"/>
<circle cx="1208.0" cy="909.5" r="1.9" fill="#e05050"/><circle cx="1216.0" cy="909.5" r="1.9" fill="#e05050"/>
<circle cx="1212.0" cy="904.0" r="1.4" fill="#d8a050"/>
<circle cx="1208.5" cy="892.0" r="1.2" fill="#b8c0ca"/><circle cx="1215.5" cy="892.0" r="1.2" fill="#b8c0ca"/>
<path d="M1224.6,894.4 l0,9 l-4,5 M1224.6,903.4 l4,5 M1224.6,894.4 l-3.5,-3 M1224.6,894.4 l3.5,-3 M1224.6,899.4 l-3.5,-1.5 M1224.6,899.4 l3.5,-1.5" stroke="#8c96a2" stroke-width="1.3" fill="none"/>
<circle cx="1220.6" cy="908.9" r="1.9" fill="#e05050"/><circle cx="1228.6" cy="908.9" r="1.9" fill="#e05050"/>
<circle cx="1224.6" cy="903.4" r="1.4" fill="#d8a050"/>
<circle cx="1221.1" cy="891.4" r="1.2" fill="#b8c0ca"/><circle cx="1228.1" cy="891.4" r="1.2" fill="#b8c0ca"/>
<path d="M1236.8,894.5 l0,9 l-4,5 M1236.8,903.5 l4,5 M1236.8,894.5 l-3.5,-3 M1236.8,894.5 l3.5,-3 M1236.8,899.5 l-3.5,-1.5 M1236.8,899.5 l3.5,-1.5" stroke="#8c96a2" stroke-width="1.3" fill="none"/>
<circle cx="1232.8" cy="909.0" r="1.9" fill="#e05050"/><circle cx="1240.8" cy="909.0" r="1.9" fill="#e05050"/>
<circle cx="1236.8" cy="903.5" r="1.4" fill="#d8a050"/>
<circle cx="1233.3" cy="891.5" r="1.2" fill="#b8c0ca"/><circle cx="1240.3" cy="891.5" r="1.2" fill="#b8c0ca"/>
<clipPath id="latclip2"><rect x="1029" y="915" width="219" height="108"/></clipPath>
<g clip-path="url(#latclip2)">
<polygon points="1046.1,917.5 1028.9,936.4 1047.1,938.4" fill="#fde2a6"/>
<polygon points="1046.1,917.5 1063.3,936.4 1047.1,938.4" fill="#f6b676"/>
<polygon points="1028.9,936.4 1046.1,955.3 1047.1,938.4" fill="#eea262"/>
<polygon points="1063.3,936.4 1046.1,955.3 1047.1,938.4" fill="#cf8848"/>
<polygon points="1076.9,917.5 1059.7,936.4 1077.9,938.4" fill="#fde2a6"/>
<polygon points="1076.9,917.5 1094.1,936.4 1077.9,938.4" fill="#f6b676"/>
<polygon points="1059.7,936.4 1076.9,955.3 1077.9,938.4" fill="#eea262"/>
<polygon points="1094.1,936.4 1076.9,955.3 1077.9,938.4" fill="#cf8848"/>
<polygon points="1107.7,917.5 1090.5,936.4 1108.7,938.4" fill="#fde2a6"/>
<polygon points="1107.7,917.5 1124.9,936.4 1108.7,938.4" fill="#f6b676"/>
<polygon points="1090.5,936.4 1107.7,955.3 1108.7,938.4" fill="#eea262"/>
<polygon points="1124.9,936.4 1107.7,955.3 1108.7,938.4" fill="#cf8848"/>
<polygon points="1138.5,917.5 1121.3,936.4 1139.5,938.4" fill="#fde2a6"/>
<polygon points="1138.5,917.5 1155.7,936.4 1139.5,938.4" fill="#f6b676"/>
<polygon points="1121.3,936.4 1138.5,955.3 1139.5,938.4" fill="#eea262"/>
<polygon points="1155.7,936.4 1138.5,955.3 1139.5,938.4" fill="#cf8848"/>
<polygon points="1169.3,917.5 1152.1,936.4 1170.3,938.4" fill="#fde2a6"/>
<polygon points="1169.3,917.5 1186.5,936.4 1170.3,938.4" fill="#f6b676"/>
<polygon points="1152.1,936.4 1169.3,955.3 1170.3,938.4" fill="#eea262"/>
<polygon points="1186.5,936.4 1169.3,955.3 1170.3,938.4" fill="#cf8848"/>
<polygon points="1200.1,917.5 1182.9,936.4 1201.1,938.4" fill="#fde2a6"/>
<polygon points="1200.1,917.5 1217.3,936.4 1201.1,938.4" fill="#f6b676"/>
<polygon points="1182.9,936.4 1200.1,955.3 1201.1,938.4" fill="#eea262"/>
<polygon points="1217.3,936.4 1200.1,955.3 1201.1,938.4" fill="#cf8848"/>
<polygon points="1230.9,917.5 1213.7,936.4 1231.9,938.4" fill="#fde2a6"/>
<polygon points="1230.9,917.5 1248.1,936.4 1231.9,938.4" fill="#f6b676"/>
<polygon points="1213.7,936.4 1230.9,955.3 1231.9,938.4" fill="#eea262"/>
<polygon points="1248.1,936.4 1230.9,955.3 1231.9,938.4" fill="#cf8848"/>
<polygon points="1046.1,951.7 1028.9,970.6 1047.1,972.6" fill="#fde2a6"/>
<polygon points="1046.1,951.7 1063.3,970.6 1047.1,972.6" fill="#f6b676"/>
<polygon points="1028.9,970.6 1046.1,989.5 1047.1,972.6" fill="#eea262"/>
<polygon points="1063.3,970.6 1046.1,989.5 1047.1,972.6" fill="#cf8848"/>
<polygon points="1076.9,951.7 1059.7,970.6 1077.9,972.6" fill="#fde2a6"/>
<polygon points="1076.9,951.7 1094.1,970.6 1077.9,972.6" fill="#f6b676"/>
<polygon points="1059.7,970.6 1076.9,989.5 1077.9,972.6" fill="#eea262"/>
<polygon points="1094.1,970.6 1076.9,989.5 1077.9,972.6" fill="#cf8848"/>
<polygon points="1107.7,951.7 1090.5,970.6 1108.7,972.6" fill="#fde2a6"/>
<polygon points="1107.7,951.7 1124.9,970.6 1108.7,972.6" fill="#f6b676"/>
<polygon points="1090.5,970.6 1107.7,989.5 1108.7,972.6" fill="#eea262"/>
<polygon points="1124.9,970.6 1107.7,989.5 1108.7,972.6" fill="#cf8848"/>
<polygon points="1138.5,951.7 1121.3,970.6 1139.5,972.6" fill="#fde2a6"/>
<polygon points="1138.5,951.7 1155.7,970.6 1139.5,972.6" fill="#f6b676"/>
<polygon points="1121.3,970.6 1138.5,989.5 1139.5,972.6" fill="#eea262"/>
<polygon points="1155.7,970.6 1138.5,989.5 1139.5,972.6" fill="#cf8848"/>
<polygon points="1169.3,951.7 1152.1,970.6 1170.3,972.6" fill="#fde2a6"/>
<polygon points="1169.3,951.7 1186.5,970.6 1170.3,972.6" fill="#f6b676"/>
<polygon points="1152.1,970.6 1169.3,989.5 1170.3,972.6" fill="#eea262"/>
<polygon points="1186.5,970.6 1169.3,989.5 1170.3,972.6" fill="#cf8848"/>
<polygon points="1200.1,951.7 1182.9,970.6 1201.1,972.6" fill="#fde2a6"/>
<polygon points="1200.1,951.7 1217.3,970.6 1201.1,972.6" fill="#f6b676"/>
<polygon points="1182.9,970.6 1200.1,989.5 1201.1,972.6" fill="#eea262"/>
<polygon points="1217.3,970.6 1200.1,989.5 1201.1,972.6" fill="#cf8848"/>
<polygon points="1230.9,951.7 1213.7,970.6 1231.9,972.6" fill="#fde2a6"/>
<polygon points="1230.9,951.7 1248.1,970.6 1231.9,972.6" fill="#f6b676"/>
<polygon points="1213.7,970.6 1230.9,989.5 1231.9,972.6" fill="#eea262"/>
<polygon points="1248.1,970.6 1230.9,989.5 1231.9,972.6" fill="#cf8848"/>
<polygon points="1046.1,985.7 1028.9,1004.6 1047.1,1006.6" fill="#fde2a6"/>
<polygon points="1046.1,985.7 1063.3,1004.6 1047.1,1006.6" fill="#f6b676"/>
<polygon points="1028.9,1004.6 1046.1,1023.5 1047.1,1006.6" fill="#eea262"/>
<polygon points="1063.3,1004.6 1046.1,1023.5 1047.1,1006.6" fill="#cf8848"/>
<polygon points="1076.9,985.7 1059.7,1004.6 1077.9,1006.6" fill="#fde2a6"/>
<polygon points="1076.9,985.7 1094.1,1004.6 1077.9,1006.6" fill="#f6b676"/>
<polygon points="1059.7,1004.6 1076.9,1023.5 1077.9,1006.6" fill="#eea262"/>
<polygon points="1094.1,1004.6 1076.9,1023.5 1077.9,1006.6" fill="#cf8848"/>
<polygon points="1107.7,985.7 1090.5,1004.6 1108.7,1006.6" fill="#fde2a6"/>
<polygon points="1107.7,985.7 1124.9,1004.6 1108.7,1006.6" fill="#f6b676"/>
<polygon points="1090.5,1004.6 1107.7,1023.5 1108.7,1006.6" fill="#eea262"/>
<polygon points="1124.9,1004.6 1107.7,1023.5 1108.7,1006.6" fill="#cf8848"/>
<polygon points="1138.5,985.7 1121.3,1004.6 1139.5,1006.6" fill="#fde2a6"/>
<polygon points="1138.5,985.7 1155.7,1004.6 1139.5,1006.6" fill="#f6b676"/>
<polygon points="1121.3,1004.6 1138.5,1023.5 1139.5,1006.6" fill="#eea262"/>
<polygon points="1155.7,1004.6 1138.5,1023.5 1139.5,1006.6" fill="#cf8848"/>
<polygon points="1169.3,985.7 1152.1,1004.6 1170.3,1006.6" fill="#fde2a6"/>
<polygon points="1169.3,985.7 1186.5,1004.6 1170.3,1006.6" fill="#f6b676"/>
<polygon points="1152.1,1004.6 1169.3,1023.5 1170.3,1006.6" fill="#eea262"/>
<polygon points="1186.5,1004.6 1169.3,1023.5 1170.3,1006.6" fill="#cf8848"/>
<polygon points="1200.1,985.7 1182.9,1004.6 1201.1,1006.6" fill="#fde2a6"/>
<polygon points="1200.1,985.7 1217.3,1004.6 1201.1,1006.6" fill="#f6b676"/>
<polygon points="1182.9,1004.6 1200.1,1023.5 1201.1,1006.6" fill="#eea262"/>
<polygon points="1217.3,1004.6 1200.1,1023.5 1201.1,1006.6" fill="#cf8848"/>
<polygon points="1230.9,985.7 1213.7,1004.6 1231.9,1006.6" fill="#fde2a6"/>
<polygon points="1230.9,985.7 1248.1,1004.6 1231.9,1006.6" fill="#f6b676"/>
<polygon points="1213.7,1004.6 1230.9,1023.5 1231.9,1006.6" fill="#eea262"/>
<polygon points="1248.1,1004.6 1230.9,1023.5 1231.9,1006.6" fill="#cf8848"/>
<line x1="1065.5" y1="948.5" x2="1063.0" y2="956.0" stroke="#6a30b8" stroke-width="7" stroke-linecap="round"/>
<circle cx="1065.5" cy="948.5" r="4" fill="url(#dpb)"/>
<circle cx="1063.0" cy="956.5" r="5" fill="url(#pkb)"/>
<line x1="1096.3" y1="948.5" x2="1093.8" y2="956.0" stroke="#6a30b8" stroke-width="7" stroke-linecap="round"/>
<circle cx="1096.3" cy="948.5" r="4" fill="url(#dpb)"/>
<circle cx="1093.8" cy="956.5" r="5" fill="url(#pkb)"/>
<line x1="1127.1" y1="948.5" x2="1124.6" y2="956.0" stroke="#6a30b8" stroke-width="7" stroke-linecap="round"/>
<circle cx="1127.1" cy="948.5" r="4" fill="url(#dpb)"/>
<circle cx="1124.6" cy="956.5" r="5" fill="url(#pkb)"/>
<line x1="1157.9" y1="948.5" x2="1155.4" y2="956.0" stroke="#6a30b8" stroke-width="7" stroke-linecap="round"/>
<circle cx="1157.9" cy="948.5" r="4" fill="url(#dpb)"/>
<circle cx="1155.4" cy="956.5" r="5" fill="url(#pkb)"/>
<line x1="1188.7" y1="948.5" x2="1186.2" y2="956.0" stroke="#6a30b8" stroke-width="7" stroke-linecap="round"/>
<circle cx="1188.7" cy="948.5" r="4" fill="url(#dpb)"/>
<circle cx="1186.2" cy="956.5" r="5" fill="url(#pkb)"/>
<line x1="1219.5" y1="948.5" x2="1217.0" y2="956.0" stroke="#6a30b8" stroke-width="7" stroke-linecap="round"/>
<circle cx="1219.5" cy="948.5" r="4" fill="url(#dpb)"/>
<circle cx="1217.0" cy="956.5" r="5" fill="url(#pkb)"/>
<line x1="1065.5" y1="982.6" x2="1063.0" y2="990.1" stroke="#6a30b8" stroke-width="7" stroke-linecap="round"/>
<circle cx="1065.5" cy="982.6" r="4" fill="url(#dpb)"/>
<circle cx="1063.0" cy="990.6" r="5" fill="url(#pkb)"/>
<line x1="1096.3" y1="982.6" x2="1093.8" y2="990.1" stroke="#6a30b8" stroke-width="7" stroke-linecap="round"/>
<circle cx="1096.3" cy="982.6" r="4" fill="url(#dpb)"/>
<circle cx="1093.8" cy="990.6" r="5" fill="url(#pkb)"/>
<line x1="1127.1" y1="982.6" x2="1124.6" y2="990.1" stroke="#6a30b8" stroke-width="7" stroke-linecap="round"/>
<circle cx="1127.1" cy="982.6" r="4" fill="url(#dpb)"/>
<circle cx="1124.6" cy="990.6" r="5" fill="url(#pkb)"/>
<line x1="1157.9" y1="982.6" x2="1155.4" y2="990.1" stroke="#6a30b8" stroke-width="7" stroke-linecap="round"/>
<circle cx="1157.9" cy="982.6" r="4" fill="url(#dpb)"/>
<circle cx="1155.4" cy="990.6" r="5" fill="url(#pkb)"/>
<line x1="1188.7" y1="982.6" x2="1186.2" y2="990.1" stroke="#6a30b8" stroke-width="7" stroke-linecap="round"/>
<circle cx="1188.7" cy="982.6" r="4" fill="url(#dpb)"/>
<circle cx="1186.2" cy="990.6" r="5" fill="url(#pkb)"/>
<line x1="1219.5" y1="982.6" x2="1217.0" y2="990.1" stroke="#6a30b8" stroke-width="7" stroke-linecap="round"/>
<circle cx="1219.5" cy="982.6" r="4" fill="url(#dpb)"/>
<circle cx="1217.0" cy="990.6" r="5" fill="url(#pkb)"/>
<circle cx="1046.1" cy="919.5" r="2.8" fill="url(#cyb)"/>
<circle cx="1046.1" cy="953.2" r="2.8" fill="url(#cyb)"/>
<circle cx="1047.1" cy="937.4" r="2.8" fill="url(#cyb)"/>
<circle cx="1030.7" cy="931.9" r="2.3" fill="url(#cyb)"/>
<circle cx="1030.7" cy="936.4" r="2.3" fill="url(#cyb)"/>
<circle cx="1030.7" cy="940.9" r="2.3" fill="url(#cyb)"/>
<circle cx="1076.9" cy="919.5" r="2.8" fill="url(#cyb)"/>
<circle cx="1076.9" cy="953.2" r="2.8" fill="url(#cyb)"/>
<circle cx="1077.9" cy="937.4" r="2.8" fill="url(#cyb)"/>
<circle cx="1061.5" cy="931.9" r="2.3" fill="url(#cyb)"/>
<circle cx="1061.5" cy="936.4" r="2.3" fill="url(#cyb)"/>
<circle cx="1061.5" cy="940.9" r="2.3" fill="url(#cyb)"/>
<circle cx="1107.7" cy="919.5" r="2.8" fill="url(#cyb)"/>
<circle cx="1107.7" cy="953.2" r="2.8" fill="url(#cyb)"/>
<circle cx="1108.7" cy="937.4" r="2.8" fill="url(#cyb)"/>
<circle cx="1092.3" cy="931.9" r="2.3" fill="url(#cyb)"/>
<circle cx="1092.3" cy="936.4" r="2.3" fill="url(#cyb)"/>
<circle cx="1092.3" cy="940.9" r="2.3" fill="url(#cyb)"/>
<circle cx="1138.5" cy="919.5" r="2.8" fill="url(#cyb)"/>
<circle cx="1138.5" cy="953.2" r="2.8" fill="url(#cyb)"/>
<circle cx="1139.5" cy="937.4" r="2.8" fill="url(#cyb)"/>
<circle cx="1123.1" cy="931.9" r="2.3" fill="url(#cyb)"/>
<circle cx="1123.1" cy="936.4" r="2.3" fill="url(#cyb)"/>
<circle cx="1123.1" cy="940.9" r="2.3" fill="url(#cyb)"/>
<circle cx="1169.3" cy="919.5" r="2.8" fill="url(#cyb)"/>
<circle cx="1169.3" cy="953.2" r="2.8" fill="url(#cyb)"/>
<circle cx="1170.3" cy="937.4" r="2.8" fill="url(#cyb)"/>
<circle cx="1153.9" cy="931.9" r="2.3" fill="url(#cyb)"/>
<circle cx="1153.9" cy="936.4" r="2.3" fill="url(#cyb)"/>
<circle cx="1153.9" cy="940.9" r="2.3" fill="url(#cyb)"/>
<circle cx="1200.1" cy="919.5" r="2.8" fill="url(#cyb)"/>
<circle cx="1200.1" cy="953.2" r="2.8" fill="url(#cyb)"/>
<circle cx="1201.1" cy="937.4" r="2.8" fill="url(#cyb)"/>
<circle cx="1184.7" cy="931.9" r="2.3" fill="url(#cyb)"/>
<circle cx="1184.7" cy="936.4" r="2.3" fill="url(#cyb)"/>
<circle cx="1184.7" cy="940.9" r="2.3" fill="url(#cyb)"/>
<circle cx="1230.9" cy="919.5" r="2.8" fill="url(#cyb)"/>
<circle cx="1230.9" cy="953.2" r="2.8" fill="url(#cyb)"/>
<circle cx="1231.9" cy="937.4" r="2.8" fill="url(#cyb)"/>
<circle cx="1215.5" cy="931.9" r="2.3" fill="url(#cyb)"/>
<circle cx="1215.5" cy="936.4" r="2.3" fill="url(#cyb)"/>
<circle cx="1215.5" cy="940.9" r="2.3" fill="url(#cyb)"/>
<circle cx="1246.3" cy="931.9" r="2.3" fill="url(#cyb)"/>
<circle cx="1246.3" cy="936.4" r="2.3" fill="url(#cyb)"/>
<circle cx="1246.3" cy="940.9" r="2.3" fill="url(#cyb)"/>
<circle cx="1046.1" cy="953.8" r="2.8" fill="url(#cyb)"/>
<circle cx="1046.1" cy="987.5" r="2.8" fill="url(#cyb)"/>
<circle cx="1047.1" cy="971.6" r="2.8" fill="url(#cyb)"/>
<circle cx="1030.7" cy="966.1" r="2.3" fill="url(#cyb)"/>
<circle cx="1030.7" cy="970.6" r="2.3" fill="url(#cyb)"/>
<circle cx="1030.7" cy="975.1" r="2.3" fill="url(#cyb)"/>
<circle cx="1076.9" cy="953.8" r="2.8" fill="url(#cyb)"/>
<circle cx="1076.9" cy="987.5" r="2.8" fill="url(#cyb)"/>
<circle cx="1077.9" cy="971.6" r="2.8" fill="url(#cyb)"/>
<circle cx="1061.5" cy="966.1" r="2.3" fill="url(#cyb)"/>
<circle cx="1061.5" cy="970.6" r="2.3" fill="url(#cyb)"/>
<circle cx="1061.5" cy="975.1" r="2.3" fill="url(#cyb)"/>
<circle cx="1107.7" cy="953.8" r="2.8" fill="url(#cyb)"/>
<circle cx="1107.7" cy="987.5" r="2.8" fill="url(#cyb)"/>
<circle cx="1108.7" cy="971.6" r="2.8" fill="url(#cyb)"/>
<circle cx="1092.3" cy="966.1" r="2.3" fill="url(#cyb)"/>
<circle cx="1092.3" cy="970.6" r="2.3" fill="url(#cyb)"/>
<circle cx="1092.3" cy="975.1" r="2.3" fill="url(#cyb)"/>
<circle cx="1138.5" cy="953.8" r="2.8" fill="url(#cyb)"/>
<circle cx="1138.5" cy="987.5" r="2.8" fill="url(#cyb)"/>
<circle cx="1139.5" cy="971.6" r="2.8" fill="url(#cyb)"/>
<circle cx="1123.1" cy="966.1" r="2.3" fill="url(#cyb)"/>
<circle cx="1123.1" cy="970.6" r="2.3" fill="url(#cyb)"/>
<circle cx="1123.1" cy="975.1" r="2.3" fill="url(#cyb)"/>
<circle cx="1169.3" cy="953.8" r="2.8" fill="url(#cyb)"/>
<circle cx="1169.3" cy="987.5" r="2.8" fill="url(#cyb)"/>
<circle cx="1170.3" cy="971.6" r="2.8" fill="url(#cyb)"/>
<circle cx="1153.9" cy="966.1" r="2.3" fill="url(#cyb)"/>
<circle cx="1153.9" cy="970.6" r="2.3" fill="url(#cyb)"/>
<circle cx="1153.9" cy="975.1" r="2.3" fill="url(#cyb)"/>
<circle cx="1200.1" cy="953.8" r="2.8" fill="url(#cyb)"/>
<circle cx="1200.1" cy="987.5" r="2.8" fill="url(#cyb)"/>
<circle cx="1201.1" cy="971.6" r="2.8" fill="url(#cyb)"/>
<circle cx="1184.7" cy="966.1" r="2.3" fill="url(#cyb)"/>
<circle cx="1184.7" cy="970.6" r="2.3" fill="url(#cyb)"/>
<circle cx="1184.7" cy="975.1" r="2.3" fill="url(#cyb)"/>
<circle cx="1230.9" cy="953.8" r="2.8" fill="url(#cyb)"/>
<circle cx="1230.9" cy="987.5" r="2.8" fill="url(#cyb)"/>
<circle cx="1231.9" cy="971.6" r="2.8" fill="url(#cyb)"/>
<circle cx="1215.5" cy="966.1" r="2.3" fill="url(#cyb)"/>
<circle cx="1215.5" cy="970.6" r="2.3" fill="url(#cyb)"/>
<circle cx="1215.5" cy="975.1" r="2.3" fill="url(#cyb)"/>
<circle cx="1246.3" cy="966.1" r="2.3" fill="url(#cyb)"/>
<circle cx="1246.3" cy="970.6" r="2.3" fill="url(#cyb)"/>
<circle cx="1246.3" cy="975.1" r="2.3" fill="url(#cyb)"/>
<circle cx="1046.1" cy="987.8" r="2.8" fill="url(#cyb)"/>
<circle cx="1046.1" cy="1021.5" r="2.8" fill="url(#cyb)"/>
<circle cx="1047.1" cy="1005.6" r="2.8" fill="url(#cyb)"/>
<circle cx="1030.7" cy="1000.1" r="2.3" fill="url(#cyb)"/>
<circle cx="1030.7" cy="1004.6" r="2.3" fill="url(#cyb)"/>
<circle cx="1030.7" cy="1009.1" r="2.3" fill="url(#cyb)"/>
<circle cx="1076.9" cy="987.8" r="2.8" fill="url(#cyb)"/>
<circle cx="1076.9" cy="1021.5" r="2.8" fill="url(#cyb)"/>
<circle cx="1077.9" cy="1005.6" r="2.8" fill="url(#cyb)"/>
<circle cx="1061.5" cy="1000.1" r="2.3" fill="url(#cyb)"/>
<circle cx="1061.5" cy="1004.6" r="2.3" fill="url(#cyb)"/>
<circle cx="1061.5" cy="1009.1" r="2.3" fill="url(#cyb)"/>
<circle cx="1107.7" cy="987.8" r="2.8" fill="url(#cyb)"/>
<circle cx="1107.7" cy="1021.5" r="2.8" fill="url(#cyb)"/>
<circle cx="1108.7" cy="1005.6" r="2.8" fill="url(#cyb)"/>
<circle cx="1092.3" cy="1000.1" r="2.3" fill="url(#cyb)"/>
<circle cx="1092.3" cy="1004.6" r="2.3" fill="url(#cyb)"/>
<circle cx="1092.3" cy="1009.1" r="2.3" fill="url(#cyb)"/>
<circle cx="1138.5" cy="987.8" r="2.8" fill="url(#cyb)"/>
<circle cx="1138.5" cy="1021.5" r="2.8" fill="url(#cyb)"/>
<circle cx="1139.5" cy="1005.6" r="2.8" fill="url(#cyb)"/>
<circle cx="1123.1" cy="1000.1" r="2.3" fill="url(#cyb)"/>
<circle cx="1123.1" cy="1004.6" r="2.3" fill="url(#cyb)"/>
<circle cx="1123.1" cy="1009.1" r="2.3" fill="url(#cyb)"/>
<circle cx="1169.3" cy="987.8" r="2.8" fill="url(#cyb)"/>
<circle cx="1169.3" cy="1021.5" r="2.8" fill="url(#cyb)"/>
<circle cx="1170.3" cy="1005.6" r="2.8" fill="url(#cyb)"/>
<circle cx="1153.9" cy="1000.1" r="2.3" fill="url(#cyb)"/>
<circle cx="1153.9" cy="1004.6" r="2.3" fill="url(#cyb)"/>
<circle cx="1153.9" cy="1009.1" r="2.3" fill="url(#cyb)"/>
<circle cx="1200.1" cy="987.8" r="2.8" fill="url(#cyb)"/>
<circle cx="1200.1" cy="1021.5" r="2.8" fill="url(#cyb)"/>
<circle cx="1201.1" cy="1005.6" r="2.8" fill="url(#cyb)"/>
<circle cx="1184.7" cy="1000.1" r="2.3" fill="url(#cyb)"/>
<circle cx="1184.7" cy="1004.6" r="2.3" fill="url(#cyb)"/>
<circle cx="1184.7" cy="1009.1" r="2.3" fill="url(#cyb)"/>
<circle cx="1230.9" cy="987.8" r="2.8" fill="url(#cyb)"/>
<circle cx="1230.9" cy="1021.5" r="2.8" fill="url(#cyb)"/>
<circle cx="1231.9" cy="1005.6" r="2.8" fill="url(#cyb)"/>
<circle cx="1215.5" cy="1000.1" r="2.3" fill="url(#cyb)"/>
<circle cx="1215.5" cy="1004.6" r="2.3" fill="url(#cyb)"/>
<circle cx="1215.5" cy="1009.1" r="2.3" fill="url(#cyb)"/>
<circle cx="1246.3" cy="1000.1" r="2.3" fill="url(#cyb)"/>
<circle cx="1246.3" cy="1004.6" r="2.3" fill="url(#cyb)"/>
<circle cx="1246.3" cy="1009.1" r="2.3" fill="url(#cyb)"/>
</g>
<path d="M1047,915 Q1072,888 1096,908" fill="none" stroke="url(#cyarr)" stroke-width="4"/>
<polygon points="1090,904 1101,912 1097,900" fill="#35c8c8" transform="rotate(0)"/>
<path d="M1170,915 Q1195,888 1219,908" fill="none" stroke="url(#cyarr)" stroke-width="4"/>
<polygon points="1213,904 1224,912 1220,900" fill="#35c8c8"/>
<path d="M1062,768 Q1090,790 1112,768" fill="none" stroke="url(#orarr)" stroke-width="4.5"/>
<polygon points="1106,768 1118,760 1115,773" fill="#f07a3a"/>
<path d="M1168,768 Q1196,790 1218,768" fill="none" stroke="url(#orarr)" stroke-width="4.5"/>
<polygon points="1212,768 1224,760 1221,773" fill="#f07a3a"/>
<text x="1037.5" y="770.5" font-size="16.5" fill="#111" text-anchor="start" font-weight="bold" >Ag<tspan font-size="13" dy="-6">+</tspan></text>
<text x="1144.5" y="770.5" font-size="16.5" fill="#111" text-anchor="start" font-weight="bold" >Ag<tspan font-size="13" dy="-6">+</tspan></text>
<text x="1031" y="929" font-size="16.5" fill="#111" text-anchor="start" font-weight="bold" >I<tspan font-size="10" dy="-7">-</tspan></text>
<text x="1151" y="929" font-size="16.5" fill="#111" text-anchor="start" font-weight="bold" >I<tspan font-size="10" dy="-7">-</tspan></text>
<text x="1001" y="776" font-size="31" fill="#000" text-anchor="start" font-weight="bold" >g</text>
</svg></body></html>
